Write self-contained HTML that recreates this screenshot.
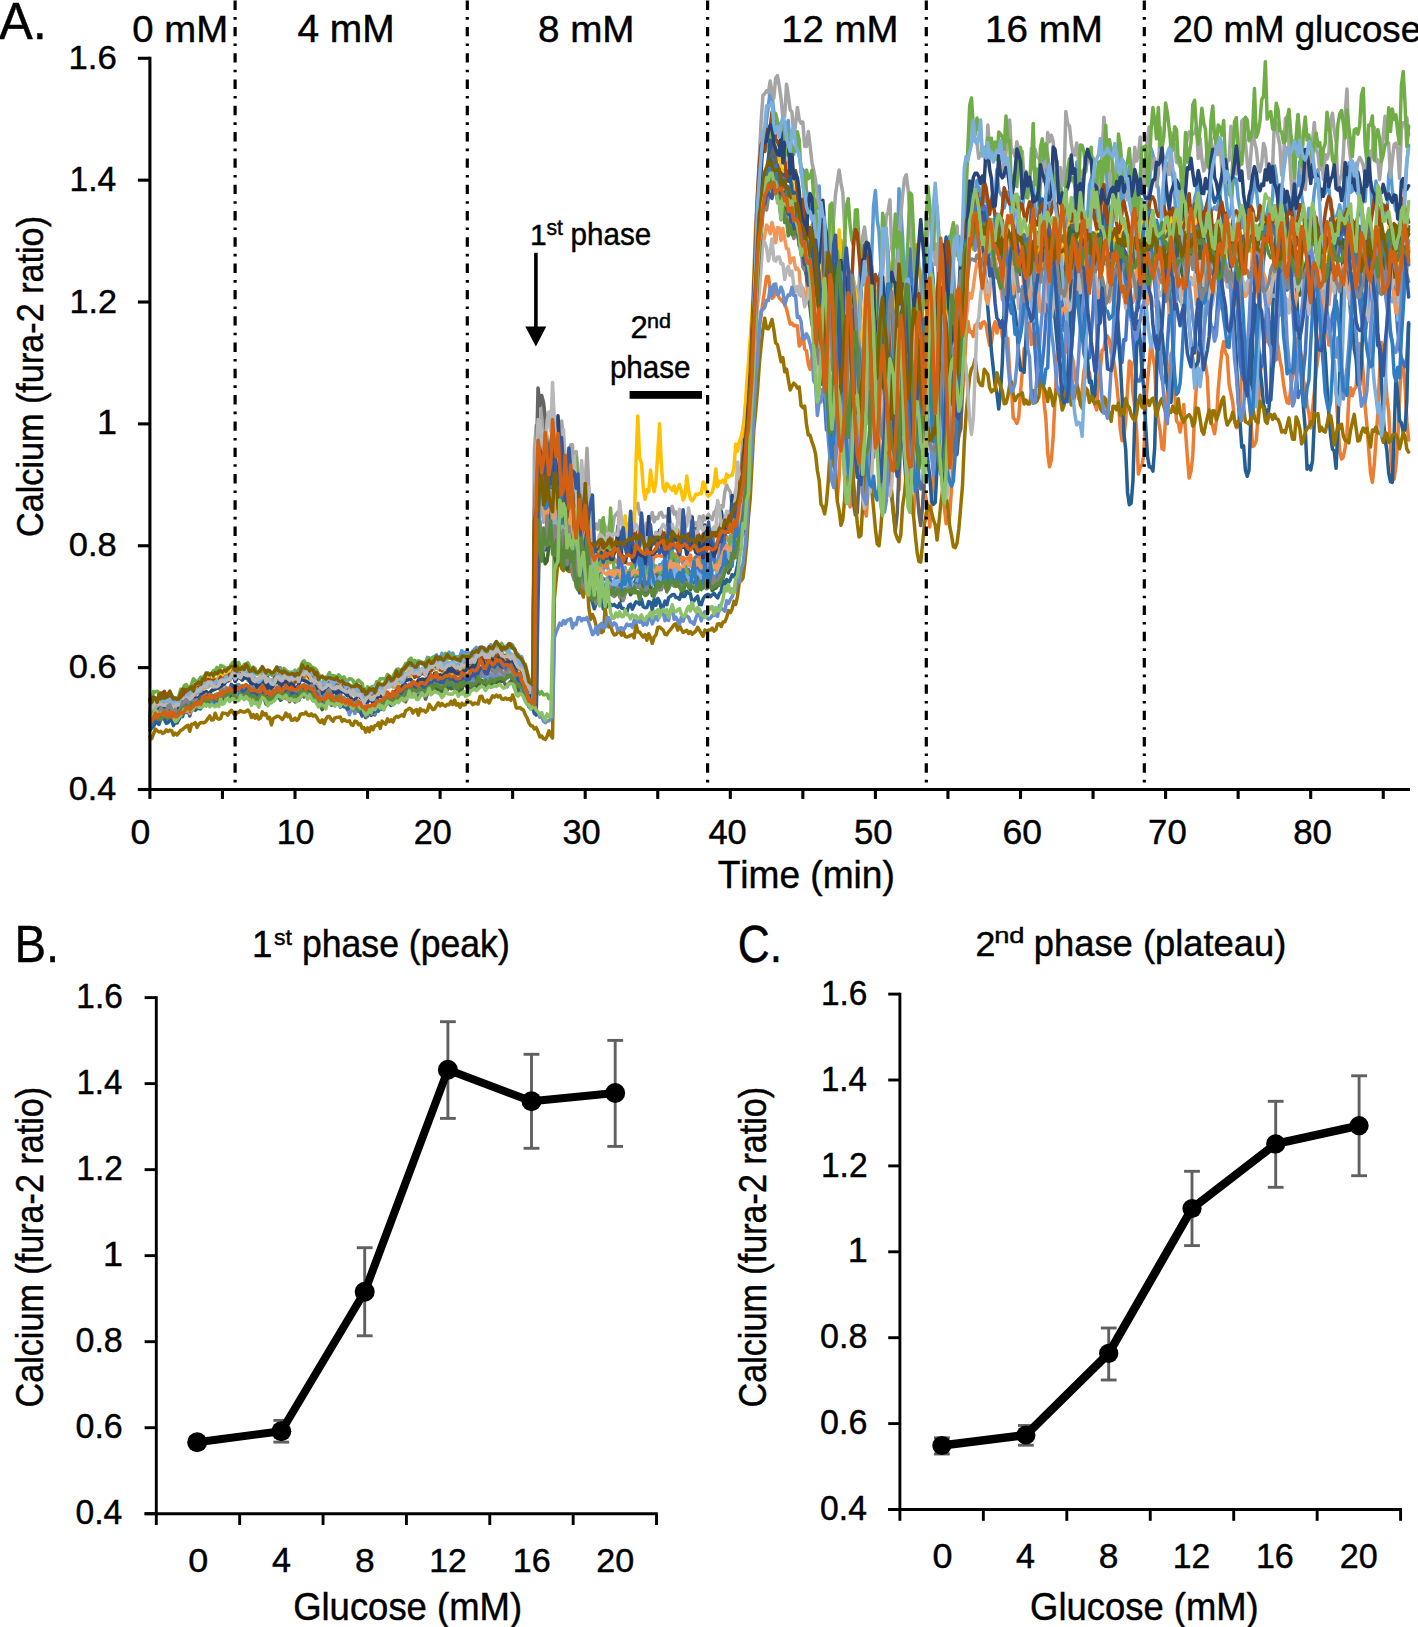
<!DOCTYPE html><html><head><meta charset="utf-8"><title>Figure</title><style>html,body{margin:0;padding:0;background:#fff;overflow:hidden}svg{display:block}</style></head><body><svg width="1418" height="1627" viewBox="0 0 1418 1627">
<style>text{font-family:"Liberation Sans",sans-serif;font-kerning:none;fill:#000;stroke:#000;stroke-width:0.45px}</style>
<rect x="0" y="0" width="1418" height="1627" fill="#fff"/>
<g fill="none" stroke-width="3.5" stroke-linejoin="round" stroke-linecap="round"><path stroke="#FFCD33" transform="translate(149.90,0) scale(1.81375,1)" vector-effect="non-scaling-stroke" d="M0 711.7l1-4.3 1-5.2 1 2.9 1 .9 1 .6 1-3.5 1 2.9 1-2.4 1 2 1-3.2 1-1.4 1 1.8 1-2.3 1 5.9 1-1.5 1-.2 1-4.8 1-.4 1-3.2 1-5.1 1 4.9 1 .5 1-2.6 1-3.1 1-1.3 1 .8 1 1.8 1-2 1-.9 1 .3 1-3.1 1-.8 1 .3 1-.9 1 5.7 1-6.7 1 3 1 1.5 1-3.3 1-.9 1-1.1 1-2.6 1-1.7 1 1.7 1-3.5 1-3.6 1 1.8 1 .7 1-1.5 1 3.5 1-1.8 1-.1 1 .8 1-2.7 1 3.4 1 1.6 1-1.2 1 1.4 1-.5 1 6.8 1-5.5 1-3 1 1.8 1 3.3 1 1 1 1 1-.8 1-5.2 1 .6 1-4.4 1 1.4 1 3.8 1-3.7 1 1.2 1-.3 1 1.2 1 1.5 1-4.1 1 2.8 1 .1 1 .3 1-1.3 1 2.6 1-6.9 1-1.1 1 3.5 1-1.9 1 4.8 1-1.6 1 2.9 1-1.4 1 3.3 1 1.3 1 2.4 1 3.6 1-3.8 1-1.7 1 1.1 1-3.3 1 4.7 1 1.1 1 3.6 1-2.5 1-1.6 1 .4 1 2.2 1-.5 1 1.7 1 2.8 1 .2 1 2.1 1-4 1-.2 1 1 1 2.2 1-1 1 .9 1 1.4 1 4.5 1-1.5 1-1.5 1-5.1 1 4.4 1-3 1-.9 1-3.9 1 .2 1-1.4 1 1.4 1-1.3 1-.4 1-3.2 1-1.1 1 4.3 1-2.8 1-2.7 1-.9 1 3.9 1-.3 1-3.9 1-1.3 1-4.9 1-1.8 1 3.5 1-2.2 1 2.5 1 .3 1-.1 1-3.2 1-1.1 1 .9 1-1 1-2.7 1 2.1 1-3.2 1 .3 1-.8 1-1.7 1 3.3 1-.6 1 .9 1-5.3 1-.8 1-1.2 1 .1 1 4.8 1-1 1 .4 1 8.5 1-5.2 1-1.8 1-3.2 1 1.8 1 .7 1-1.3 1 2.8 1-4.3 1-1.1 1-.1 1-1.1 1-4.1 1 1.9 1-2 1-.2 1 6.8 1-4.9 1-1.3 1-2.2 1-1.6 1 .3 1-1 1 2.3 1-.7 1 1.6 1-.5 1 .4 1 1.1 1-3.7 1 2.9 1 1.4 1 1.8 1 4.7 1 3 1 1.3 1-1.8 1 5.9 1 4 1 5 1 7 1-1.5 1 5.3 1 3.9 1-113.1 1-66.3 1-14.4 1-28.7 1 18 1 13.7 1 5.9 1-5.5 1 4 1-34.7 1 8.7 1-1.4 1 10.6 1 10.9 1-.2 1-24.1 1 23.7 1 18 1 11.5 1-1.3 1-26.2 1-15.5 1 24.3 1 2.6 1-21.7 1 27.3 1-7.3 1 11.6 1 17.3 1-18.4 1-11.9 1 26 1 20.5 1-2.8 1-9.9 1 1.7 1 2.3 1-2 1 2.6 1-3.3 1 1.8 1-1.8 1 6.3 1-10.9 1-.2 1-2.6 1 8.3 1-2.6 1 3.3 1-.6 1 1.8 1-1.7 1 0 1-1.2 1 3.6 1-9.6 1-1.5 1 1.2 1 1 1 5.2 1 1.8 1-.6 1-4.2 1-1 1-1.8 1-2.9 1 .9 1-1.4 1 .2 1-4.1 1 1.8 1 1.8 1-1.3 1 7.1 1-3.1 1-3.2 1 3.3 1-3.6 1 3 1 1.6 1 0 1 2.2 1-3.7 1 1.1 1 2.6 1-1.6 1 .2 1-1.9 1-5.6 1 5.2 1-1.2 1 1.1 1-4.8 1 1.8 1 6 1-2.7 1-6.4 1 4.4 1-4.2 1 .2 1-6.7 1-1.8 1 .2 1-4.3 1 2.5 1-11.8 1-.5 1-.4 1 0 1-1.2 1-3.7 1-5.1 1-9.8 1-.1 1-9 1-22.6 1-20.8 1-34.2 1-28.2 1-34.7 1-32.2 1-43.3 1-35.4 1-15.9 1-25.2 1-15 1-7 1-2 1 1.5 1 .8 1-15.4 1-.9 1 5.4 1 5.8 1 2.9 1 17 1-8.4 1 22.2 1-13.6 1 7.2 1 1.9 1-1.5 1 10.9 1 1.6 1 3.1 1 8.7 1 .9 1 2.1 1 12 1 1.6 1 24 1-2.7 1-17.5 1 3.2 1 2.3 1-1.3 1 9.1 1 25.6 1 13.3 1 12 1 16 1 1.2 1-12.5 1-22.1 1-11.6 1-3.4 1 15.7 1 19.2 1 17.5 1 11.2 1-7.1 1-11.3 1-16.3 1-8.5 1-9.6 1 15.7 1 20.6 1 19.7 1 6 1-4.3 1-20.3 1-17.7 1-19.9 1-11.9 1 14.4 1 15.9 1 16.7 1 26.4 1 18.4 1 1.8 1-13.6 1-9 1-6.5 1-47 1-26.8 1 5.6 1 6.6 1 32.4 1 27.8 1-13.5 1 16.7 1-2.2 1-25.7 1-20.6 1 4 1 5.1 1 4 1 27.2 1 17.7 1-3.4 1 3.3 1 15.7 1 7.6 1-10.6 1-23.7 1-16.7 1-32.7 1 11.6 1 4 1 14.5 1 18 1 7.2 1 5 1 9.8 1-13.3 1-21.2 1-28.2 1-3.1 1 14 1 8.6 1 19.6 1 5.8 1 3.3 1-14.2 1-28.6 1-22.3 1-25.1 1-15.8 1-22.1 1 6.3 1-8.8 1 8.3 1 14.3 1-5.1 1 .7 1-.7 1-3.3 1 7.5 1-2.8 1 5.2 1-10.7 1 12.5 1 3.7 1 9.7 1-3.4 1 4.1 1-8.8 1-1.9 1-1.6 1 0 1-8.9 1-2.7 1-.2 1-5.1 1 .5 1 .2 1-3.3 1 7.9 1 10.8 1 13.5 1 .7 1 6.7 1-4.2 1 7.4 1 .6 1 1.9 1-10 1-8.6 1-12.9 1-.9 1-1.6 1-1.1 1 7 1 9.7 1 3.1 1-14.9 1 13.6 1-17.8 1 4.7 1 3.4 1 7.2 1 17.3 1-12.1 1 6.1 1-17.1 1 4.6 1-8.8 1 4.7 1 6.9 1-12.1 1 20.5 1-.9 1-.4 1-2.8 1 4.2 1-3.9 1-5.6 1-3.8 1-.3 1-.5 1 .5 1 7.9 1 1.5 1-6.1 1 11.9 1-.5 1 11.2 1-1.6 1-5.2 1-12.9 1-3.4 1-2 1 8.3 1 17.2 1 10.2 1-17.3 1 2.8 1-16.1 1 3.6 1-5.8 1-5.1 1 6.4 1 10.6 1-1.4 1-13.1 1 3.9 1-7.3 1-7.5 1 5.7 1 4.6 1 1 1-4.5 1 7.5 1 2.3 1-5.1 1-7.3 1-2.5 1-5 1 16.6 1 .9 1 6.6 1-.5 1 13.4 1 9.6 1-5.5 1-19.5 1 .7 1-11.1 1 3.5 1 5 1-13.7 1 2.6 1-1.6 1 .4 1-22.4 1 13.7 1-1.1 1 14.5 1 2.8 1 5.7 1-5.6 1 11.5 1-5.3 1-.4 1-6.2 1 1.5 1-13.3 1 16.3 1 3.5 1 2.8 1 4.1 1-12 1-10.6 1 16.6 1-.5 1-1.7 1-2.7 1-11.7 1 15.9 1 5.3 1-.4 1 4.3 1-12.5 1-5.4 1-7.8 1 4.9 1-6.5 1 4.5 1 12.7 1 9.8 1-9 1-1.1 1-14.4 1-6 1 15.6 1 2.2 1-6.5 1 1.9 1 .8 1-1.4 1 10.8 1 7.1 1-11.2 1-8.7 1 4.9 1 4.1 1 3.1 1-9.5 1-2.9 1 7.2 1-12.6 1 16.6 1-21.7 1-3 1 12.5 1 2.4 1 7.9 1-7 1 5.3 1-7.4 1-2.3 1 3 1 10.1 1-3.3 1 25.3 1-5.4 1 8.2 1-6.2 1-14.7 1-7 1-6.7 1-5.7 1 8.5 1-10.5 1 13.5 1 6.6 1-2.8 1 2 1-2.9 1-6.8 1-3.1 1-8.5 1 12.5 1-8.6 1 5.8 1-8.1 1 22.7 1-8.7 1 0 1-20.1 1 11.7 1 2.8 1 4.2 1 9.8 1 11.3 1 1.5 1-1.8 1-17.8 1 5.4 1-5.9 1-19.3 1 6.6 1-9 1 14.6 1 6.4 1 25.1 1-15 1 13.4 1-2.4 1-13.7 1-10.3 1-11.3"/><path stroke="#CC9A00" transform="translate(149.90,0) scale(1.81375,1)" vector-effect="non-scaling-stroke" d="M0 709.4l1 2 1-4.5 1-4.3 1 1.8 1-.3 1-.6 1-1.3 1-.1 1-2.2 1 2.3 1-3.9 1 5.1 1-.4 1-1.3 1 0 1-.2 1-4 1-4.3 1 1.7 1-.9 1 .7 1-.6 1-2.8 1-2.8 1-.8 1 .3 1 2.6 1-2.8 1-4.6 1 .5 1-3.9 1 2.2 1 1.3 1 .5 1-1.8 1 1.6 1 .8 1-.5 1-5.3 1 2.5 1-2.1 1-3.5 1 4 1-4.1 1-3.5 1 2.5 1 5.1 1-1.7 1-2.9 1 3.5 1 1.5 1-7.6 1 4.2 1-1.5 1 5.5 1-.7 1-1.7 1 2 1 2.7 1 1.5 1-7 1 1.9 1 4.3 1-2.8 1 5.4 1-2.9 1 .7 1 .6 1-5.2 1-1.1 1-1.5 1 1.2 1 1.6 1-.6 1 .4 1-1.6 1 4 1-4.6 1 3.2 1-2.7 1 4.3 1-1.2 1-3.3 1-2.8 1-2 1 2.6 1-.9 1 .3 1 2.5 1-1.6 1 5.2 1 .7 1 .9 1-.2 1 3.8 1-2.9 1 1 1-3.7 1 3.4 1-.1 1 3.5 1-2.6 1 1.7 1 2.4 1-.4 1-4 1 3.2 1 .4 1 4.3 1-3.4 1 1.5 1 2.2 1-4.4 1 .6 1 3.8 1 1.1 1 .5 1-1.7 1 5.8 1 .9 1-3.6 1 .4 1-1.5 1 1.6 1-3.9 1 4.2 1-6.5 1 2.8 1-.1 1-4.2 1-3.2 1 .7 1-1 1 1.9 1-3.7 1-1.2 1-2.2 1-1.3 1-.7 1-1.2 1 2.5 1-5.2 1-3.4 1 .4 1 4.6 1 1.7 1-4 1-1.9 1 3.4 1-2.1 1 .5 1-2.7 1 .8 1-4.7 1 1.7 1 1.5 1-.4 1-1.6 1-.7 1 3.8 1 0 1 2.8 1-.2 1-2.2 1-3.4 1 2.4 1 2.1 1 1.9 1-4.9 1 4 1-1.3 1-.5 1-4.8 1 2.1 1 .5 1 1.8 1-4.8 1-1.4 1 1.3 1-2 1-.3 1-2.6 1-4.4 1 6.1 1-.4 1-.9 1-2.9 1 2.4 1-1.6 1-.2 1 1.1 1-1.6 1-1.4 1 1.7 1 .3 1-3.8 1 5.5 1 1.9 1-5.1 1 1.1 1 3.8 1 4.5 1 2.9 1-2.8 1 4.1 1 2.9 1-.2 1 7.5 1 3.5 1 4.4 1 1.5 1 3.6 1 .1 1-197.6 1-1.6 1 11.1 1 1.9 1 2.5 1-19.9 1 .5 1 14.1 1-25.6 1-1.4 1 20 1-16.4 1 11.7 1 17 1 12.1 1-11.7 1-8.3 1 14.6 1 12 1 3.2 1 6.6 1-2.6 1-43.1 1 8.4 1 28.4 1-.7 1-30.5 1 20.8 1 19.7 1 7.5 1-1 1 8.6 1 2.2 1-13.9 1-2.5 1 7.8 1 .5 1-1.5 1 5.2 1-6.9 1-1.2 1 5.3 1 1.8 1-5.7 1-4 1-4.1 1 9.4 1-.7 1-3.2 1 6.8 1-8.9 1 1.9 1 .6 1-.7 1-1.3 1-3.4 1-1.1 1 1.8 1 5.3 1-.9 1-1.1 1-1.4 1 .3 1 2.7 1 .3 1-4.1 1-7.1 1 0 1-2.4 1 5.5 1-2.4 1 4 1 .5 1-5.1 1-1.1 1 7.3 1-2.8 1-6.9 1 4.1 1 .8 1-.1 1 4.5 1-1.2 1-4.4 1 5.4 1-1 1-9.5 1 4.9 1-.9 1 5.6 1 2.5 1-3.5 1-4.3 1 .9 1-.2 1 5.4 1-1.2 1-1.9 1-1.8 1 1 1-6.5 1 .2 1-1.4 1-4.9 1-8.1 1 4 1-4.8 1-.3 1-12.1 1 3.8 1-14.6 1-14.2 1-6.7 1 2.6 1-26.1 1-10 1-27.9 1-31.9 1-33.1 1-48.3 1-19.5 1-29 1-28.7 1-10.4 1-10.2 1-22.5 1-6.9 1-.3 1 1 1 8.5 1-3.6 1-8.6 1 9.3 1 .3 1 13.4 1-16.9 1 11.7 1 15.9 1-4.1 1-1 1-9.9 1 10.3 1 15.1 1-.5 1 4.9 1 13.2 1 9.4 1-10.4 1 4.5 1 4.3 1 17.6 1 27.4 1 27.5 1 19.3 1 25 1 8.2 1-33 1-12.6 1 2.3 1 1 1 11.6 1 32.5 1 9.4 1-3.1 1-41 1-49.9 1-30.4 1-5.1 1 40.6 1 46.8 1 31.8 1 24.1 1 29.5 1-6.2 1-10.3 1-38.7 1-25.5 1 2.1 1 6.3 1 41.4 1 22.7 1 18.9 1-38.5 1-44.9 1-30.7 1 4.2 1 19.2 1 17 1 26.5 1 17.9 1 24.5 1 5.4 1-1.7 1-19.9 1-16.9 1-28.2 1-7.5 1-7.4 1 8.8 1 27.4 1 33.3 1 16.2 1-5.6 1 17.5 1-1.1 1-20.7 1-39.9 1-40.4 1-60.2 1-33.8 1 22 1 15.2 1 48.5 1 33.5 1 22.5 1-18.4 1-26.1 1-22.2 1 0 1 19.7 1 16.3 1 34.2 1 7.3 1-3.9 1-28 1-16.5 1-9.4 1 8.6 1 24 1 25.1 1-35 1-28.3 1-23.1 1-11.7 1 4.3 1-8.8 1-30.4 1-22.4 1-1 1 2.3 1 6.5 1-7.2 1-7.3 1 7.2 1-1.6 1-.5 1 2.7 1-6.2 1 6 1-.6 1-6.6 1 9 1-1.3 1 2.6 1 5.6 1-11.3 1-.2 1 1.9 1 .9 1 6.3 1 3 1-.1 1 12.6 1-2.9 1-6.4 1-18.9 1 9.1 1-5.6 1 5 1 10.1 1-1.6 1 4.4 1 12.2 1 4.2 1-2.9 1-11.7 1-6.4 1-12.6 1-2.3 1 8.9 1-6 1 4.3 1-2 1 3.5 1 4.4 1-2.4 1 25.6 1-8.1 1-7.6 1 4.1 1-15.3 1 2.4 1 4.8 1-7.2 1-7.1 1 6.2 1-2.6 1 24.8 1-19.3 1 .4 1 12.1 1-.6 1-10.9 1 1 1-9.1 1 9.7 1-3 1 2.6 1 4.5 1-1.1 1 23.5 1-17.8 1-13 1-4.5 1 6.6 1-4.1 1-5.3 1-.4 1-.3 1 10.8 1-5.6 1-11.9 1 10.2 1 13.8 1 8.9 1-10 1 6.4 1 7.7 1-8.5 1 4.7 1-15 1 4 1-10 1-6.6 1-.4 1 11.5 1 1 1 11.7 1-7.8 1-12.9 1-.2 1 8.8 1-6.3 1-8.5 1 2.8 1 5.1 1 15.7 1-2.6 1-1.7 1 12.9 1-1 1-6.1 1-.6 1-20.6 1 9.9 1-12.6 1 15.2 1 5.7 1 .7 1-.8 1 2.5 1 5 1 3.1 1-20.2 1-3.8 1 4.1 1 13.1 1-9.8 1-10.1 1-3.1 1 .9 1 .3 1 4.3 1 9.2 1-9.1 1 7.9 1-4.1 1-4.4 1-2.1 1 6.8 1-9.4 1 6.1 1 2.3 1 2.1 1 9.6 1-2.3 1 4.8 1 .1 1-6.8 1-1.5 1-7 1 2 1-4.9 1 8.3 1-.4 1-5.6 1-3.6 1 12.8 1 7.8 1-9.4 1-6.5 1-29.3 1 16.5 1 4.2 1 7.3 1-.1 1 6.2 1 7.5 1-6 1 11.3 1-9.3 1-2.5 1 .8 1-7.6 1-2.3 1-2.3 1 3.5 1-7.5 1-8.4 1 8.3 1 3 1 17.7 1 15 1 2.5 1 1.7 1-15 1-22.4 1-3.5 1 3.5 1 7.1 1-15.3 1 .5 1 6.7 1 6.2 1 1.8 1 2.2 1 6.4 1 1.9 1 .9 1 2.1 1-1.2 1-13.4 1-4.2 1-2.7 1 14.2 1 9 1-9.8 1 .6 1 16.9 1-2.1 1-4.5 1-10.6 1-1.3 1-3.3 1-5 1-2.3 1-9.3 1 6.4 1-12.8 1 6.5 1 9.9 1 4 1 17.7 1-2.2 1-3.5 1-5.7 1-3 1 3.8 1-1.2 1-11.1 1-.3 1-2.3 1 4.9 1-3.9 1 4.1 1 3.6 1 8.9 1 4.3 1-3.1 1-2 1-5.9"/><path stroke="#5B9BD5" transform="translate(149.90,0) scale(1.81375,1)" vector-effect="non-scaling-stroke" d="M0 709.9l1-3.1 1-1.5 1-3.8 1-.7 1 .2 1-2.6 1 .3 1 .6 1 1.4 1-.2 1-1.5 1 .3 1 1.2 1 .7 1 .4 1-1.3 1-1.6 1-3.4 1-.8 1-2.1 1 1.9 1-2.7 1-.8 1-3.5 1-1.9 1 2.3 1-3.4 1 1.5 1-4.8 1 2.6 1-3.6 1 1.8 1-3.4 1 2.4 1-2 1 1.6 1 .7 1-4.3 1-3.1 1 1.4 1 1.6 1-.1 1-1.6 1-2.6 1-3.5 1 3.5 1 1.7 1-5.8 1 1.5 1-1 1 2 1-2.1 1 1.8 1 .9 1 .4 1 .3 1 .3 1 1.2 1 .3 1-.1 1-1.5 1-1.3 1 2.1 1-1.5 1 3.5 1-1.5 1 1.3 1 .6 1-.1 1-8.1 1 .8 1-.3 1 6 1-3.6 1-.3 1 4.3 1-1.4 1-.5 1 1.7 1-2.4 1-.1 1 2.5 1-3.3 1-.5 1 1.6 1-1.4 1-.3 1 4.2 1-1 1 .8 1 .9 1 3.4 1 1.7 1 2.8 1 .1 1-1.5 1 1.4 1-3.2 1 1.4 1 3.1 1-1.3 1 1.6 1-.6 1 .7 1-1 1-.7 1 2.3 1-1.8 1 3.3 1 3.3 1-1.7 1-2.3 1 1.1 1-.7 1 2.1 1 4 1-2.2 1 6.2 1-2 1-3.3 1-.7 1 3.1 1-1.8 1-3.3 1-.7 1-1.6 1 3.5 1-1.7 1-3.5 1-1.2 1-.3 1 3.7 1-2 1-1.8 1-3.2 1-2.2 1 1.1 1-3.6 1 .2 1-5 1-1.7 1-2.3 1-.8 1 .9 1-2.4 1 .7 1 3.3 1-2.7 1-3.8 1 2.4 1 1.4 1-.6 1-7.2 1 1.7 1 1.9 1-3.3 1-1.4 1-1.4 1 2.7 1 1.9 1-6.3 1 7.7 1-3.3 1-3.3 1-2.1 1 4.5 1-3.6 1 3.8 1-.2 1 .3 1-1.1 1-5.3 1 3.7 1-2.2 1-.9 1 2.9 1-.9 1-2 1-2.2 1-1.6 1 2.8 1-3.2 1 0 1 .6 1 1.1 1 2.9 1-2.2 1-4.7 1 4.6 1-1.9 1-1.7 1-1.3 1 2.6 1-.1 1-.3 1 .4 1-1.6 1 3.5 1-5.1 1 1.4 1 3.7 1 4.9 1 .4 1 2.4 1 .1 1 6.6 1 7 1 10 1 7.1 1-2 1 1.2 1 9.5 1-179.4 1-51.1 1-13.2 1 22.8 1 13.1 1-22.4 1 3.6 1 11.2 1 2.1 1-1.6 1-9.1 1-2.4 1-28.6 1 29.1 1 16.4 1-24.5 1 37.8 1 31.4 1 3.3 1-18.3 1 3.9 1 2.3 1 15.6 1 8.4 1-12.9 1 6 1 .4 1 0 1 22.9 1 7.2 1-18.5 1-6.4 1 26.5 1-3.4 1 4.6 1-9.1 1 5.8 1-.1 1-2.3 1-2.8 1 7.1 1-.5 1 5.7 1-.6 1-8.1 1 8.4 1-.6 1-2.4 1-5.4 1-.7 1 9.2 1-2.1 1-5.5 1 0 1 .1 1-10.7 1 1.6 1 6.3 1 .6 1 .9 1-7.2 1 8.1 1-3.6 1 3.8 1-7.3 1 5.5 1-1 1 3.7 1-4.9 1-.1 1-3.2 1 3.4 1 1.4 1-4.5 1-4 1 .3 1-.5 1 4.2 1 4 1-8.1 1 1.3 1 5.8 1 1.5 1-1.8 1-1.8 1-5 1 9.6 1 1.3 1-3.4 1-7.7 1 3.1 1 2 1 2.3 1-3 1-1.4 1 3.9 1-2.9 1-3.7 1 1.6 1 5.7 1-3.5 1-8.9 1-4.8 1 7.7 1 .2 1-6.4 1 4.3 1-2.2 1 3.8 1-18.7 1-18.4 1 1.2 1-1.1 1-15.1 1-6.7 1-9.8 1-33.8 1-33.9 1-42.8 1-56.5 1-22.7 1-44.9 1-32.5 1-36.8 1-23.1 1-27.8 1 12.2 1-24.4 1-13.4 1-16.6 1 5.6 1 16.4 1 22.6 1-8.7 1-1.1 1 2.2 1 16.5 1-6.4 1-11.1 1-5.1 1 34.9 1 .6 1-1.9 1-12.2 1 6.9 1 6.9 1 11.5 1 2.4 1 3.1 1 17.9 1 6.2 1 10.8 1 3.8 1-.2 1-11 1 7.6 1-21.8 1 48.4 1 32.4 1 43.5 1 18.4 1-23.1 1-9.6 1-22.9 1 1.4 1-15 1 37.7 1 17.7 1 8.1 1 16.6 1 4.9 1-28.4 1-48 1 12.1 1-9.4 1 10.4 1 7 1 39.4 1 .6 1 11.4 1 24.2 1-10.4 1 10.1 1-22.5 1-29.5 1-57.2 1-48.7 1-15.2 1 28.9 1 12.7 1 32.3 1 19.4 1 4.7 1 13.6 1-6.1 1 19.6 1 15.2 1 11.3 1-57.8 1-26.4 1-69.2 1 21.2 1 27.9 1 46.3 1 41.5 1 9.7 1-52.7 1-18.6 1 10.3 1 7.4 1 18.3 1 20.5 1-2.1 1-38.4 1-23.4 1-24.3 1 16.5 1 34.6 1 5.7 1 41.6 1 19.1 1 9 1 1.2 1-1.4 1-11.7 1-42.8 1-28.8 1-11.2 1-28.1 1 2.1 1 30.6 1 33.5 1 3.9 1-3.2 1-2.9 1-18.9 1-23.2 1-23.1 1-32.8 1 8.5 1-20.9 1 30.7 1-28.3 1-11.4 1 8.9 1 20.3 1-25.5 1 17.4 1-6.1 1 12.5 1 2 1-13.4 1 11.4 1-12.2 1-26.5 1 20.8 1 3.1 1 2.9 1 11.7 1-8.1 1-7.6 1 6.1 1 17.2 1-9.3 1 15 1 7.7 1-31.6 1 8.8 1 1.4 1-12 1-3.5 1-11.5 1 5.8 1 3.6 1-7.7 1 25.4 1 7.6 1 2.9 1-37.1 1-6.4 1-21.6 1 26.7 1-4.9 1 36.9 1-4.8 1-6.4 1-19.8 1-20 1 25.5 1-.9 1 9.5 1 2.8 1-1.9 1 31.2 1 3.7 1 12 1-37.9 1-8.9 1-33.8 1 19.7 1-8.4 1 17.7 1 31.9 1-4.2 1-2 1-31.2 1-6.8 1-3.2 1 .2 1 40.4 1 3.7 1-26.8 1-25.4 1-36.8 1 13.7 1 52.9 1 26.6 1 11 1-23.2 1-4.2 1-19.1 1 1.8 1-4.7 1 28.8 1-19.4 1-.8 1-12.5 1-15.6 1 17.2 1-20.1 1 41.3 1-7.2 1-9.1 1 28.5 1-17 1 22.5 1-6.4 1-11.2 1-13.8 1-42 1 5.8 1 9.6 1 17.9 1 6.6 1 26.3 1-8.7 1 10.1 1-37.7 1-14.2 1-2.3 1 11.4 1 2.7 1 18.6 1 30.6 1-17.6 1 15.1 1-15.6 1-4.7 1-10.8 1 9.1 1 11.5 1-7.1 1 10.2 1-17.4 1-5.8 1-20 1 24.9 1 9 1 20.2 1 .7 1 8 1-32.3 1 7.8 1-1.3 1-2.3 1 2.5 1-5.9 1-6.8 1-22.7 1-5.3 1 21.4 1 19.1 1 7.7 1-4.1 1-27.5 1-7.4 1 1.2 1 19 1 9.8 1 19.6 1-19.8 1 37.1 1-16.9 1-11.7 1-12.9 1-10.2 1-22.1 1 18.1 1 16.9 1 13.2 1 5.1 1-8.3 1 2 1-6 1-9.3 1 5.3 1-11 1-31.8 1 10.8 1 19.9 1 10.1 1-9.1 1 6.4 1-.3 1 9.8 1-15.5 1 1.2 1 25.8 1-1.7 1-37.2 1 0 1-24 1 34.1 1 12 1 26.3 1-10.9 1-14.8 1 20.1 1-18.7 1-18.2 1-10.1 1-11.6 1 22.9 1 3.4 1-1.7 1-1.2 1-7 1 1.1 1 21.9 1 .4 1 16.9 1-8.7 1-5.5 1-7.4 1 12.9 1 6.6 1-32.8 1-23.8 1-4.7 1 29.2 1-1.4 1-19.4 1 19.1 1 2.9 1 2.7 1 12.8 1-20.2 1 12.9 1-29.9 1 12 1-2.6 1 30 1-7.4 1-22.7 1 13.2 1 4.8 1 5.6 1 16.2 1-12 1 9.8 1-43.5 1-7.7 1 23.3 1 11.9 1 7.8 1-5.4 1 17.9 1-1.4 1 4.6 1-33.8 1-29.5 1-17.7"/><path stroke="#ED7D31" transform="translate(149.90,0) scale(1.81375,1)" vector-effect="non-scaling-stroke" d="M0 722.1l1-4.2 1-1.3 1-2.1 1 1.4 1 1.7 1 .4 1-.5 1-4 1 0 1 2 1 .3 1 2.6 1-3 1 3.4 1 .7 1-4.1 1-3.6 1-.6 1-4.3 1 2.6 1 .5 1-1.8 1 .7 1-3.8 1-1.5 1 0 1-2.6 1 2.9 1-2.9 1 .6 1-.1 1-4.3 1-.2 1-1.3 1 .9 1-.9 1 2.4 1-3.7 1-.6 1-3.9 1 5.7 1-3.8 1 2.3 1-5.3 1-.4 1 .4 1 1.3 1 2.1 1-2.5 1 4.3 1-2.8 1 .2 1-1 1 2.7 1-.4 1-1.1 1 5.1 1-1.9 1 .7 1-1.1 1-3.2 1-1.1 1-1.6 1 4.2 1 4.9 1-3 1 .3 1 1.5 1-5.7 1-3.3 1 3.6 1 .8 1 5.3 1-3.1 1-3.9 1 5.1 1-1.4 1-.7 1 1.9 1-1.1 1 3.1 1-4.3 1 4.5 1-4.4 1 .1 1 .1 1-1.4 1 4.4 1-3.1 1 3 1 2.2 1 3.1 1-.9 1 0 1 4.6 1-1.4 1 .1 1-2.7 1-2.7 1-1 1 4.3 1-.8 1-1.4 1 .5 1 1.8 1 .4 1-1.6 1 1.3 1 3.4 1-1.3 1 1.1 1 .1 1-.7 1 1.7 1 .6 1 2 1-1.5 1 2.4 1 6.3 1-5.6 1-1.7 1 1.3 1-.7 1-1.3 1-.7 1 .4 1-6.1 1 2.8 1 .1 1 1.6 1-7.3 1 4 1-4 1 1.1 1-3.8 1-.5 1-1.4 1-3 1 .7 1 .5 1-4.7 1 1.9 1-5.4 1 .8 1-3.2 1 4.7 1 2.6 1-3.4 1 3.5 1-1.1 1-1.9 1-.5 1 2.7 1-4.8 1 2.3 1 .2 1-4 1-1.7 1 3.6 1 1.7 1 1 1-.2 1-5.3 1-1.8 1 3.3 1-.6 1-3 1 5.8 1 2.7 1-2.2 1-5 1 1.5 1-.2 1-2.3 1-1.5 1 3.3 1-4.2 1-1.7 1-1.1 1 .1 1-2.2 1 .5 1-4.2 1 2.3 1 2.8 1 3.5 1-4 1 2 1-4.2 1-.3 1 2.2 1-4.6 1 .3 1 3.5 1 2.1 1-2.6 1 4.1 1-3.2 1 3.7 1-5.4 1 6.3 1 7.4 1 .7 1-2.3 1 5.1 1 1.6 1 2.3 1 6.9 1 3.2 1 2.9 1 3 1-120.8 1-84 1-11.6 1 25.8 1-21.1 1-17.9 1 32.2 1 11.7 1-.3 1-1.5 1-26.5 1 7.7 1 17.8 1 8.9 1-17.2 1-32.9 1 31.2 1 17.2 1-.6 1-9.8 1 17.8 1 7.6 1-42.5 1 30.6 1 21.2 1 6.2 1 .9 1-4.7 1-31.8 1-3.7 1 16.7 1 26.9 1 11.1 1-.2 1-9.7 1-3.4 1-2.7 1 6.3 1 2.8 1 1.5 1-.2 1-5 1 .9 1-1 1-2.9 1 3 1 1.5 1-.4 1-1.8 1 2.6 1-3.5 1 3.7 1 .4 1-.2 1 .6 1-9.6 1-.1 1 3.3 1-2.7 1-.3 1 3.7 1-.9 1 3.3 1 1.4 1-5 1 5.8 1-6.7 1-.2 1-1 1 .1 1 .7 1 .2 1 .6 1-2.5 1 2.8 1-3.3 1-2.7 1 5.4 1-2.6 1 2 1-3.3 1 7.9 1-3.4 1 2.7 1-1.9 1 2.7 1-5.8 1 9.1 1-5.3 1-1.7 1-2 1-.9 1 7.2 1 .6 1-7.6 1-2.1 1 2.2 1-.4 1-3 1 5 1-3.6 1-1.2 1-4.8 1 0 1-3.3 1-8.6 1 2 1 4.5 1-1.6 1-1.9 1 1.7 1-17.2 1-4.5 1-9.6 1 6.2 1-13.4 1 1.6 1-13.5 1-28.4 1-25.8 1-28.1 1-26.6 1-20.4 1-13.6 1-20.8 1-9.7 1-14.1 1-12.2 1-12.8 1 0 1 12.2 1 9.9 1-1.7 1-5.9 1 3.2 1 3.7 1 2.1 1 1.8 1 2.5 1 4.9 1 7.6 1 7.4 1-1 1 2.6 1-.3 1 .6 1 20 1-2.6 1-9.8 1 15.5 1 1.5 1 13.5 1 5.3 1-11.7 1 10.9 1-1.4 1-6.2 1-6.4 1 7.9 1-10.1 1 4 1 24.2 1-14.9 1 11.9 1 33.4 1 34.2 1 39.3 1 13.5 1-20.2 1-44.7 1-15 1 14.6 1 21 1 20.8 1 32.4 1-5.5 1-39 1-30.5 1-2.9 1 27.5 1 19.6 1 19.1 1 13.6 1 7.2 1-27.1 1-41.8 1-49.7 1 1.8 1 20.7 1-15.3 1-47 1 6.1 1 31.7 1 30.6 1 39.7 1 3.7 1-47.6 1-30.4 1 16 1 13.8 1 31.2 1 37.9 1-49.4 1-59 1-11 1 18 1 58.3 1 31 1 31.3 1 5.7 1-24.6 1-41.7 1-21.7 1 19.4 1 8.1 1 36.3 1 8.2 1 8.2 1 19.6 1-28 1-20.8 1-51.6 1-9.7 1 7.7 1 26.3 1 25 1 31.7 1 16.1 1-1.1 1-7.7 1-26.7 1-30.7 1-20.3 1-19.1 1 18.3 1-7.3 1-33.2 1-27.8 1-30.7 1-16.2 1 10.8 1-.2 1 4.7 1-11.3 1-1.2 1-.7 1 4.9 1-5.6 1-.9 1 3.2 1 11.3 1 9.1 1-2.6 1-14.7 1-6.3 1 11.4 1-9.3 1-.8 1 13.9 1 5.4 1-1.1 1-2.8 1 33.4 1 14.8 1 31.4 1 1.7 1 3.7 1-5.5 1-25.3 1-20.7 1-23.3 1-1.4 1-11.2 1-12.9 1 21.3 1-10.8 1-.5 1 8.5 1 8.4 1 9.6 1 16.5 1 26.5 1 16.5 1 33.9 1 13.8 1-6.7 1-22.5 1-37.2 1-33.9 1-15.8 1-6.4 1 12.2 1-8.3 1 3.7 1-10.2 1 4.2 1 8 1 7 1 13.6 1 10.9 1 13.5 1 1.3 1-10 1-19.6 1-8.3 1 15 1-4.7 1 11.9 1 15.6 1 4.3 1 5.5 1-27.4 1-12.4 1-19.8 1-.9 1-14.7 1 1.7 1 3.7 1 12.9 1 4.1 1 11.3 1 14.8 1 18.7 1 27.3 1 11.5 1-4.6 1-15.4 1-30.2 1-29.5 1 1.8 1 30.3 1 14.1 1 23.6 1 43.3 1-7 1-2.1 1-10.2 1-47.5 1-25.1 1-19.3 1-21.5 1 15 1 10.5 1 38.9 1 14.8 1 9.8 1 18.4 1 1 1-33.9 1-23.7 1-22.4 1-16.5 1 26.3 1 13.4 1 28 1 2 1 9.1 1-10.8 1-16.9 1 26.9 1 25.5 1 21.3 1-6.7 1-16 1-41.7 1-28.1 1-34.8 1-10 1 6.5 1 13.6 1 3.8 1 12.8 1 37.8 1 5.8 1 5.2 1 7.5 1-12.8 1-31 1-20.6 1-17.9 1-9.8 1 11.2 1 2.9 1 28.3 1 9.2 1 8.9 1 18.7 1 6.7 1-.9 1-16.1 1-47.3 1-8.2 1 14.8 1 10.5 1 17.7 1 20.7 1 27.7 1-1.3 1-4.9 1-24.3 1-37 1-20.3 1-5.9 1-18.9 1 7.7 1-14.7 1 11.1 1-5.4 1 5.3 1-1.7 1 10.4 1 13.3 1 8.6 1 15.1 1 11.2 1 7.8 1 .9 1-14.5 1-12.9 1-4.9 1-28.7 1-4.5 1 11 1 7.8 1 23.7 1 6.6 1 17.9 1 8.3 1 14.6 1-17.6 1-18.2 1-21 1-13.1 1-20 1-10.9 1 2.5 1-.3 1-1.6 1 17.4 1-1.9 1 9.2 1 19.4 1 17.7 1 35.4 1 25.7 1 8.5 1-2.1 1-9.5 1-14.6 1-34.1 1-11.1 1 8 1-6.5 1-2.1 1-28 1-15.4 1 10.9 1 18.9 1 32.9 1 18.5 1 24.9 1 23.2 1 9.4 1-17.1 1-25.2 1-26.9 1-40.9 1-29.9 1 6.9 1 20.7 1 26.2 1 15.4 1 34.9 1 28 1 4.7 1-13.4 1-25.6 1-42.4 1-37.5 1 3.3 1 21.9 1 35.7 1 18.8"/><path stroke="#A5A5A5" transform="translate(149.90,0) scale(1.81375,1)" vector-effect="non-scaling-stroke" d="M0 713.0l1-.8 1-2.7 1-1.5 1-.7 1 2.4 1-1.3 1-.4 1 1.3 1-2.6 1 2.3 1-7.5 1 2.1 1-.2 1 2.9 1 2 1-.7 1-2 1-7.2 1 .2 1-3.6 1 3.2 1-1.3 1 .1 1-2.3 1 .8 1-2.2 1-.6 1-2.4 1-1.3 1-3.4 1-1.2 1-1 1 1.7 1-.6 1 .7 1-5.2 1 2.4 1 2.6 1-7.7 1 4.3 1-.7 1-.2 1-1.6 1-4.4 1 2.2 1-1.1 1 1.9 1 .1 1-2 1 2.2 1-.4 1-2.6 1 1.2 1 4.5 1-5.7 1 5.7 1 2 1 2.2 1 1.1 1-3.9 1 1.7 1-1.9 1 .6 1 7 1-5.3 1 .4 1 1.4 1-.6 1 1.1 1-7.4 1 1.8 1-1.3 1 4.5 1-.9 1-5.1 1 1.1 1 2.4 1 .7 1-4 1 4.9 1-3.8 1-2.3 1 .5 1-2 1 4.6 1-1.9 1-2.8 1 3.7 1 .4 1 2 1 1.1 1 .9 1 7.7 1 .3 1 2.1 1-5.8 1 2.9 1-2.3 1-.2 1 3.2 1 1.3 1-4.4 1 .1 1 1.7 1 4.7 1-4.6 1 2.1 1 .3 1 .3 1 1.7 1-1.5 1-3.4 1 2.8 1 1.9 1-1.7 1 .8 1 3.6 1 3.1 1-.3 1-3.7 1-2.8 1 4.8 1-4.7 1 1.6 1-5.8 1 1.5 1 .8 1-3.8 1 .2 1-2.5 1-.3 1-2.7 1 1.3 1 1.2 1 2.3 1-6 1-1.9 1 2.6 1-4.8 1 4 1-4.8 1-2.2 1-2.2 1-1.2 1 1 1-1.7 1 2.3 1 .8 1 1.2 1-1.2 1-.1 1-3 1-3.3 1 1.9 1 1.2 1-1.2 1-.6 1-2.1 1 2.5 1-.9 1 2.3 1-4.8 1-.2 1-.7 1-1.3 1 7.4 1-3.7 1-2 1 .8 1 0 1-2.5 1-.8 1 .9 1-.1 1 1.7 1-3.1 1-.5 1-.5 1-4.2 1 2.7 1 0 1-5.4 1 2.7 1-1.7 1 4.6 1-2.7 1-2.4 1-1.3 1 1.1 1 1.1 1 .1 1-1.5 1-.4 1-.6 1 6.6 1-3.7 1 3 1 .3 1-5.1 1 .6 1 8.3 1 4.3 1 .1 1 1.7 1 1.6 1 3.4 1 1.6 1 11.3 1 1.7 1 5.3 1 .4 1-244.7 1-24.1 1 17.5 1 5 1-49.2 1 18.1 1 28 1 8 1-4.5 1-7.7 1-15.6 1 19.3 1 5.9 1-27.8 1 29 1-30.3 1 20 1 18.1 1 3.4 1 31.4 1-49.2 1 0 1 51 1-44.2 1 18.5 1 24.6 1 9 1-1.7 1-16.2 1-37.5 1 40.9 1 31.6 1 4.6 1 3.7 1-5 1 5.4 1-8.8 1 3.8 1-2.3 1 4.5 1 5.1 1-3.8 1-9.6 1 12.4 1-13.9 1-2.4 1-2.4 1 10 1-1.9 1 4.8 1 1.5 1-2.8 1 5.2 1-13.3 1 4.1 1-7.5 1-7.1 1-1.6 1 11.1 1 .8 1 10 1 13.8 1-16 1 .7 1-6.5 1-4.7 1 9.3 1-4.6 1 1.4 1-5.6 1-.7 1 4.8 1-.9 1 .2 1 1.8 1-8.5 1-3.5 1 7.8 1-2.3 1 8.9 1-3.1 1 3.1 1-1.8 1 6.6 1-8.7 1-2 1 .8 1 4.4 1 3.6 1-.7 1 4.2 1-10.7 1 11.8 1-12.5 1 4 1-2.8 1-2.7 1 3.4 1 2.1 1-7 1-2.2 1-5.6 1 10.7 1-9.8 1 1.3 1-15.3 1-6.8 1 4.1 1 2.6 1 15.2 1-8.5 1-8.2 1 7 1-19.7 1-9.2 1-37.5 1-18.9 1-17.7 1-3.5 1-22.2 1-39 1-53.7 1-51.9 1-30.1 1-35.6 1-36.9 1-25.8 1-2 1-2.7 1 1.8 1-11.5 1 11.4 1 5.7 1-20.2 1-2.3 1 10.3 1 12.7 1 19.5 1-1.7 1-32.3 1 11.4 1 14.2 1 2.3 1 25.3 1-13.7 1-16.1 1 11.8 1 3.9 1-1.3 1 24.3 1 .1 1-14.8 1 14.1 1 16.6 1 8.2 1 9.9 1 16.2 1 8.3 1 5.7 1 24.9 1 10.8 1 37.9 1-11.3 1-14.7 1-15.6 1-24.5 1-23.5 1-12.6 1-12.1 1 13.1 1 9.6 1 33.6 1 45.5 1 26.4 1 1.6 1 13.6 1 20 1-14.9 1 11.6 1-46.2 1-29.6 1-16.8 1-10.5 1 15.4 1 22.8 1 10.2 1 1.1 1 42.2 1 7.4 1 2.5 1-12.2 1-20.3 1-20.4 1-33.9 1-25.7 1-4.4 1-11.9 1 48.5 1 9.9 1 15.9 1 10.1 1-43.5 1-25.3 1-20 1-16.4 1-4.2 1 14.4 1 20.9 1 37.4 1 29.2 1-7.9 1 21.4 1 9.8 1 28.7 1-26 1-8.6 1-40.2 1-22.9 1-12.7 1 5.1 1 13.9 1 27.3 1-20.5 1 58.2 1-8.2 1 32 1-13.7 1-2.4 1-19 1-6.5 1-19 1-24.6 1-5.9 1-9 1 30.2 1-5.3 1-15.8 1-25.1 1-53 1 3.5 1-37.2 1-4.2 1 18.1 1 1.8 1 4.1 1 15.3 1-4.4 1 1.1 1-7.8 1 18.9 1-41.1 1 26.4 1-.8 1 1.9 1-2.5 1-3.4 1 4.2 1-10.3 1 10.7 1 25.4 1-23.8 1-17.9 1-15 1 32.8 1-2.5 1 6.3 1-14.7 1 7.1 1 17.3 1-14.7 1 29 1-9.2 1 14.4 1-.2 1-37.1 1 5.2 1-4.5 1 7.6 1 1 1 4.5 1 18.8 1-18 1 3.2 1-33.6 1 9.1 1-6.4 1 6 1 22.3 1 7.7 1 18 1-21.7 1 18.4 1-5.2 1-69.4 1 12.5 1 2.1 1 17.3 1 11.3 1 .5 1-12 1 18 1 15.1 1-2.8 1-4.5 1 3.2 1-14.9 1-8 1 13.7 1-5.3 1 9.1 1 17.6 1 3.6 1-14.1 1-19.3 1-37.3 1 22.5 1 13.2 1 19.9 1 19.4 1 2 1-14.9 1-20.8 1 3.4 1-19 1 36.1 1 3.4 1 9.7 1 7.7 1-17.4 1 .7 1-8 1-27.8 1 13.8 1-5.5 1-18.6 1 37.4 1 16.9 1-36 1-17 1-11.4 1 42.9 1-8.4 1-2.9 1 27.8 1-12.4 1-46.8 1 21.5 1 27.4 1-5.8 1-.6 1 4.7 1-41.6 1 17.5 1-5.8 1 18 1 .3 1 4 1 2.4 1 8.7 1-28 1-11.6 1-6.2 1 .2 1 2.3 1-1.5 1-6.2 1 31.6 1-20.1 1 21 1 11.6 1-4.2 1-20.5 1 1.1 1-9.7 1 15.1 1 2.4 1-17.3 1 16.7 1-11 1 26.5 1-1.8 1 14.6 1-23.4 1 .8 1-34 1 18.6 1 6.7 1 22.4 1-7 1-1.7 1-44.1 1-2.1 1 23.4 1 19.1 1 17 1-23.6 1-25.7 1 12.7 1 7.1 1 16.8 1 5.9 1-8.3 1-20 1 5.7 1 23.2 1 5.4 1-6.2 1-3.5 1-47.8 1 2.7 1 13.2 1 9.5 1 29.6 1-12.7 1-43.8 1-2 1 26.6 1 32.5 1 22.8 1-12.8 1-46.6 1-24.2 1 19 1 39.3 1 .2 1 16 1-25 1 10.7 1-11.9 1-22.5 1-18.3 1 26.9 1 4.8 1 15.5 1-13.2 1 22.8 1-24.6 1 4.3 1-5.9 1-32.1 1-7.8 1 17.7 1 10.5 1 49 1-10 1-5.6 1-20.5 1-40 1-25.3 1 55.4 1 14 1 10.9 1 .6 1 3.5 1-11.3 1-4.6 1 3 1 5.3 1 11.7 1-18.2 1 23.6 1-31.8 1 5.9 1-30.1 1 34.8 1-1.9 1 19.8 1-18.5 1-24.4 1-20.5 1 25.9 1 1 1 34 1-17.1 1-15.5 1-1.3 1 6.2 1 29 1-48.8 1-6.9 1 .2 1-5.1 1 17"/><path stroke="#FFC000" transform="translate(149.90,0) scale(1.81375,1)" vector-effect="non-scaling-stroke" d="M0 702.2l1-.6 1-4.2 1 .5 1 2.3 1-3.1 1 2.6 1-4.5 1 1.3 1 2.1 1 1.7 1-1.8 1 1.3 1-1.6 1 4.6 1 .7 1-7.5 1 0 1 2.4 1-8.7 1 1.6 1-2.1 1 4.4 1-3.7 1-3.6 1 0 1 2.9 1-4.7 1 1.3 1-3.7 1-.7 1-1.2 1-3 1 5.8 1-3.8 1 .7 1-1.6 1 1.3 1-2.3 1-2.9 1 1.4 1 1.3 1-3.2 1-1.1 1 2.2 1-6.5 1 5.3 1-2 1 3.8 1 .4 1-3.9 1 .8 1-.4 1-3.3 1 6.1 1-1.1 1 .5 1 4.8 1-1.5 1 4.2 1-3.4 1-3.8 1 1.6 1 2.5 1 1.2 1 .9 1-.3 1 0 1 .6 1 1.1 1-5.5 1-2.5 1 1.5 1 .6 1 2.3 1-.7 1-3.5 1 2.2 1-2 1 4.1 1-.9 1-.6 1-.7 1-5.1 1 5.4 1-2.9 1-1.3 1 5.2 1-3.1 1 3.6 1-4 1 3.2 1 1.1 1 0 1 2.9 1 6.8 1-2.6 1-1.6 1-3.2 1-.3 1 2.2 1 4.8 1-3.5 1-5.9 1 8.7 1-5.7 1-.3 1-2.3 1 5.9 1 1.4 1-.4 1 3.4 1 .1 1-3.6 1-.2 1 4.3 1-.4 1 3 1 3.7 1-2.8 1 .9 1 1.6 1 1 1-2.3 1-5.1 1 2.1 1-2.3 1-6.6 1 4.9 1-2.3 1-5.8 1 .7 1 2 1-1.7 1 2.9 1 0 1-6.1 1 .8 1-.3 1 3.3 1-1.4 1-3.9 1-3.8 1-2.8 1 2.9 1 2.7 1-1.8 1 1.6 1-1.4 1 .3 1-4.3 1 3.7 1-.4 1-2.9 1-4.9 1 3.6 1-1 1-3.2 1 1.9 1-2.8 1 3.8 1 0 1 1 1-4 1 1.5 1 2.3 1-1.2 1 1.9 1-.5 1 .1 1 1.2 1-2.1 1-1.9 1-.8 1 .9 1-4.4 1 1.7 1 2.5 1-3.3 1-3.9 1 .7 1-1.3 1-2.9 1 1.5 1 .8 1 1.7 1 1.2 1-3.3 1 .8 1-5.4 1 4.3 1-1.3 1-3.4 1 7 1-6.4 1 4.2 1 1.2 1-2.6 1 .9 1-1.1 1 1.1 1 1.3 1 3.2 1 1.4 1-.5 1 6.3 1 3.2 1 2.1 1 5.9 1 5.6 1 2.5 1 1.1 1-157.2 1-27.4 1-2.4 1-12.5 1-14.6 1 15.7 1 1.4 1-46.6 1 21.4 1 23.2 1-14.5 1 17.1 1 8.8 1 7.3 1 4.1 1 3.6 1-45 1 16.8 1 19.1 1-37.6 1 34.7 1 10.4 1-32.1 1 13.2 1 16.8 1 17.5 1 9.8 1-4.3 1-44.3 1 10.8 1 31.2 1 11.7 1 1.1 1 6.9 1-.8 1-6.3 1-.8 1-1.1 1 5.6 1 .4 1-5.5 1-1.4 1-.2 1 2.5 1 3.7 1-4.9 1-6.2 1 7.5 1-2 1-7.7 1-18.9 1 19.1 1 10.7 1 0 1-2.9 1-11.4 1-68.7 1-46.7 1 42.3 1 4.5 1 24.8 1 11.8 1-9.6 1 2.2 1-21.8 1 13.6 1 7.9 1-10.2 1-27.8 1-29.9 1 41.8 1 22.5 1 3.3 1-7.8 1 2.6 1 1.9 1 2.4 1-4.4 1 7.2 1-4.8 1-3.8 1 6.8 1 8.7 1-3.9 1-20.1 1 13.7 1 9.4 1 1.6 1-2.5 1-4.2 1 .6 1-1.2 1 .3 1-11.9 1 3 1 9.1 1 2.4 1-2.5 1-1.5 1-7.3 1-16.1 1 17.7 1-5.3 1 .9 1-2.2 1 3.4 1-9.4 1 2.9 1-1.4 1-.4 1-7.1 1-24 1 7.1 1-9.4 1-5.3 1-8.4 1-10.8 1-33.3 1-20.8 1-24.7 1-26 1-37 1-38.5 1-27.7 1-25 1-24.4 1-12.2 1-15 1 10.4 1-13.7 1 .7 1 8.2 1-1 1 15.7 1 2.1 1 2.6 1 9.4 1 7.6 1 7 1-8.3 1-11 1 1.9 1 .1 1 11.4 1 6.6 1 10.5 1 19.8 1 9.8 1 2.4 1-8.2 1 7.7 1 14.4 1-6.6 1-6.9 1 15.8 1 1.4 1 14.9 1-19.4 1 12.6 1 9.5 1 32 1 7.1 1 19.3 1 9.6 1-2.4 1-42.7 1-11.6 1-18.3 1-23.3 1 26 1 11.6 1 37.8 1 20.5 1 5.1 1-28.7 1-16.6 1-5 1 11.4 1 9.1 1 26.9 1-3 1 20.2 1 8 1 4.4 1-3.2 1 3.4 1-16 1-20.4 1-30.2 1 3.6 1 15.2 1 8.4 1 3.3 1 7.6 1 13.5 1 13.2 1-18 1-10.5 1-7.6 1-21.7 1-6.5 1-7.9 1 7.2 1 27.5 1 5.7 1-17 1-17.5 1-13.3 1 12.6 1 5 1 20.7 1 26.6 1 3 1 22.6 1-23.1 1-4.8 1-10.7 1-25.4 1-9.6 1 19.1 1 11.4 1 21.1 1-4.7 1 12.1 1-.7 1 .5 1-29.8 1-26.2 1-24.1 1 7.5 1-6.2 1 31.4 1 10.1 1 2.9 1-27 1-15 1-22.5 1 .9 1-16.6 1-18.4 1-18.2 1 10.6 1 2.3 1 23 1-13.5 1-1 1 1 1-1.8 1 6.3 1 3.7 1-7.9 1 2.7 1 2.1 1 .6 1-11.2 1 4.7 1-7 1 24 1 6.6 1 0 1 8.6 1-8 1 5.4 1-8.7 1-3.3 1-.3 1-23.8 1 3.7 1-1.1 1 12.2 1 4.8 1 1.6 1-.3 1-.2 1-6.9 1-3.2 1 1.7 1 12.4 1-2.6 1 13.6 1 12.4 1 4.9 1-21.6 1-17 1-5.6 1 0 1-5 1 10.1 1 3.3 1-9.7 1 27.2 1 2.4 1 13.1 1-10.4 1-21.5 1-11.9 1 2.6 1 2.8 1 2.7 1-5.4 1 10.2 1 4.8 1 12 1-8.8 1-4.6 1 13.4 1 5.1 1 2.5 1-13.6 1-4.3 1-11.5 1-7.1 1 3.7 1 3 1 4.4 1 2.5 1-9 1 3.6 1-2.2 1 14.7 1-5.6 1-2.9 1 19 1-28.9 1 .2 1 3.3 1 1 1-7.2 1 11.7 1 11.4 1 1.4 1 11.6 1 .2 1-6 1-12.4 1-20.1 1 3.2 1 3.8 1 5.3 1-7.3 1 3 1 4.9 1-12.3 1 2.3 1 13.8 1 8.7 1-5.1 1-9.6 1 5.1 1-9.7 1-.3 1-9.9 1 8.7 1 5.8 1-17.8 1 17.6 1-8.2 1 11.5 1-12.9 1 3.3 1-1.2 1 11.3 1-12.4 1 12.5 1 10.9 1 7 1 11.4 1-2 1-23.1 1-5.3 1 .7 1 1 1 9.7 1-9.3 1 17.5 1-6.1 1-18.5 1 8.8 1 3.3 1 14.1 1 .1 1 3.2 1-.5 1-4.6 1-15 1-3.7 1-9.5 1 8.1 1-5.5 1 7.4 1 6.9 1-4.7 1-5.8 1 3 1-4.9 1 3.6 1 3.2 1 15.9 1-8.9 1-9.3 1 1 1-2.5 1-5 1-4.3 1-1.1 1 4.8 1 8.8 1 8.6 1-8 1 12.9 1 2.7 1-3.5 1 23 1-12.6 1-17 1-2.9 1-4.3 1-16.1 1 6.9 1 6.5 1 1.7 1 4.1 1 0 1 2 1 7.1 1-17.9 1 7.9 1-3.4 1 16 1-14.9 1-6.9 1-2.9 1 4 1 10.2 1 17.6 1-8 1 13.3 1-4.8 1 1 1-15.5 1-.1 1-7.7 1-15.5 1 9.9 1-.4 1 7.1 1-9.6 1 3.1 1 1.5 1-7.3 1 26.4 1 2.2 1-7.2 1 4.1 1-19.2 1 10.9 1 11.3 1 3.5 1-1.1 1-2.5 1-2.9 1 17.1 1-4.3 1-10.7 1-16.3 1-10.8 1-3.9 1 12.5 1 4.3 1-2.2 1 5.7 1 11.8 1 4.8 1-15.3 1-14.1 1 1.4 1 19.4 1-1.2 1-9.6 1 1 1-2.9 1 14.5 1-1.3"/><path stroke="#4472C4" transform="translate(149.90,0) scale(1.81375,1)" vector-effect="non-scaling-stroke" d="M0 726.3l1-4.3 1-1.5 1-4.4 1 1.7 1-1.1 1-.2 1 .4 1 .3 1-2.3 1-2.4 1 .4 1 5.5 1-.9 1 .9 1-2.3 1 3.1 1-6.2 1-2 1-1.1 1-.2 1 2.1 1 .6 1-3.8 1-4.4 1-1.3 1 .2 1-3.6 1 .3 1 2.7 1-3.9 1 2.6 1-4.2 1-1.1 1 3.2 1-2.9 1 3.4 1-.7 1-1 1-1.1 1-6.4 1 3 1-.4 1-.8 1-1.4 1-6.2 1 2.8 1 1.6 1-4 1 4.8 1-1.4 1-1 1 .9 1-2.5 1 1 1 1.5 1 2.7 1-.3 1-3.1 1 9.8 1 1.2 1-3.8 1-1.7 1 .1 1-.9 1 3.7 1-1.4 1-1 1 1.5 1-1.8 1-5.3 1 1.8 1 1.6 1-3.1 1 .9 1 2.5 1 5.7 1-5.5 1 2 1 .4 1-.1 1 2 1-2.4 1-1.7 1-2.8 1 1.1 1 3.6 1-4.9 1-2.7 1 3.5 1 3 1 1.1 1 2.1 1 4.2 1 1.1 1 .3 1-2.8 1 1.8 1-6.6 1 2.4 1 3.6 1 .8 1-2.1 1-.1 1 4.5 1-3.3 1 1.9 1-.8 1 4 1 1.5 1-2.3 1 2.2 1 .4 1-1.3 1-1.4 1 2.8 1 .2 1 2.9 1 .2 1 4.9 1-4.4 1-.5 1 .5 1-2.7 1-.1 1-4.1 1-2.8 1 5.8 1-2.8 1 2.4 1-5.2 1 0 1-1.9 1-.1 1 1.8 1-2.8 1-2.8 1 2.7 1-1.1 1-2.8 1-.7 1-4.4 1 1.1 1-5 1 .7 1 2.5 1-3.2 1 2.9 1-5.1 1 1 1 2 1-2.4 1 1.1 1 .4 1-.9 1-.5 1-.8 1-.2 1-3.3 1 4.1 1-7.8 1 5.7 1 4.1 1-3.9 1-1.4 1 .6 1 2.3 1-4.3 1 3.1 1 1.1 1-3.6 1 1.6 1-5.6 1 2.1 1 0 1-2.3 1 2.5 1-.8 1 .5 1-3.3 1-.6 1-2.3 1 .1 1-.4 1-1.2 1 1.6 1-.6 1-2.4 1-.9 1-1.3 1 3.5 1-1.1 1-.9 1-2.6 1 1.6 1 1.6 1-1 1 4.9 1-4.1 1-.2 1-2 1 3.3 1 2.5 1 5 1 .3 1 5.1 1-.2 1 6 1 9.1 1 6.2 1 2.6 1 2.1 1 6 1-204.3 1-18.2 1-33.2 1 7.4 1 22.1 1 5.3 1-3.5 1-5 1-41.2 1-8.2 1 40.6 1 15.5 1-1.8 1 9.6 1-36.2 1 7.7 1-.4 1 45 1 22.2 1 2.4 1-3.9 1-53.2 1 33.2 1 35.9 1-15 1 11.7 1 14 1 5.9 1-.9 1-34.2 1-13.8 1 39.6 1 21 1 .9 1-1.8 1-8.9 1 7.1 1 1.7 1 .4 1 1.1 1-5.1 1 5.6 1 2 1-2 1-3.7 1 .4 1-44.2 1 29 1 17.6 1 1 1-.7 1 1.9 1-1.5 1-5.4 1 1.3 1-32.3 1-11.7 1 36.6 1 3.6 1 12.5 1 1.7 1-5.2 1-41.9 1 13.6 1 23 1 .9 1-5 1 4.6 1 .5 1-1.7 1-7.3 1 2.2 1 10.4 1-9.2 1-26.7 1 6.6 1 23.3 1-.1 1 3.9 1-3.4 1 5.5 1-12.8 1-6.5 1 10.6 1-2.9 1 5 1 2.6 1-3 1-16.4 1 10.1 1 4.3 1 1.7 1-19.8 1-22.6 1 35.5 1 3 1 2.5 1-42.2 1 22.1 1 17.1 1-.9 1-4.3 1-3.2 1-32.3 1 14.2 1 9.9 1 0 1 4.2 1-4.2 1-3.5 1-14.7 1-7.4 1-9.4 1-17.8 1-1.4 1-17.6 1-25.2 1-6.1 1-37.7 1-44.8 1-52.4 1-40.5 1-27.1 1-20.3 1-17.3 1-13.8 1-19.6 1-5.9 1-6.3 1-15.7 1 12.2 1 9.5 1 1.9 1-6.8 1 9.6 1-1.5 1 14.2 1-7.8 1 11.6 1 9.1 1 4.4 1 11.6 1-7.7 1 8.3 1-1.9 1 3.3 1 11.4 1 7.1 1-6.8 1 18.6 1 10.1 1 20 1 15.5 1 11.6 1-12.1 1-16.7 1 13.8 1 20.5 1 42.4 1 46.2 1 30.2 1-36.4 1-46.8 1-42.5 1-39.2 1 6.4 1 38 1 52 1 41.3 1 38.1 1 8.5 1-36.4 1-61.5 1-31.9 1-9.7 1 22.8 1 46.5 1 40 1 21.8 1 12.9 1-34.1 1-53.8 1-30.5 1-3.8 1 19.7 1 40.8 1 29.8 1-20.4 1-64.5 1-59.7 1-6.3 1 36.3 1 46 1-5.9 1-33.8 1-7.1 1 54 1 38.6 1 32.8 1-36.8 1-48.1 1-33.7 1 13.8 1 37.4 1-16.2 1-63.7 1-35.8 1 36.6 1 55.8 1 63.2 1 39.3 1 36.2 1 8.9 1-.2 1-32.6 1-32.1 1-63.7 1-72.1 1-25.4 1 20.2 1 45.9 1 58.8 1 55.7 1 19.7 1 21 1-3.2 1-17.5 1-43.4 1-33.6 1-16.1 1-2.7 1-.9 1 34 1-27.4 1-64.9 1-69.1 1-20.3 1-13.2 1 9.8 1-10.2 1 18.3 1-14.7 1-6.5 1 3.1 1-.6 1-6.5 1 10 1-2.6 1 5.7 1 9.7 1 7.7 1-6 1 4.9 1-4.5 1 8.7 1 18.5 1 5.3 1 10 1 21.3 1 15.6 1 2 1 .4 1 8.1 1-14.2 1-3.5 1-25.9 1-13.5 1-10.6 1-.8 1-10.1 1 9.6 1 19.8 1 7.7 1 23 1 20.3 1 34.3 1 27.7 1 9.1 1-10.6 1-11.2 1-19.1 1-26.4 1-39.9 1-28.1 1-9.9 1-5 1 7.7 1 .1 1 27.4 1 14.7 1 18.8 1 25.9 1 .9 1 4.9 1-5.2 1-23.1 1-21.1 1-21.1 1-7 1 27.1 1 29.6 1 17.7 1 20.6 1 5.8 1-7.1 1 5.3 1-23.5 1-24.7 1-38.1 1-18.6 1-11.6 1-2.4 1-20.9 1 14.8 1-18 1 13.9 1 6 1 14.5 1 17.8 1 9.8 1 22.9 1 30.2 1 20.5 1 11.9 1-22.8 1 .5 1-32.5 1-8.9 1 6.6 1 32.1 1 24.1 1 17.1 1 2.5 1-.3 1-10.3 1-25.2 1-45.2 1-29.2 1-15.7 1-7.9 1 17.3 1 18 1 23 1 38.2 1 25.5 1 9.7 1 3.7 1-7.2 1-31.1 1-28.4 1-35.8 1-29 1-10.1 1 21.2 1 14.2 1 24 1 2.7 1-.6 1-7.7 1-16.4 1-21.2 1-6.4 1-15.8 1-8.3 1 3.4 1-5.4 1 13.2 1 16.7 1 3.3 1 12.9 1 21 1 20.6 1 13.9 1 1.4 1 10 1-17.1 1-29.1 1-15.1 1-24.1 1-1 1 16.3 1 13.9 1 5.2 1 1.4 1-4.2 1-1.5 1 3.9 1 39 1 35.6 1 12.8 1 5.9 1 1 1-3.3 1-44.1 1-19.6 1-19.8 1 12.8 1 26.9 1 11.4 1 19.5 1 2 1-13.3 1-26.3 1-28.1 1 20.9 1 15.5 1 13.1 1-13.2 1-22.3 1-30 1-12.6 1 6.9 1 11.5 1 1.3 1 .2 1-9.4 1 2.8 1 20.4 1 30.4 1 36.9 1 26.3 1-6.3 1-.3 1-20.1 1-17.3 1-35 1-32 1-12.8 1 16.6 1 10.5 1 9.7 1 8.8 1 .8 1-10.3 1-35 1 16.4 1 20 1 12.7 1 7.3 1-16.5 1-7.4 1-20.4 1-28.2 1-9.2 1-16.4 1 1.3 1-9.1 1 1.3 1-13 1 15.2 1 4.1 1 20.4 1 13.2 1 16.4 1 19.1 1 14 1 21.5 1-1.9 1-19 1-3.4 1-24.3 1-30.4 1 5.6 1 10.2 1 10.1 1 8.1 1 1.5 1-3.2 1-8 1-25.6 1-10.7 1-8.5 1 24.2 1 23.7 1 19.1 1 25.3 1 18.5 1 8.7 1 5.5 1 3.7 1-9.3 1-34.8"/><path stroke="#70AD47" transform="translate(149.90,0) scale(1.81375,1)" vector-effect="non-scaling-stroke" d="M0 698.9l1 1.5 1-8.9 1 .5 1-.8 1 1.3 1 .7 1 1.9 1 1.2 1-2.7 1 .4 1-1.4 1 2.4 1 3.2 1-.3 1 1 1-2.9 1-6.8 1 1 1-4.7 1-1 1 3 1 1 1-4.6 1-5.1 1 1.9 1 1.2 1-1.6 1-3.2 1 .8 1-2.1 1-1.7 1-1.3 1 2.3 1-1.5 1-3 1-.2 1-3 1 6.1 1-8 1 .6 1 1.1 1 1.5 1-.9 1-.3 1-3.8 1-1.6 1 3.3 1-.7 1-2.3 1 6 1 0 1-4 1 1.1 1-2.8 1 4.3 1 1.8 1-1.8 1 1.3 1 5.7 1-1.3 1-3.6 1 .6 1 1.8 1 1.3 1 .8 1-.1 1 1.4 1-1.6 1-1.9 1-1.8 1 1.1 1 .3 1 .1 1-2.7 1 3.8 1-.7 1 2 1-1.1 1-.3 1-1.9 1 3.1 1-3.9 1-1.6 1-5.3 1-1.7 1 3.6 1-1 1 1 1 2.2 1 1.2 1 .5 1 2.1 1 3.8 1 3.2 1-1.6 1 4.2 1-2.7 1-1.6 1-3.1 1 4.5 1-1.6 1 .7 1 1.2 1-2.6 1 1.9 1 1.8 1-1.7 1 3.8 1 .3 1-2.2 1 .2 1 1.6 1 4.7 1-3.5 1-1.7 1 1.9 1 1.4 1 8 1-.9 1-3.6 1 2.5 1-2.2 1-.8 1 .8 1-5.4 1 .7 1-3.6 1-.1 1 .1 1 .4 1-4.7 1 2.6 1 1.3 1-1.8 1-3.8 1-3.3 1-.5 1 3.8 1-1.6 1-4.1 1-3.7 1 .1 1-4 1-1.5 1 4.7 1-2.4 1 1.8 1-1.3 1 1.3 1 0 1 .8 1-1.2 1-2.7 1-1.2 1 2.6 1-3.2 1 .5 1-.6 1 4.6 1-3.9 1-.1 1-.2 1-4.2 1 5.8 1-1.5 1-3 1 4.9 1-2.5 1 3.1 1 .7 1-4.2 1 2.8 1-2.2 1-1.8 1 4.5 1-1.5 1-3.9 1-.5 1 2.9 1-2.4 1-3.5 1 2.7 1-5.3 1 4 1-1 1 3.6 1-6.7 1 .8 1 2.5 1-2.7 1-.7 1-2.1 1 1.6 1-4.3 1 3.7 1 1.4 1-2.2 1 .9 1-2.4 1 3.3 1 .4 1 4.9 1 3.9 1-.1 1 1.8 1 4.7 1 .3 1 8.3 1 7 1 .7 1-.5 1 4.8 1 4.8 1 2.1 1 2.9 1-2.4 1 3.1 1-.1 1-.6 1 4.5 1-3.4 1-2.5 1-169.5 1-24.4 1-6.8 1-38.2 1 19.4 1 11 1 17.5 1-8.1 1-40.1 1 20.8 1 17.2 1-5.1 1-29.5 1 30.3 1 22.6 1 2.5 1 7.7 1-13.3 1 1.7 1 30.8 1-44.2 1 25.4 1 32.9 1 15.4 1-11.4 1 13.6 1-48.4 1-4.8 1 35.8 1 9.8 1-13.3 1-42 1 36.6 1 28.3 1 1 1-1.2 1 2.6 1 8.4 1-.3 1 .9 1-3.5 1-5.9 1-5.4 1-4 1 4.3 1 6.7 1-4.3 1-4.1 1 1.6 1-7.3 1 12.4 1-1.4 1-6 1 10.6 1-1.9 1-7.3 1-2.5 1 3.5 1 7.2 1-9.9 1 .1 1 .6 1-3.8 1 13.3 1-12.3 1-13 1 4.8 1 1.6 1 11.7 1-1.3 1 .5 1 1.8 1-4.2 1 3.6 1 7.6 1 .2 1-5.3 1-4.1 1-8.7 1 4.2 1-2.2 1 4.8 1 1.5 1-.4 1-4.7 1 2.8 1 .2 1 5.2 1-2.8 1 1 1-8.4 1 3.3 1-4.8 1-7.7 1-.1 1-4.4 1 2.4 1-14.4 1 2 1 12 1-8.4 1-15.2 1-17.9 1 13.7 1-19.3 1-6.1 1-40.6 1-24.9 1-32.8 1-59.2 1-48.2 1-50.5 1-29.3 1-41.3 1-20 1 .7 1 1.1 1-5.7 1-5.4 1-9.2 1-16.3 1 18.8 1-20.2 1 8 1 4 1 .3 1-5.2 1 36.9 1-12.4 1 9.9 1-24.2 1 22.8 1-3.7 1-4.3 1-13.8 1 8.4 1 32.3 1 6.6 1 23.1 1-32.1 1 8.5 1-1.3 1-6.9 1 27 1 7.7 1 24.6 1 32.9 1-15.6 1 22.2 1 6.3 1 20 1-37.5 1-52.9 1-1.9 1 31.3 1 19.1 1-2.7 1 22.1 1 9 1-18.3 1-23.5 1-34.1 1-7.4 1 25.9 1 15.3 1 5.8 1-35.6 1-.3 1 33.2 1 9.2 1 24.6 1-28.3 1-6.6 1 8.8 1 21.4 1-6.5 1 19.4 1 24.7 1 11 1 3.5 1-54.6 1-56.4 1 13.9 1 7.8 1 16 1 34.2 1 1 1-38.4 1-33.7 1 33.7 1-15.5 1 3 1 49.4 1 13.6 1-26 1-33.8 1-45.7 1 2 1 38.2 1 37.6 1 29.1 1 24.5 1 3.4 1-17.2 1-13.1 1-77.3 1-33.2 1 20.3 1 24.2 1 17.9 1-42.1 1-.5 1 28.3 1 26.4 1 27.7 1-6.2 1 25.3 1-24.4 1-33.6 1-18.4 1-8.8 1 13.9 1 18.8 1-18.9 1 30.7 1-16.5 1-40.2 1-14.8 1-49.1 1-41.5 1-7.2 1 29.3 1 7.5 1-16.7 1 10.9 1 5.6 1 21 1-3.6 1 3.1 1-17.1 1 9.2 1-8.9 1 19.8 1-16.1 1 17.7 1-27.6 1 2.1 1 2.9 1 12.3 1-33.3 1 25.6 1-1.2 1 48.7 1-12.7 1-2.1 1 12.2 1-37.3 1-1.9 1 24.3 1 16.1 1 9.1 1 1 1-20.4 1-10.5 1-43.6 1 61.2 1-15.5 1 37.2 1-58.7 1-8.7 1 19.9 1-15 1 12.1 1 19.8 1-6.8 1 4.6 1 12.8 1-13.9 1 11.4 1 12.3 1 19.6 1-4.7 1-25.3 1-15.9 1-10.7 1 21.4 1-2.6 1 8.4 1 10.5 1-11.1 1-40.8 1 .5 1 6.8 1 17.7 1-16 1 2.2 1-8.9 1 41.8 1 5.7 1-10.9 1-21.6 1-1 1 29.4 1-30.7 1-34.7 1 46.1 1-31.7 1 9.1 1 25.7 1 29.2 1-1.4 1-68.1 1 13.1 1 23.1 1 21 1-26.5 1-2.3 1-13.9 1 24.2 1 38.2 1-19 1 38.7 1-14.1 1-41.6 1-27.5 1-.6 1-.8 1 39.5 1-20 1-35.4 1-22.6 1 12.5 1 18.7 1-31.2 1 39.9 1 1.1 1-12 1-33.5 1 10.1 1 15.4 1 18.5 1 2.2 1-22.6 1 3 1 31.8 1-3.5 1 35.5 1-19.9 1-41 1 29.5 1-7.5 1-11.8 1-38.1 1-4.3 1 28.4 1 15.8 1-15.4 1-21 1 14.8 1 6.3 1 33 1 5.9 1-48.1 1-14 1 31.1 1 6.6 1-18.8 1 2.3 1 7.8 1-14.5 1 41.8 1 10 1 22.1 1 1.6 1-32.2 1-42.2 1-4 1 33.2 1 2 1 11.1 1-20 1-26.7 1 2.6 1 20.8 1-3.3 1-9.4 1-39.4 1 48.6 1-5 1-10.7 1-21.9 1-3.2 1-34.7 1 57.4 1-4.9 1-2.6 1 17.2 1 .8 1-26.3 1 6.4 1 21.2 1 .9 1 10.8 1-1.5 1-21.3 1-10.3 1 23.5 1 16 1 28.8 1-40.8 1-22.6 1 40.3 1 11.3 1-32.9 1-16 1 22.9 1-4.9 1 13.8 1 8.3 1-14.8 1-9.3 1 13 1-3.6 1 22.5 1-16.1 1-5.3 1-31.4 1 15.2 1 8.5 1 23.5 1 5 1-10.5 1-29.6 1-10.3 1-3.5 1 13.3 1 14.2 1-28 1 16.9 1 14 1 15.4 1-26.4 1-1.1 1 5.3 1-8.4 1-30.4 1-6.9 1 56.2 1 17.5 1-37.2 1 .1 1-9.1 1 44.3 1-23.6 1-7 1 8.7 1 23 1-6.6 1-9.9 1-1.5 1-35.5 1 23.6 1-22.4 1 10.5 1-4.6 1 18 1 11.2 1-58.4 1-14.3 1 32.1 1 43.3 1-20.8"/><path stroke="#255E91" transform="translate(149.90,0) scale(1.81375,1)" vector-effect="non-scaling-stroke" d="M0 730.1l1-2.1 1-1.5 1-3.7 1 0 1 1.6 1-5.4 1-1 1 .7 1 4.6 1-.6 1-3.8 1 1.3 1 5.4 1-3.7 1 1 1-3.5 1-3.3 1 .5 1-6.3 1 2.1 1-1.7 1 5.2 1-7.2 1 .7 1 .9 1-1.8 1 .1 1 .3 1-4 1-.9 1-.8 1 1.8 1-2.4 1-.5 1 1.6 1-.4 1-5.4 1 5.7 1-3.5 1-3.2 1 3.4 1-4 1-.6 1 .5 1-6.4 1 1.4 1 4.6 1-3.1 1 4 1-6.4 1 2.7 1 .5 1-2.5 1 2.2 1 1.6 1 6.3 1-10.2 1 6.7 1 1.3 1 .6 1 .7 1-5.4 1 .6 1 1.3 1 4.2 1-2.2 1 3.5 1-1.8 1-2.1 1-2.9 1-.6 1 5.5 1-1.7 1-3.6 1 .7 1-2.1 1 5.1 1-4 1 3.4 1-1.8 1 .4 1-4.1 1-.2 1-.8 1-.9 1-1.3 1 3.2 1-.8 1-.7 1 4 1-1.5 1 3 1 4.6 1-.9 1 3.7 1 1.3 1-6.1 1 2.2 1 .6 1 1 1 2 1-.4 1-.9 1-2.5 1-.9 1 4.3 1 2.2 1-1.1 1 4.4 1-1.4 1 1.5 1-3.2 1 5.2 1-5.3 1-1.8 1 6.5 1 .4 1-.3 1 5.8 1-8 1 3.7 1 2.3 1-5.5 1 1.2 1-.7 1 .7 1-3.6 1 1.4 1-1.4 1-2.8 1-4.9 1 3.5 1 2.1 1-2.2 1-1.8 1-.7 1-.8 1-3.8 1 2 1-3.3 1 .2 1-6.3 1-1.3 1 3.1 1-2.4 1 6.8 1-2.7 1-1.7 1 0 1 0 1-.6 1 .6 1-2.1 1-3.5 1-2.8 1 5.1 1-1.1 1-3.8 1 2.3 1 .6 1-.4 1-.4 1 1.5 1-6.4 1 4.8 1-2.4 1 1.7 1-1.2 1 4.2 1-1.4 1-1.4 1-1.4 1-.4 1 .3 1 .7 1 .1 1-3.4 1-3.1 1-1.2 1 3.6 1-5.4 1 1.3 1-1.4 1-3.2 1 8.8 1-2 1-2.6 1-3.9 1 1.4 1 1.7 1-2 1-2.2 1 .1 1 3.5 1 1.2 1 2.4 1-6.2 1 5.9 1-4.1 1 1.8 1 4.9 1 1.1 1 1.1 1 2.8 1 2.4 1 4.4 1 1.1 1 8.9 1 6.1 1 1.5 1-.4 1-112.1 1-45.9 1-.4 1-15.2 1-2.3 1 13.7 1 4 1-.7 1-4.1 1-30.3 1-8.2 1 32.3 1 8.5 1 4.1 1-15.1 1 3.6 1 24.9 1-5.2 1-4.3 1 6.3 1 8.3 1-4.4 1-.6 1 0 1 22.9 1 4.9 1-31.4 1 13.5 1 17.9 1 .1 1 .3 1 5.1 1 3.7 1 6.8 1-5.1 1-2.5 1-9.3 1 6.5 1 10.5 1-3.2 1 1.2 1-3.1 1 .5 1 1.2 1-1.1 1 1.8 1 1.1 1-4.1 1 4.8 1 .5 1 1.2 1 2.1 1-6.3 1-1.4 1 5.1 1-3.9 1-3.5 1 .6 1 2 1-5.3 1 7.7 1 .9 1-.1 1-6.1 1 .8 1 7.8 1-10.8 1 6 1-6.8 1 3 1 7.6 1-2.2 1-5.8 1 3.7 1-7.2 1-1.2 1-1.7 1-.3 1 3.2 1 0 1 1.7 1-6.6 1 3.7 1-.2 1-5 1 2.1 1 .5 1 8.6 1-1.6 1-2.7 1-1.9 1 8.4 1 .1 1-5.7 1-2.9 1-1.3 1-.3 1 2.2 1-1.9 1-1.4 1 2.4 1 2.2 1-4.6 1-1.9 1-11 1 3.8 1-4.7 1 2.9 1-2.9 1-4.9 1 1.9 1-3.2 1-8.9 1-10.6 1-23.1 1 3.8 1-24.1 1-24.5 1-27.8 1-32.6 1-56 1-46.6 1-37.7 1-24.7 1-28.8 1-24.7 1-19.4 1-4.2 1-5.8 1-19 1-18.7 1 12.9 1-.2 1 9 1 4.9 1 4 1 4 1 .6 1-.7 1 3 1 3.6 1-5.5 1 17.9 1-1 1 .5 1 .8 1 11.9 1-.3 1-5.5 1 4.5 1 16.1 1 13 1 3.8 1 15.4 1 31.9 1 12 1-15.5 1-34.6 1-3.4 1 .3 1 38.7 1 35.8 1 40.6 1 42.9 1 40.4 1 1.1 1-24.7 1-42.5 1-52.4 1-10.1 1 1 1 24.7 1 33.3 1 61.9 1-62.3 1-23 1 .3 1 10.8 1 14.9 1 38.5 1 42.1 1 23.1 1 17.1 1 6.3 1-17.4 1-44.9 1-52.7 1-36.7 1-12.7 1-11.5 1 30.7 1 11.4 1 30.4 1 38.6 1 17.3 1 19.5 1-33.8 1-56.9 1-33 1-21.1 1 7.6 1 28.4 1 21.3 1 33.9 1 38.3 1 26.6 1 4.5 1 2.9 1-15.3 1-28.9 1-38.2 1-20.1 1-30.2 1 15.8 1 2.5 1 22.1 1 34.3 1 28.6 1 13.4 1 24.7 1 2.9 1-1.9 1-35.5 1-47 1-64.3 1-61.5 1-41 1-15.9 1 22.4 1 57.7 1 44.3 1 34.7 1 20.3 1 12.6 1-2.5 1-24.2 1-46.2 1-59.6 1-33.5 1-44.8 1-14.9 1-8.8 1-3.3 1 .7 1 7 1 15.2 1 20.9 1 4.5 1 26.9 1 15.2 1 27.1 1 20 1 22.8 1 16.9 1 16.6 1 8.2 1 15.8 1-16.9 1-30.1 1-53.2 1-52.3 1 9.1 1 9 1 24.5 1 3 1 9.2 1 17.2 1 26 1 15.4 1-.4 1 2.6 1-32.9 1-46.1 1-49.6 1-34.7 1-13.7 1 2.6 1-.2 1-4.4 1 14.9 1-9.1 1 16.1 1 21.4 1 8.5 1 24.1 1 13.7 1 13.9 1 21.3 1 20.1 1 20.3 1 7.4 1 9.9 1 14.2 1 5.9 1-17.5 1-46.1 1-61.2 1-42.5 1 7.8 1 8.7 1 18.7 1 14.4 1 27.7 1 19.9 1 20.3 1 14.3 1 22.1 1-1.4 1 20 1-6.7 1-37 1-48.8 1-49.6 1-37.9 1-7.7 1-12.7 1 25.9 1 .9 1 9.9 1 33 1 17.2 1 14.8 1 37.3 1 22.2 1 34.6 1 37.1 1 15.9 1 43 1 12.4 1-1.6 1-22.1 1-61.8 1-70.6 1-27.8 1 19.5 1 31.8 1 15.7 1 37.4 1 30.7 1 11 1-.1 1 4.2 1-24 1-69.7 1-75.9 1 17.3 1 14.4 1 20.6 1 15.4 1 18.5 1 6.9 1 7.7 1-32.3 1-65.6 1-46.1 1-27.6 1 20.2 1 6.8 1 5.8 1 15.8 1 21.2 1 23.9 1 18.5 1 18.2 1 7.6 1-3.8 1-3.5 1-24.8 1-48.4 1-37.3 1-41.5 1-7.3 1-7.6 1-10.4 1 11.1 1 7.2 1-3.9 1-4.4 1 3.5 1 10.1 1 18.5 1 2.6 1 9.7 1 12.3 1 22.6 1 24.9 1 26.7 1 33.6 1 41.4 1 22 1 25.2 1-1.4 1 24.5 1 6 1-6.1 1-52.3 1-80.5 1-33.1 1 1.3 1 34.3 1 28.2 1 15.5 1 21.2 1 5.2 1 9.1 1-11.4 1-21.1 1-73.8 1-41.3 1-48.1 1-22.6 1-3 1-.8 1 5.6 1 6.4 1 8.7 1 21.8 1 3 1 25.7 1-2.5 1 20.6 1 30.8 1 21.7 1 35.5 1 32.9 1 22.1 1 39.9 1-3.2 1 3.9 1-9 1-40 1-79.4 1-73.9 1 12.4 1 15.4 1 39.5 1 18.9 1 32.2 1 28.5 1 21.3 1 13.3 1 2.1 1 17 1-40.2 1-52.9 1-82.3 1-53 1 12.1 1 16.8 1 13.6 1 32 1 5.8 1 29 1 9.4 1 25.8 1 .8 1-21.3 1-54.7 1-20.7 1-54.1 1-19.1 1 17.6 1 22.5 1-2.6 1 31.5 1 48.2 1 18.1 1 31 1 35.1 1 23 1 10.8 1 22.7 1 8.5 1 .8 1-48.4 1-59.3 1 20.8 1 25.4 1 1.8 1 9.7 1-2.9 1-28.8 1-77.2"/><path stroke="#9E480E" transform="translate(149.90,0) scale(1.81375,1)" vector-effect="non-scaling-stroke" d="M0 699.4l1 4 1-4.2 1-1.2 1 2.8 1-1.4 1-5.3 1-1.1 1-1.6 1 6.3 1 .1 1-.3 1-.8 1 2.4 1 .4 1 4.4 1-4.4 1-2.3 1-1.5 1-3.7 1-.3 1 1.4 1-1.1 1-2.1 1-2.2 1 2.7 1-2.2 1-1.1 1 .7 1-2.4 1-2.1 1 3.8 1-7.6 1 .4 1 .9 1-.6 1-.2 1 3.1 1-3.2 1-2.7 1 2.9 1-1.7 1-2.3 1 .8 1-2.6 1 .6 1-4.1 1 3.7 1-1.6 1 2.5 1-1.8 1 .3 1 2.9 1 .3 1-4.8 1 5.2 1 2.9 1-.8 1-.9 1 3.7 1-2.2 1-1.4 1-3.1 1 1.9 1 8.4 1-8.2 1 3.7 1 3.2 1-3 1-4.6 1 1.2 1-3.2 1 4.7 1-.7 1-2.9 1-.9 1 3.8 1 2.2 1-3 1-1.9 1 5.6 1-2.6 1-.3 1-1.3 1-2.1 1 .2 1-2.6 1 1.5 1 3 1-3.9 1 1.9 1 1.8 1 4.3 1 .2 1 1.7 1 6.9 1-5.5 1 0 1-1.8 1-.8 1 3.6 1-.9 1-2.9 1 3.3 1-.2 1 1 1-1.9 1 3 1 0 1 .7 1-1.2 1 4.3 1-2.7 1-.2 1-1.9 1 .4 1 2 1 2.5 1 5 1-3.4 1-1.4 1 .5 1 1.8 1-.4 1-2.8 1 1.3 1-3.9 1 .5 1-.9 1 .1 1-3.9 1-2.5 1 1.5 1 2.4 1-3.3 1 .3 1-2.7 1 0 1 .2 1-.9 1 2.5 1-6.3 1-.8 1 .6 1-2.3 1-2.4 1 7.1 1-2.1 1 1.5 1-1.9 1-2.7 1 1.9 1 .1 1-3.2 1-.1 1 .2 1-5 1 .1 1 .3 1-.5 1 3.2 1 1 1-1.6 1-.2 1-4.3 1 3.4 1-.9 1 3.1 1-2.9 1 2.8 1 2.8 1-6.2 1-4.7 1 2.2 1 0 1-.9 1 1 1-1 1-2.9 1-1.6 1 5.7 1-3.5 1-4.8 1-1.8 1 6.2 1-4 1 4.1 1-6.5 1 3.1 1-.8 1-.5 1 1.9 1-3 1 1.7 1 2.8 1-3.5 1 .6 1 2.5 1 .8 1-4 1 3.9 1-.1 1 7.3 1 1.8 1-2.2 1 5.9 1 1.9 1 6.2 1 2.4 1 8.5 1 .5 1 3.6 1-161 1-35.8 1 2.2 1 10.4 1-6.4 1-43.7 1 23.6 1 21.9 1 4 1-.8 1-37.5 1 11.8 1 25.5 1 9.1 1 1.6 1 4 1 .1 1-18.6 1 6.5 1 21.7 1-32.9 1-13.7 1 35.9 1 14.6 1-7.7 1-36.6 1 13.8 1 26.1 1-20.5 1 10 1 18.3 1 6.1 1 3.8 1-1.7 1 1.2 1-2 1-6.5 1 .6 1 5.5 1-1.4 1-2.4 1-1.3 1-4.9 1 9.1 1-3.4 1-1.8 1 .4 1-4.9 1 1 1 .6 1 .7 1 4.7 1 3.9 1-8.3 1 .4 1-6.5 1 3.7 1-6 1 5.1 1 1 1 1.2 1 3.1 1 3.6 1-1.1 1 3.8 1-5.6 1 .6 1-10.6 1 3.1 1-3 1-1.6 1 4.2 1-2.4 1 5.1 1 1.1 1 0 1-4 1 1.9 1-5.9 1 5.1 1 3.1 1-3 1 8 1-8 1 2.4 1-4.3 1 3.7 1 2.1 1-3.9 1-7.5 1 5.4 1 1.9 1 5.3 1-7 1 2.8 1 1.6 1 1.2 1-4.2 1-.5 1-1 1 1.7 1-.5 1-5.7 1-1.3 1-2 1-3.7 1-2.5 1-1.3 1-6.9 1 5 1-7 1-4.9 1-16.7 1-12 1 3.3 1-24.3 1-10.2 1-19 1-24.5 1-30 1-42.4 1-41.3 1-48.2 1-46.1 1-29.6 1-19.3 1-3.6 1 10.1 1-21.8 1 2 1-3.4 1-16.3 1 10.7 1 16.4 1 2.6 1 4.7 1-4.1 1 4.6 1 12.6 1 18.5 1-7 1 2.8 1 1.7 1 1.7 1-6.5 1 22.2 1 16.2 1-1.8 1-7.8 1 38.7 1-3.4 1 1.6 1-8.7 1 7.2 1-.3 1 5.8 1 21.7 1 11.4 1 27.8 1 10.9 1-10.9 1-9.6 1-15.7 1-2.8 1-1.8 1 25 1 24.3 1-.1 1-6.9 1-20 1-8.5 1-8.3 1 .6 1 14.3 1 18.7 1-28.2 1-39.8 1-13 1 4 1 22.6 1 19.3 1 9.3 1-39.3 1 8.8 1 2.9 1 27.2 1 19.8 1 4.8 1-34.4 1 5.9 1-1.3 1 18.5 1 22.4 1 24.1 1 20.2 1-7.6 1-17.7 1-13.2 1-4.5 1-4.7 1-3.5 1-2.6 1-14.5 1-11.8 1 10.9 1 9 1 19.2 1 9.9 1 10.4 1-28 1-22.2 1 2.4 1-2 1 23 1 11.5 1 18.5 1 22.9 1 8.6 1 10.3 1-24 1-17.3 1-31.9 1-21 1-21.2 1 12.9 1 2.3 1 2 1-40.4 1-8.5 1 15.8 1 24.8 1 23.8 1 25.2 1 6.3 1 .6 1-30 1-36.9 1-33.4 1-15.7 1-5.2 1-8.6 1 3.5 1-10.3 1-2.7 1-5.5 1 15 1-5 1 1 1-22.4 1 5.5 1 13.3 1 13.9 1-14.8 1 3.8 1 13.7 1-.8 1 .4 1 4.6 1-12.4 1-21.2 1 6.7 1 5.9 1 3.8 1-4.6 1 7.1 1-4.3 1 8.4 1 5.6 1-12.7 1 1.1 1 11.1 1 5.4 1-11.7 1-7.6 1 3 1 9.2 1 7.6 1 3.3 1-5.7 1-10.4 1-4.6 1-.9 1 .9 1 7.4 1 4.6 1-4.1 1-10.5 1 2.1 1 .5 1 21.6 1-9.6 1 6.4 1-11.7 1-2 1 .2 1 1.2 1 10.7 1-11.2 1-2.5 1 4.1 1-5.9 1-6 1 21.8 1-.5 1 10.8 1 7.6 1-12.8 1-11.2 1-8.7 1 13.1 1 9.3 1-.4 1-14.4 1-23 1-6.5 1 27.9 1 10.3 1-7.8 1-8.5 1 1.8 1 .6 1 14.7 1 9.1 1-4 1-24.3 1-3.4 1 9.5 1 7.8 1 12.4 1-3.2 1 12.3 1-6.3 1-8 1-5.8 1-4.3 1-11.5 1 .9 1 12.6 1 8.3 1-20.9 1-8.5 1 .7 1 4.1 1 10.5 1 4.6 1-.3 1-9.1 1-.4 1 6.6 1 15.1 1-18.4 1 4.8 1-6.5 1 12.5 1 16.5 1-.1 1 5.6 1-8.7 1-7.1 1-7.2 1-13.6 1-12.3 1 24.9 1-2.7 1-12 1 5.2 1 8.4 1 8.8 1 1.8 1-16.2 1-1.1 1-7.1 1 12.7 1-6.2 1 24.6 1-9.2 1 10.6 1-15.7 1-13.4 1-4.6 1 10.2 1 .2 1 16.6 1-.3 1 5 1-12.6 1-9.2 1-1.6 1 4 1 19.4 1 14.9 1-9.5 1-.2 1-21 1-7.8 1-4.2 1 3.4 1 8.7 1 1.9 1-2.5 1-12.3 1 2.8 1 7.5 1 1.4 1 7.5 1 2.6 1-9.3 1 5.3 1-13.1 1-4.1 1 3.7 1 13.7 1 10 1 .1 1-11.3 1-7.2 1-1.6 1-9 1 11.4 1 24.1 1 .3 1-23.3 1-12.6 1 6 1 3.6 1 14.4 1 5.6 1-11.2 1 2 1-17.6 1 8.6 1 1.7 1 12 1-1 1 7.3 1-8 1-14.5 1-10.7 1-6.2 1 3.4 1 18.1 1 7.6 1 8.2 1 4 1-5.3 1-.6 1-8.5 1-9.1 1-4.5 1 6.8 1 3.4 1 .2 1 3.6 1 .7 1-8.7 1-3 1-5.3 1 14.1 1 3.8 1 7.5 1 2.5 1-11.2 1-11.3 1-13.8 1 2.9 1 4.7 1 18.6 1-13.6 1-7.1 1 5 1-4.2 1 17.6 1 2.9 1 6.9 1-9.2 1 6 1 11.7 1-11.5 1-7 1-24.2 1 9.9 1 6.2 1 7.6"/><path stroke="#636363" transform="translate(149.90,0) scale(1.81375,1)" vector-effect="non-scaling-stroke" d="M0 715.6l1-.7 1 1.7 1-3.5 1 .7 1-1.6 1-1.7 1 0 1 3.1 1-2.2 1 2.4 1-.7 1-.7 1 2.9 1 2 1 .9 1-1.9 1-2.5 1-2.1 1-2.5 1 0 1 .8 1-.1 1-2.2 1-2.4 1 .8 1-2.9 1 2.2 1-1.2 1-2.3 1-.8 1 3.2 1-6.3 1 3.2 1-1.5 1 .1 1 1 1-2.7 1 2.1 1 2.3 1-7.5 1 3.1 1-2.7 1 .8 1-.3 1-2 1 1.2 1-.1 1 .2 1 .3 1 2.3 1-1.1 1 .3 1-2.1 1 .4 1 4.6 1-4.3 1 6.4 1-1.1 1 .6 1-4.8 1 2.6 1-3.7 1-.3 1 3.4 1-2 1 1.7 1 0 1-.6 1-3.7 1 2.7 1-3 1 3.5 1 0 1-2.4 1 1.1 1 1 1 4.7 1-4.2 1-4.5 1 9 1-3.1 1 1.3 1-4.1 1-2.4 1 3.3 1-1.2 1-.7 1-1.4 1 3.8 1-.2 1-.7 1 3.3 1 4.4 1-3 1 3.6 1-4.1 1-1 1-3.7 1 1 1 8.1 1-6.9 1 1.8 1-.3 1 2.9 1 1.2 1-3 1-2.1 1 4 1 .6 1 1.3 1 .7 1 .7 1 5.1 1-4.3 1 1.2 1-.6 1 1.2 1 3.6 1 5.2 1-3.8 1 .8 1-2.2 1-4.6 1 7.3 1-6.5 1-2.4 1-3.2 1 4 1 .2 1-4 1-1.1 1-.5 1 .7 1-2.7 1 1.9 1 0 1-1.2 1-.6 1-1.6 1 2.6 1 1.2 1-6.4 1-2.1 1 2.3 1-1.6 1-2.9 1 6 1-3.1 1 .2 1-1.1 1 .6 1 5.5 1-5.3 1-5.7 1 .7 1 3.7 1-3.7 1 1.2 1 .5 1-.9 1 .7 1 .9 1-3.7 1 2 1-3 1 .3 1 1 1 1.7 1 .6 1 2.3 1-3.6 1-1.4 1-4 1 1.1 1 3.1 1-.3 1 2.5 1-2 1-.3 1-3.2 1 3.6 1-6.1 1-1.4 1 1.5 1 4 1 .5 1-2.1 1-1.9 1 2 1-3.4 1-1 1-.2 1 .9 1 .5 1 0 1 3.3 1 2.1 1-3.5 1-2 1-1.1 1 8.3 1-.1 1 2.3 1 2.8 1-.4 1 .8 1-.2 1 7.4 1 3.7 1-2.2 1 5.4 1-195.7 1-45 1-79.2 1 17.6 1-10.2 1 6.7 1 16.1 1 24.5 1 18.9 1 3.9 1 3.2 1-28.4 1 4.5 1 28.5 1 21.8 1-36.1 1 24.8 1 13.5 1-40.8 1 51 1 32.5 1 11.5 1 6.2 1-24 1-43.4 1 45 1 29 1 6.1 1-18.2 1-13.6 1 24.6 1 16.1 1 3.3 1 .4 1 1.9 1-1.8 1-5.1 1 6.4 1 .4 1 5.3 1-6 1-2.7 1 4.7 1 2.5 1-3.7 1 1 1-2.7 1 2.3 1 .4 1 6.3 1-7.5 1-5.1 1 7 1-5.2 1 6.2 1-4 1-4 1-2.4 1 1.5 1 1.6 1 4.6 1 5.8 1-7.8 1 .4 1 4 1-4.1 1 .7 1 1.8 1-10.5 1 3.2 1-.2 1-2.8 1 2.8 1-5.4 1 4.3 1 1.7 1 3.1 1-1.8 1 1.1 1 1.2 1 3.1 1-1.5 1-3.4 1 .9 1-.6 1-4.3 1 3.9 1 2.2 1-.7 1 .4 1-6.4 1 1.8 1-.4 1 4.4 1-.3 1 .7 1-5.9 1 4.1 1-4 1 1.5 1 .1 1-4.3 1-.6 1-9.1 1 5.8 1-2.5 1-7.6 1 5.1 1 4.6 1-15.1 1-5.6 1 6 1-25.5 1-2.6 1-13.7 1-8.8 1-9.9 1-29.8 1-26.1 1-37 1-42.6 1-27.7 1-45.6 1-36.6 1-19.3 1-14.1 1-19.2 1-23.3 1 3.8 1-7.2 1-11.3 1-4.5 1-7.4 1 10.8 1 19.7 1 2.1 1-3.2 1 6.1 1 .6 1 5.8 1 11.1 1-1.9 1 6.9 1 .3 1-.7 1 17.8 1 9 1 8.3 1 18.6 1 8.3 1 10.6 1 21.8 1 10 1 16.3 1-2 1-12.2 1-36.1 1-22.2 1-19.1 1-7.8 1 53.9 1 32.2 1 50 1 28.3 1 3.7 1 16.1 1 25.7 1-21.4 1-41.7 1-43.7 1 5.3 1 4.2 1 30.1 1 22.4 1 24.7 1 52.2 1 37.2 1 10.7 1-2.5 1-34.1 1-31.7 1-32.7 1-37.1 1 14.1 1 .5 1 28.3 1 29.7 1 7.7 1-37.7 1-26.9 1-33.2 1-21.9 1 9.1 1 15.4 1 27.9 1 40.4 1 47.3 1 18.2 1 19.6 1 15.1 1-16.8 1-42 1-57.3 1-48.8 1-46.6 1-18 1-2.5 1 21.7 1 42.2 1 28.5 1 50.8 1 47.1 1 24.2 1 12.4 1-19.6 1-30.7 1-43.5 1-39.7 1-42.3 1-3.3 1-5.1 1 30.7 1 22.7 1 34.7 1 44.9 1-30.6 1-30.4 1-19.1 1-11.4 1 11.5 1 22.6 1 26.8 1 8.9 1 1.8 1-21 1-4.5 1-46 1-33.7 1-43.9 1-48.4 1-15.4 1-13.7 1-8.2 1 8.5 1 .9 1 1.1 1-2.3 1 3.8 1 4.3 1-.4 1-3.8 1 8.6 1-.1 1 3.4 1-10.1 1 6.7 1-3.2 1-15.8 1-.9 1 16.6 1 .8 1 5.5 1-.5 1 1.1 1 .2 1 2.5 1-8.7 1-20.2 1 23.8 1 7.4 1 2.1 1-1.3 1-5.5 1-1.2 1 1.9 1 8.5 1 8.2 1-.4 1-1.7 1-6.5 1-2.7 1-5.2 1-18.4 1-5.3 1 6.2 1 15.4 1-7.3 1 11.4 1 1 1 31.5 1-9.7 1 1.9 1-2.3 1-4.5 1-18.8 1-13 1-7.9 1 .5 1 3.5 1-14.7 1 17.4 1-.2 1 7.2 1 7.7 1-5.3 1 3.6 1 10.4 1 23.6 1-12.4 1-5.6 1-8.9 1-17.7 1 2.9 1 4.6 1 11.2 1 11.3 1-.5 1-10 1 .5 1 9.1 1 16.9 1-8.4 1 .6 1-17.5 1-11.3 1-11.6 1 1.4 1 2.5 1 12.9 1-5.1 1 8.9 1 11.5 1 2.5 1-6.4 1-12.1 1-7.8 1-9.9 1-3.5 1 .2 1 3.1 1 7 1 4 1 3.3 1 8.1 1 20.2 1 2.3 1-16.6 1-21.2 1-.5 1-1.9 1-4.7 1 6.5 1-12.5 1 11 1 7.9 1 .1 1 20.9 1-7.1 1-3.7 1-7.7 1-2.6 1 3.9 1-7.5 1 8.5 1 11 1 4.2 1-9.3 1 11.5 1 13.5 1-12.8 1-12.4 1-15.4 1 9.8 1-3.8 1 8.4 1 .1 1 16.3 1-10.3 1-10.5 1-10.2 1-2 1 2.4 1 6.5 1 6.5 1-3.2 1-8.4 1 2.3 1 20.8 1 .7 1-4.8 1-8.7 1-14.2 1 13.2 1-18.1 1 8.9 1-3 1-7.3 1 12.1 1 8.5 1 11.6 1 5.5 1 10.1 1-16.9 1-15.9 1-15.5 1-4.6 1 6.6 1-6.6 1 4.1 1 .8 1-3.7 1 5.5 1 16.2 1-11.6 1-.4 1 .5 1 18.6 1 2.6 1-.1 1 0 1-16.3 1-.5 1 7.1 1-12.3 1 1.6 1-5.8 1-10.1 1 9.4 1-15.5 1 17.6 1-14.6 1 26.5 1 18.6 1-1.3 1-3.4 1-18.5 1-.6 1-7.8 1-.2 1-12.5 1 11.7 1 9.5 1 4.6 1-8.1 1 6.6 1 6.4 1-5 1 1.5 1 8.2 1-2.5 1-8 1-11.8 1 1 1-1.8 1 5.1 1-9.7 1 15.6 1 4.2 1-9.9 1 2.4 1-12.5 1 13 1-2.9 1 12.4 1-11.9 1 7.9 1 12.8 1-7.7 1 .9 1 10 1-25.6 1-4.2 1-1 1 8.3 1-1.3 1 11.2 1 2.3 1-4.6 1-14.3 1-8.9 1 11.8 1-6.9 1-.7"/><path stroke="#997300" transform="translate(149.90,0) scale(1.81375,1)" vector-effect="non-scaling-stroke" d="M0 736.9l1 1.7 1-4.6 1-4.9 1 1.5 1 1.3 1-.6 1 2.2 1-.9 1-2.7 1 1.6 1-1.4 1 .5 1 4.5 1-2 1 1.9 1-2.3 1-2.3 1-.9 1-1.7 1-1.5 1-.9 1 5.9 1-7 1-.2 1-1.4 1 4.7 1-3.2 1-1.5 1-.3 1 .3 1-1.6 1-2.6 1-2.6 1 4.2 1-.3 1-6.5 1 4.9 1 1 1-.6 1-5.6 1 .3 1 .1 1 1.7 1-3 1-1.8 1 2.9 1 2.1 1-2.8 1-.3 1-1.6 1 1.2 1 .4 1-.8 1-1.4 1 2.1 1 5.4 1-2.8 1 3.6 1-3.7 1 4.5 1-1.1 1-6.1 1 3 1-1.4 1 5 1-1.2 1 7.6 1-6.3 1-1.2 1-1.1 1-.1 1 1.6 1 1.7 1-2.5 1-4 1 3.6 1-1.7 1 5.3 1-.1 1-2 1 2.4 1-1.8 1-4.6 1-.4 1 .4 1-2 1 2.9 1 .7 1-1.9 1 2.3 1-1.1 1 2.3 1 3.5 1 1.5 1-2.5 1 4 1-4.5 1-2.7 1 0 1 2.9 1 1.7 1-3.3 1-.4 1-.3 1-.1 1 4.3 1-1.9 1 1.4 1 .5 1-.6 1 3.8 1 .8 1-4.1 1 .4 1 3 1-1 1 4.6 1-.7 1 4.6 1-4.4 1 4 1-5.1 1 3 1-3.9 1-.3 1-2.8 1 5.7 1-7.3 1 2 1 1 1-5.2 1 2.6 1-1.7 1 2.3 1-4.2 1-1.7 1 1 1-1.3 1-1 1 1.5 1-5.7 1-.9 1-1.6 1 .8 1 4.1 1-2.6 1-1 1 5.7 1-6.5 1 2 1-.4 1 1.8 1-1.6 1-6.1 1 2.6 1 2.6 1-.6 1-3.6 1-2.6 1 3.2 1-2.6 1 1.9 1 .8 1-1.9 1 .5 1-3.3 1 3.1 1-4.5 1 5.2 1-1.6 1 3.9 1-4.3 1 1.9 1-.5 1-4.3 1 1.6 1 .4 1 2.4 1-1.7 1 .6 1 .4 1-7.5 1-.3 1 4.9 1 .8 1-1.7 1 2.8 1-3.7 1-3.4 1 1.3 1-2.1 1 1.8 1-1.3 1 3.4 1 .2 1-1.2 1 1.3 1-.7 1 1.7 1-5.3 1 5.3 1 7.6 1 .1 1-.4 1 1.5 1 1 1 4.7 1 3.2 1 5.1 1 2.7 1 .3 1 2.9 1-1.3 1 4.2 1 5.1 1-1 1 2.7 1 .7 1-3.1 1-5.4 1 4.3 1 2.9 1-139 1-19.4 1-18.2 1-.8 1 7.7 1 2.3 1-16.9 1 3.3 1 14.5 1-.4 1-15.3 1-4.9 1 15.5 1 8.9 1 5.4 1 11.1 1 5.1 1-18.7 1-.2 1 29.9 1 11.4 1-4.9 1 3.9 1 7.3 1 1.2 1 .8 1 5 1-1.3 1-22.8 1 12.9 1 5.4 1-1.2 1 6.1 1 3.1 1-.3 1-2.8 1-.5 1 3.8 1-3.5 1 4.7 1 .8 1-.7 1-1 1-.9 1 3.3 1-14.5 1 8.7 1 0 1 2.9 1 2.3 1-2.6 1 5.7 1-6.6 1 4 1 5.7 1-6.4 1-1.9 1-7.7 1-.4 1 1.6 1 1.5 1 4.2 1 .4 1-3 1-1.9 1-2.6 1-2.5 1-.8 1 6.2 1-4.5 1 3.7 1 3.2 1-1.1 1-1 1 3 1-1.8 1 2.6 1-1.6 1-1.7 1-3.6 1 2.9 1 3.2 1 2.8 1-6.2 1 1.9 1-2 1 .2 1-2 1 3.1 1-1.5 1-5.8 1-.2 1 2.8 1-4.4 1-.3 1-4.4 1-6.8 1 2.1 1-3.7 1-7.6 1 3.1 1-8.4 1-14.8 1-.5 1-2.8 1-14.6 1-18.5 1-27.2 1-19.5 1-35.7 1-33.6 1-17.5 1-20.9 1-26.2 1-18.7 1-16.3 1-11.1 1 10.2 1 .3 1-3.8 1-5.4 1 10.2 1 13.3 1 1.5 1 8.4 1 8.9 1-4.1 1 14.1 1-2.7 1 10.6 1 10.3 1-3.9 1-2.9 1 1.6 1 3.4 1-1.2 1 18.5 1 2.1 1-1.4 1 18.1 1 10.6 1 .3 1 6.7 1 4.7 1 7.3 1 16.6 1 9.7 1 23.9 1 3.1 1 6.7 1-10.8 1-21.6 1-28.4 1-4.7 1 17.7 1 3.3 1 32.1 1 8.9 1 14.9 1-5.4 1-19.5 1-40.7 1-11.9 1-2.6 1 11.9 1 25.9 1 20.8 1 19.4 1 13.7 1-1.3 1-30.2 1-19.7 1-21.8 1-1.3 1 8.1 1 19.8 1 18.7 1 19.4 1 15.4 1 1.7 1-17.3 1-26.8 1-27.3 1-18.1 1 0 1 14.4 1 22.3 1 20 1 19.9 1 5.3 1 3.6 1-6.4 1-29.1 1-12.1 1-21 1 13.2 1 2.3 1 10.4 1 16.2 1 20.1 1 17.1 1 8.9 1 .7 1-18 1-19.1 1-11.4 1-7.9 1 1.5 1 5.2 1 7.5 1 5 1 15.3 1-16.6 1-18.8 1-14.1 1 2.2 1 1.2 1 15.8 1 16.8 1 8.9 1 11.3 1 .9 1-4.5 1-14.2 1-21.3 1-21.5 1-43 1-28.3 1-21 1-17.4 1-7.8 1-2.4 1-7.6 1 14.7 1 8.2 1 3.4 1 .6 1-16.4 1 2.7 1 2.7 1 13.3 1 4 1-2.2 1 .7 1-17.7 1 7.3 1 6.6 1 4.5 1 12.7 1-.5 1-6.8 1-11.5 1-3 1 11.9 1 6.7 1-3.6 1-2.3 1-.1 1-1.7 1 11.1 1-3.9 1 3.8 1 .1 1-10.6 1-2.8 1 12.1 1-1.3 1-4 1-13.2 1-4.5 1 8.9 1 3.6 1 9.4 1-13 1 6.3 1 10.9 1-7.1 1-10 1 1.8 1 7.6 1 12 1-4.4 1-15.9 1 1.9 1 2.2 1 11 1-.9 1-11.6 1-8.4 1 6.3 1 14.4 1 3.4 1-8.7 1-11.3 1 2.5 1 11.9 1-6.3 1 2.2 1 5.2 1-1.2 1-1 1 6.7 1 3.6 1-14.6 1 2.3 1 12.4 1 .7 1 8.9 1-15.1 1 .3 1 3.2 1-6.7 1 12 1-5.5 1 4.4 1-15.5 1 6.9 1 2.3 1 6.8 1 4 1 2.2 1-6.9 1-12.8 1-5.8 1 12 1 1.3 1-8 1-.4 1 5.3 1-5.4 1-1.9 1 7.1 1 11.1 1-8.3 1-6.1 1-3.4 1 7.8 1 5.5 1 5.6 1-6.3 1 1.2 1-6.2 1 5.9 1 1.2 1-14.4 1 14.8 1 4.3 1 4.2 1-3.8 1-2.2 1-1.5 1 2.8 1 8.8 1-3.1 1-15.2 1 .5 1 10.6 1 11.9 1 3.4 1-9.3 1-7.3 1-7.6 1 13.2 1-12.5 1 .2 1 8.9 1-5.2 1-6.7 1-7.2 1-3.7 1 19.8 1 8.2 1-3.2 1-3 1-6.6 1 7.7 1 6.2 1-4.9 1-.2 1-5.4 1-8 1 14.2 1 .7 1 1.4 1-5.7 1-12.5 1 12.1 1 3.5 1 1.4 1-21.6 1 4.8 1 2 1 13.3 1 2 1-9.4 1 .7 1 4.8 1-5.2 1 4.5 1 .6 1 4.7 1 8 1-1.4 1 2 1-7.3 1-7.4 1 11.7 1 9.6 1 .1 1-22.4 1 4.4 1 7.2 1 15.3 1-4.1 1-7.4 1-3.5 1-2.1 1-4.8 1 2.9 1-11.8 1 2.7 1-2.1 1 17.6 1-3.8 1 3.6 1 1.1 1-7.6 1-9.8 1 1 1 11.2 1 18.1 1-9.9 1-9.9 1 3.2 1-4.2 1 12 1 4.1 1 .3 1 2.3 1-12.9 1-7.7 1-7.9 1 13.3 1 13.4 1-.9 1-7.8 1-4.4 1 4.1 1-3.8 1 9.6 1 9.1 1-17 1 1.2 1-4.2 1 5.9 1 .1 1 1.6 1 7.7 1-9.9 1 1.3 1 8.8 1-1.6 1-5.7 1-.4 1-.4 1 4 1 10.4 1-7.8 1-8.5 1 4.3 1 12.3 1 3"/><path stroke="#264478" transform="translate(149.90,0) scale(1.81375,1)" vector-effect="non-scaling-stroke" d="M0 717.3l1 .9 1-5.7 1-2.5 1 .6 1-1.3 1-2.3 1 1.6 1 1.6 1-3 1 2 1-.3 1 3.7 1-.4 1 .2 1 4.6 1-9.2 1 1.3 1-3.7 1-1.2 1-.8 1-1.7 1 3.1 1-2.8 1-.7 1-2.9 1-.4 1-.2 1-2.7 1-2.9 1 .9 1-1.6 1 1.4 1 0 1-2.3 1-1 1-.4 1-.8 1-2.6 1 4.3 1-5.4 1-.2 1-3.2 1-.3 1-1.1 1-2.9 1-2 1 6.4 1-2.6 1-2.5 1 2.3 1 1.4 1-2.6 1 .6 1 .3 1 3 1 3.1 1-.7 1-1.1 1 4.8 1-3.3 1 2.8 1-4.7 1 1.5 1 .7 1 4.9 1-5.3 1 5 1-3.7 1-6.2 1 3.1 1 .5 1 3.2 1-1.2 1-3.4 1 .1 1 3.5 1 .4 1-1.6 1 1.2 1 3.5 1-.8 1-2.7 1-5.4 1 .4 1 .6 1 .8 1 .8 1 1.5 1 .6 1 4.6 1-2.5 1 3.1 1 1.6 1 2.1 1 0 1 4 1-7.1 1-2.1 1 1.9 1-1.7 1 4.3 1-1.5 1 3.1 1-2.8 1 1.4 1-1 1 0 1 2.2 1 2 1-.9 1 3.8 1 1.7 1-.2 1-3.1 1-1.4 1 1.8 1 1.9 1 3.4 1-.7 1 .4 1-2.7 1-.1 1 3.9 1-2.9 1-.8 1-5.5 1 2.2 1-.2 1 .3 1-.4 1-1.8 1-.5 1 1.3 1-.3 1-3.1 1-1.6 1-3 1-.1 1 1.3 1-6.4 1-1.6 1-.4 1-.8 1 .4 1 2.8 1 .6 1 .3 1-3.2 1-.4 1-.7 1 .1 1 3.3 1-6 1-2.3 1 .8 1 4.2 1-6 1-.2 1 2.6 1-.9 1 1.4 1-.7 1-2.4 1-.3 1-5.3 1 4.4 1-3 1 3.3 1 1.3 1 .6 1-1.1 1-1.2 1-.7 1-.1 1-2.8 1-.1 1 .3 1-2.9 1 3.7 1-4.4 1-5.7 1 3.4 1-1.8 1 1.3 1 6.7 1-3.9 1-.4 1-2.1 1-3 1 2.7 1-1.5 1-2.3 1 3.2 1-.9 1 .8 1 3.2 1-2.4 1 2.5 1-5.1 1 4.4 1 2 1 7.4 1 2.8 1-2.1 1 3.3 1 4.6 1 1.9 1 11.1 1 3.4 1-2.9 1 4.1 1 5.4 1-201.6 1-14.9 1-5.5 1-29.4 1-11.4 1 17.3 1 18.9 1 7.2 1-32.6 1-9.3 1 32.8 1 7.8 1-68.4 1 35.1 1 1 1 14.7 1 9.7 1 19.4 1 26.8 1-46.2 1 16.8 1 11.8 1 20.2 1-.9 1 15.2 1-51.4 1 32.9 1-19.5 1 29.6 1-35.4 1 18.7 1 42.3 1 2.3 1 3.9 1-6 1 .8 1-4.9 1 6.1 1-2 1-5.9 1 3.5 1 5.2 1 .1 1-6.6 1-3 1-23.9 1 8 1 20.4 1 3 1 4.6 1-6.7 1-14.5 1 .1 1 18.9 1 1.9 1-5.6 1-6.3 1 4.1 1 1.9 1-.8 1 8.6 1-16.3 1-31 1 35.9 1 2.2 1-1 1-2.1 1-10.2 1-10.9 1 18.2 1 1.8 1 3.8 1-1.3 1-44.4 1 21.5 1 8.7 1-1.7 1 2.9 1 1.7 1-3.8 1 5.2 1 4.4 1-2.5 1 9.8 1-4.9 1-3.8 1-28.9 1 29.5 1 6.1 1 1.3 1-12.6 1 10 1 6.5 1-32.9 1 9.4 1 5 1 7.4 1 2.7 1 6.9 1-5.9 1-8.2 1-.4 1-30.9 1 11.9 1 4.9 1 4.5 1-.1 1-5.3 1-31.2 1 16.2 1 .6 1-8.6 1 3 1-2.1 1-9.2 1-56.1 1 2.9 1-34.2 1-26 1-31.2 1-59.1 1-33.9 1-30.7 1-28.5 1-27 1-31.2 1 2.5 1-2 1-10.2 1-5.8 1 2.3 1 16.7 1 4.4 1 5.6 1 1.4 1-23.2 1 30.6 1-20.5 1 1.6 1-2.9 1 32.8 1-19.1 1 24.1 1-5.6 1 4.4 1 13.5 1 23.6 1 5.4 1 3.6 1 10.6 1-31.8 1-8.9 1 4.5 1 34.6 1 20.8 1 10.6 1-1.6 1-47.1 1-15.2 1 23.9 1 9.4 1 47.3 1-12.5 1 2.8 1 15 1-18.1 1 33.3 1-13.5 1-27.4 1 19.8 1 2.5 1-4.2 1 16.1 1 41.3 1 11.6 1-15.6 1 8.2 1-10.1 1-3.6 1-31.7 1-35.1 1-.9 1-16.3 1 .9 1 9.3 1 21.6 1 22.3 1 34.4 1-6 1-5.2 1-40.4 1-2.2 1 30.7 1 6.7 1-30.7 1 4.4 1-15.9 1 8.6 1 2.1 1 27.8 1 5.8 1 12.9 1 8.2 1-18.4 1-17.6 1-10.9 1-4 1 21.2 1-2.4 1-12.2 1-26.2 1-24.7 1-23.1 1 21.9 1 19.8 1 27.5 1 30.2 1 18 1 35 1-19.4 1-1.4 1-32.1 1-20.9 1-34.9 1-18.6 1 14.5 1 23.9 1 8.7 1 30.6 1 4 1 10.7 1 17.5 1-22.6 1-38.8 1-35.3 1-11.3 1 10.2 1-13.1 1-27.2 1-35.4 1 10.2 1-13.7 1-4.1 1 0 1 3.4 1 6.6 1-7.3 1 6 1-33.8 1 2.1 1 19.4 1 9.2 1 27.2 1-.1 1-19.1 1-31.1 1 19 1 3 1-4 1-6.2 1 5.7 1 13.3 1 12.5 1-10.8 1-17.2 1-22.1 1 5.6 1 6.6 1 37.2 1-10 1-16 1 13.5 1-8.7 1 11.1 1 13.4 1-.7 1-1.8 1-8.3 1-26.2 1 8.7 1 4.8 1 6.2 1 15.6 1-.6 1-5 1-47.3 1 2.2 1 13.6 1 38.8 1 1.7 1-10.4 1 10.1 1-10.6 1-5.1 1-7.5 1-24.8 1 18.2 1-4.3 1 47.8 1-30.8 1-2.3 1 23.1 1-29.9 1-19.8 1-7.7 1 7.1 1 3.5 1 24.6 1 .4 1 2.4 1 17.9 1-3.1 1-12.7 1 8.7 1 2.9 1 2.7 1-7.8 1-6.4 1-2.3 1 10.7 1-16.4 1 8.7 1-13.3 1 .6 1 14.7 1-5.8 1-3.5 1-6.5 1 19.6 1-7.3 1-19.4 1 7.8 1 17.7 1-15.8 1 14.4 1-.5 1 5.6 1-.9 1 .5 1-9.3 1-8.9 1-.4 1-17.3 1 2.4 1-2.8 1-13.9 1 17.6 1 14.9 1 16.2 1 11.7 1-15.8 1-5.5 1-5.8 1-1.1 1 3.6 1 12.4 1 23.3 1-17.5 1-10.6 1-23.7 1 1.1 1-10.6 1 14.9 1 12.5 1-2 1-13 1 8.7 1 14 1 .2 1-14.9 1 10.1 1-5.7 1-20.8 1-13 1 28.3 1 5 1 10.5 1-7 1-9.9 1-12.7 1-3.7 1 13.9 1 9.5 1-4.1 1-1.8 1-14.4 1-16.9 1 16.3 1 18.2 1-9.3 1 23.4 1 11.8 1 7 1-17.3 1-7.4 1-13.3 1-8.6 1 6.1 1 14.5 1 3.4 1-6.6 1 1.4 1-15.7 1 10.2 1-15.9 1 18.2 1-15.7 1 17.2 1 4.4 1 13 1-16.2 1 23.8 1-19.6 1 13 1-10.9 1 9.2 1 9 1-4.6 1-20.8 1 24.3 1-9.4 1-3.6 1-6 1-8.3 1-31.5 1 .2 1 17.1 1 16.7 1-19 1 12.2 1-2.7 1 3.7 1 22.9 1-11.5 1 7.1 1-16.5 1-14.1 1 21.1 1-7.6 1-3.2 1-11 1 23.5 1 1.4 1-2.3 1 13 1-10.1 1-28 1 12.1 1-7.3 1 15.5 1-9.7 1 11.4 1 5.6 1-18 1 9.1 1 13.3 1 6.3 1-29.9 1 15.3 1-27.9 1 22.8 1 10 1 2.9 1 9.1 1-8.1 1-1.3 1-.9 1-8.4 1 7.6 1 7.3 1-5.3 1 4.4 1 3.8 1-7.2 1 .6 1 23.3 1-3.7 1-33.5 1-3 1 12 1-1.5 1-3.4"/><path stroke="#43682B" transform="translate(149.90,0) scale(1.81375,1)" vector-effect="non-scaling-stroke" d="M0 720.1l1 .4 1-5.1 1-.2 1-.5 1-.8 1-.9 1-1.7 1 1.8 1-.9 1-.7 1 .9 1 .5 1 2 1 .6 1 4.3 1-7 1-2.2 1-1 1-2.6 1 1.5 1 1.6 1-3.4 1 1.1 1-3.8 1-.3 1 2.3 1-.7 1-1.3 1 0 1-3.2 1 1.4 1-5.8 1 3.2 1 1 1-3.2 1 3.9 1-1.2 1-1.2 1-1 1 .1 1-1.3 1-1.2 1-.3 1 2 1-4.1 1 2 1 .5 1-2.6 1 .4 1-2.9 1 1.6 1 2.2 1 .3 1 .1 1-.3 1 2.2 1 1.6 1-.6 1 3.6 1 0 1-4.7 1-1.2 1 2.5 1 6.3 1-1.4 1-4.6 1 3.9 1-.9 1-3 1-5.1 1 5 1-2.6 1 2.2 1-2.5 1 2.2 1 .4 1 .6 1-.4 1-.5 1 2.3 1-2.1 1-4.3 1 3.2 1-3.8 1 .2 1 1.3 1 1.9 1-3.5 1 .6 1 2.7 1-.7 1 4.5 1 2.6 1 2.2 1 5.1 1-4.6 1-3.9 1 0 1-.7 1 1.2 1-2.9 1 .7 1 2.2 1 1.6 1 1.3 1-1.6 1 .5 1 .2 1 .4 1 3.7 1-.4 1-.5 1-1.7 1 .7 1-1.1 1 4.4 1 .1 1 3.7 1-2.3 1 2 1-2.9 1 3.5 1 1 1-4 1-1.8 1-4.9 1-1.3 1 5.6 1-4.1 1 .7 1-2.9 1-1 1 .1 1-.8 1-.8 1-2.5 1 .6 1 2.2 1-3.9 1-.7 1-2.4 1-1 1-.8 1 1.3 1-1.1 1-.9 1 .9 1 2.2 1 .6 1-1.4 1-1 1-.9 1 2 1-7 1 1.9 1 1.5 1-2.7 1 1.4 1 1.5 1 2.8 1 .2 1-.2 1-5.2 1-1.9 1 2.8 1 1.4 1-1.8 1-.1 1 3.3 1 .9 1-1.8 1 .8 1-6.5 1 1 1 2 1 .3 1-1.2 1-3 1 3.5 1-1.7 1-.5 1-3.9 1 .7 1 3.7 1 .8 1 1.6 1-3.4 1-3.4 1 5 1-8.4 1 6 1-2.2 1 1.5 1-1 1-1.3 1-.9 1-.9 1-2.1 1 .9 1 4 1-.6 1 5.7 1 3.9 1-3.2 1 6.8 1-3.9 1 8.5 1 1.8 1 3.9 1 2.2 1 3.5 1-.6 1 2.7 1-110.6 1-78.7 1 20.3 1 14.5 1 7 1-2.9 1-15.7 1-34.3 1 21.4 1 22.1 1 8.8 1 1.7 1-43.5 1 12.2 1 21.8 1 9.3 1 5.3 1-11.1 1-35.2 1 29.5 1-3.1 1 6 1-33.4 1 20.1 1-13.6 1 28.7 1-34.2 1 27.7 1 9.7 1 25.1 1 7.7 1 .1 1 .4 1 2.5 1-1 1-2.2 1 2.8 1-9.4 1 1.2 1-.2 1-.5 1 .6 1 5.6 1-1.2 1-1.9 1-.6 1 10.6 1-2 1-10.9 1-4.6 1 4.1 1 7.5 1-2.5 1-9.4 1-1.2 1 .1 1 5.7 1-1.8 1 3.7 1 2.4 1-.7 1-9.1 1 3.7 1 10 1-5.1 1-4.9 1-2.1 1 6.1 1-5.6 1-2 1 4.5 1 0 1-6.5 1 .8 1 3.9 1-4.1 1 2.7 1 1.4 1-3.2 1 .9 1 9.4 1-7.2 1-4.5 1 6.7 1 3 1-5.2 1 2.2 1-.8 1 1 1-6 1 .5 1 2 1-3.4 1 2.1 1 3.9 1-3.3 1 7.7 1-1.6 1-.8 1-2.6 1-6.6 1 .2 1-6 1-7.4 1 3.2 1 3.9 1-10.6 1-3.7 1-5.8 1-1.9 1-6.6 1-8.3 1-2.7 1-13 1-19 1-23.2 1-35 1-39.3 1-33.3 1-30.8 1-51.1 1-31.5 1-30.9 1-22.9 1-23.2 1-3.3 1-7.4 1 4.6 1-14.4 1 4.9 1 8.6 1 9.5 1-3.4 1 2 1 8.9 1 2.2 1-.4 1 4.2 1 1.4 1 3.1 1 19.4 1 .6 1 11.4 1-1.1 1 14.8 1-.6 1 11.7 1 1.4 1 16.2 1 2.9 1-10.7 1-.5 1-6 1 18.9 1 32.2 1 35.9 1 37.2 1-16.8 1-20.8 1-6.1 1 6.5 1 20.6 1-22 1-52.6 1-29.6 1-.6 1 30.6 1 41.7 1 57.6 1 36.2 1-10.7 1-58.5 1-53.7 1-18.2 1 10.3 1 31.6 1 54.5 1 24.8 1 33.3 1-23.2 1-49.5 1-30.5 1-21.5 1 17.2 1 32.2 1 35.8 1 23 1 17.4 1-20.5 1-38.7 1-10 1 20.8 1 11.4 1 7.9 1 21.4 1-29.5 1-48.2 1-42.1 1-11.2 1 1.7 1 34.3 1 50.1 1 35 1 23.2 1 9.8 1-8.1 1-44.1 1-22.3 1-16.9 1-2.1 1 14.4 1 36.1 1 22.7 1-39.5 1-21.5 1-1.4 1 25.6 1 5.9 1 15.9 1-38.2 1-49.5 1-37.5 1 1.9 1 18.6 1 52.5 1 24.5 1-30.1 1-50.1 1-17 1 6.8 1 40.7 1 15.7 1 18.9 1-11.2 1-22.4 1-24.3 1-43 1-13.3 1-30.8 1 1.3 1-1.6 1 6.3 1-16.4 1 20.8 1-17.5 1-10.6 1 6.8 1 9.6 1 9.5 1-9.4 1-.9 1-1.7 1 10.4 1 .1 1 .8 1-3.5 1 5.9 1 21.1 1 5.3 1 9.4 1-13.5 1-18.7 1-7.4 1 4.2 1 7.7 1 10.1 1 10.9 1-13.4 1 6.5 1-18.4 1 7.7 1 1.7 1 3.6 1-9.2 1-1.5 1-10.3 1-5.2 1 6.3 1-.4 1 3.6 1-15.5 1 9.2 1 9.6 1-.2 1 8.9 1 3.1 1 .6 1 4.7 1 2.4 1 15.2 1 3.9 1-14.2 1-28.1 1-17.5 1 16.7 1-7.8 1 2 1-1 1-12 1-.8 1 20.3 1 2 1 9.9 1 4.1 1 16.6 1 .4 1-6 1 .2 1-23.1 1-13.9 1 14.6 1 14.3 1-12.5 1 .7 1 10.9 1-.1 1 11.1 1 3.2 1-23.9 1 11.8 1-15.2 1-7.8 1 4.3 1-9.6 1 7.9 1-9.7 1 12 1-11.5 1 11.8 1-.7 1 12.9 1 5.4 1 23.8 1 6.3 1-.9 1-16.6 1-12.8 1-21.8 1-4.9 1-3.9 1 1.1 1-.8 1 17.1 1 5.6 1 1.1 1 6.3 1 6.5 1-9.9 1-13.8 1-14.2 1-1.9 1 9.3 1-1.3 1 8.8 1 12.7 1 12.3 1 9 1 3.7 1-20 1-5.8 1-10.3 1-4.4 1 .4 1-12.5 1 .1 1 19.3 1 11.6 1 7.7 1 2.2 1-23.8 1-4.6 1-2.8 1 7.3 1-8.8 1-11.4 1 8.4 1 7.1 1 3.5 1-4.6 1-17.8 1 7.6 1-7.5 1 12.6 1-5.2 1 19.6 1 .2 1 16.4 1-2.7 1-5.2 1-.2 1-11.1 1-12.2 1-3 1 1.8 1-8.5 1 12.1 1 1.1 1 2.4 1-10.7 1-5.1 1 3.3 1-7.8 1 3 1 12.6 1 1.6 1 12.7 1 9.9 1 7.2 1-8.7 1 7.9 1-17.4 1 3 1-2.2 1-8.7 1 5.6 1 1.4 1-5.9 1 0 1 17.6 1 16.8 1 13.9 1-4.5 1-12 1-12 1-7.4 1-10.5 1-18.9 1-2.4 1 6.7 1 18.9 1-2.7 1 16.7 1-5.1 1 18.5 1-7.3 1-4.8 1 .2 1-22.2 1 4.9 1-10.5 1-6.9 1 8 1 2.4 1-1.4 1-1.5 1 7.5 1 6.5 1 5.9 1-3.7 1-6.6 1 12.1 1-15.7 1-1.7 1 10.3 1 9.5 1 20.7 1-4.5 1-2.5 1-16.7 1-11.5 1-6.4 1-12.7 1 3.9 1 7.3 1-5.8 1-6.9 1 38.7 1-5.8 1 .6 1 10.1 1 3.1 1 10.4 1-24.8 1-18.8 1 2.7 1 4.2 1-18.1 1 8.4 1-1.5 1-2.3 1-3"/><path stroke="#7CAFDD" transform="translate(149.90,0) scale(1.81375,1)" vector-effect="non-scaling-stroke" d="M0 710.0l1-1.2 1-4.5 1-3.6 1 .1 1 .7 1 2.2 1-6 1 2.4 1 1.3 1-.8 1-1.6 1 2.9 1-.3 1 .6 1 .7 1-1.6 1-.4 1 1 1-3.9 1-1 1-2.9 1-1.3 1-1.3 1-1.1 1-.3 1-1.3 1 2.2 1 .4 1-2.8 1-5.3 1 1.1 1 2.8 1-3.7 1-1.4 1 2.9 1-3 1-1.4 1 4.6 1-4.4 1-1.5 1 1.3 1-4.3 1 2.6 1 .6 1-4.9 1-2.8 1 2.3 1 1.4 1-1.5 1 1.6 1-1.3 1-3.1 1 0 1 3.5 1-3.2 1 4.3 1 .8 1 1.8 1 2.6 1 1.2 1-1.5 1-3.4 1-.7 1 1.3 1 3.1 1-1.2 1 .2 1 4 1-5.3 1-1.7 1-1.2 1 .4 1 .6 1 .2 1-.4 1-1.2 1 3.3 1-4.1 1-2.4 1 6.6 1-1.2 1-1 1-6.4 1-.5 1 .3 1 3 1-2.6 1 .7 1 .3 1 2.8 1 2.4 1 2.6 1 1 1 1.8 1 1.7 1 .6 1-2.7 1-2.4 1-2.7 1 6.2 1 2.6 1-4.5 1 .9 1-1.1 1 2.7 1-3 1 1.9 1 5.8 1-5.1 1 4.3 1-.8 1 1.6 1 2.4 1-1.4 1 2.8 1-1.5 1 6.2 1-4.3 1 5.7 1-2.8 1-.2 1-2.5 1 .5 1-6.7 1 2.8 1 .9 1-2.6 1 1.9 1-6.2 1 4.1 1-6 1 1.9 1 .6 1-.3 1-.5 1-.9 1-3.4 1 .9 1 2.9 1-2.2 1-6.6 1 1.2 1-3.1 1-.9 1 .3 1-1.6 1 1.4 1-3 1 6.7 1-5.9 1 .7 1-1 1-.5 1-1.8 1 1 1-.7 1-2.6 1-2.6 1 1.5 1 1.3 1-1.8 1 4.1 1-6.5 1 5.5 1-2.5 1 .4 1-2.3 1 2.9 1 3.6 1-4.4 1-.3 1 0 1-2.5 1-1.6 1 3.2 1-.4 1 1.3 1-1.5 1-3.1 1-3.5 1 2.2 1-5 1 1.4 1-3.2 1 7 1 .8 1-6.2 1-1.1 1 5.3 1-4.5 1 .6 1-1.8 1 2.6 1 .1 1-2.6 1-1 1 3.2 1-1.1 1 2.9 1 .6 1 3 1 6 1 .7 1-6.7 1 9.1 1 6.1 1 2.5 1 8.3 1 2.2 1 6.6 1-1.3 1 2.9 1-123.5 1-30.4 1-33.9 1-18.3 1 34.2 1-8.5 1-14.7 1-6 1-2.4 1 33.1 1 13.3 1-34.7 1 1.4 1-.6 1 8.5 1 31.3 1 7.4 1 6.8 1-19.6 1 4.8 1 21.9 1-7.3 1-23.6 1 18.9 1-2.3 1-12.6 1 20.6 1-18.9 1 30.2 1-53.3 1 29.7 1 34.2 1 14.5 1 .3 1-2.1 1-9.1 1-2.7 1 3.3 1-.7 1 .7 1-1.7 1 2.8 1 .7 1-5.4 1 5.7 1-5.1 1 .2 1 .1 1 5.8 1-2.1 1 3.3 1-5.4 1-1.5 1 2.8 1 3.8 1-4.4 1-4.2 1-.8 1-.3 1-.4 1-2.1 1 3.1 1-1.3 1-6.5 1 13.3 1-8.3 1 7.7 1-.8 1-6 1 5.2 1-4.9 1 4.3 1-4 1 4.5 1-8.6 1-2.6 1 4.7 1-9.5 1 19.3 1 1.9 1-13.4 1 2 1 1.5 1-1.3 1 1.6 1 7.8 1-7.6 1-6.3 1-.9 1 2.8 1 .8 1 4.1 1 .5 1-3.2 1 6.6 1-1.1 1-5.2 1-1 1 3 1-1.7 1-8.1 1-2.4 1-5.5 1 7 1-6.6 1-10.2 1 6.7 1-2.6 1 4.4 1-15.3 1-12.2 1-16.8 1 8.1 1-18.7 1-1.7 1-21.9 1-22.7 1-15.9 1-21.9 1-71.2 1-49 1-38.1 1-56.3 1-26 1-23.3 1-19.8 1-10.6 1-20 1 .4 1-1 1-2.2 1 21.4 1 8.8 1-6.4 1 10.5 1-12.5 1-8 1 5.3 1 16 1 7.4 1 5.7 1-21 1-3.2 1 19.4 1 4.2 1 4 1 13.8 1 18.4 1 6.1 1 14.1 1 5.8 1-.8 1 8 1-3.9 1 22.3 1 13.4 1-23.1 1-26.2 1 13.6 1 2.2 1 47.1 1 33.1 1 17.7 1 41.1 1-22.7 1-21.8 1-9.5 1-23.8 1-6.7 1 21.3 1 17.9 1 21.1 1 24.1 1 13.8 1-4.2 1 26.8 1-22.1 1-27.5 1-14.1 1-38.4 1-11.1 1-18.9 1 24 1 15.7 1 22 1 26.6 1 15.6 1 11.1 1-2.5 1-47.2 1-32.1 1-66.4 1 17.1 1-17.5 1 49.5 1 23.2 1 24.2 1 31.9 1-12.7 1-29.6 1-5.9 1-1.6 1 1.6 1-11.2 1-17 1-1.2 1 15.3 1 38.9 1 12.9 1 28 1-4.9 1 26 1 4.9 1 11.6 1 1.5 1-34 1-40.4 1-39.5 1-63.3 1-31.6 1-21.2 1 25.6 1 41.2 1 36.8 1 50.6 1 37.8 1 21.3 1-39 1-34.5 1-27.2 1-32.9 1-23.9 1-3.6 1 24.5 1 4.9 1-33.2 1-63.6 1-11.3 1 3.2 1-8.2 1-7.7 1-23.5 1 21 1 2 1-6.5 1-17 1 36 1-7.3 1 9.3 1-15.7 1 15.6 1-5.6 1 9.8 1-7.6 1-4.2 1 1.8 1-11.5 1 19.7 1-5.1 1 8.5 1-5.4 1 17.1 1 21.9 1 11.2 1 1.5 1 1.9 1 21.5 1 2.7 1 31 1-12 1 19.7 1 5 1 2.3 1 20.7 1 18 1-5.9 1-2.1 1-17.3 1-31.7 1-18.6 1-20.2 1-30.2 1-20.3 1-10 1 11 1 11.3 1 18.5 1 11 1 11.5 1 25.2 1 16.9 1 22.4 1 5.3 1 36.3 1 12.1 1 16 1 35.2 1 17.7 1 10.1 1-2.6 1 1.5 1 12.3 1-39.7 1-49.3 1-43.4 1-55 1-45.3 1-25.5 1-15.7 1-3.3 1-4.3 1-16.2 1 17.6 1-2.2 1-1.4 1-4.4 1 4.5 1 2.2 1 2.5 1-13.8 1 10.4 1 18.8 1 .8 1-14.8 1 3.6 1 16.3 1 0 1 23.1 1 9.7 1 7 1 8.3 1 29.8 1 8.3 1-1.5 1 3.1 1 18.9 1 12.8 1 21.9 1 15.1 1 12.6 1-11.2 1-10.5 1 6.4 1-46.3 1-34.4 1-51 1-22.1 1-17.7 1-7.3 1-5.5 1 2.3 1 19.6 1 4.3 1 21.9 1-4.9 1 36.1 1 5.2 1 20.7 1 27.7 1 14.6 1 27 1 25.9 1 11.6 1 28.1 1-17.8 1-2.5 1 18.8 1-16 1-28 1-51.5 1-66.3 1-16 1-30.3 1-13.4 1-8.3 1-8.3 1-4.8 1-5.9 1 6.3 1 23.2 1 14.1 1-10.1 1 6.9 1 18.5 1 11.3 1 27.8 1 18.7 1 16.9 1 39.5 1 9 1 24.8 1 17 1 20.2 1 4.9 1 9.3 1 13 1-7.8 1 5.2 1-55 1-33.5 1-74.1 1 37.1 1 15.1 1 10.6 1-2.1 1-7.3 1-2.4 1 1.2 1-.8 1-32.8 1-29.6 1-43 1-17.3 1-13.3 1-11.8 1 3.7 1 1.5 1-3.7 1-8.2 1 7.1 1 8.2 1-16.2 1 11.8 1 5.3 1 2.9 1-5.2 1-13.2 1 5.3 1 4.3 1 17.9 1 11.8 1-2.1 1 26.5 1 33.5 1 17.3 1 40.8 1 24.2 1 12.5 1 4.9 1 20.5 1 1.7 1 33.2 1 9.3 1 1.7 1-28.5 1-50.8 1-47 1-57 1-30.4 1-28.4 1-1.6 1 14.7 1-12.7 1 21.3 1 20.6 1 6 1 28.8 1 31 1 13.6 1 25.4 1 9.3 1 41.3 1 22 1 14.4 1 15.6 1-8.4 1 31.7 1-12.9 1-34.8 1-59.7 1-42.9 1 14.2 1 2.1 1-5.6 1-4 1 27.7 1-30.2 1-15.3 1-44.5 1-39.4 1-29.8 1-11.6"/><path stroke="#F1975A" transform="translate(149.90,0) scale(1.81375,1)" vector-effect="non-scaling-stroke" d="M0 722.5l1-4.5 1-1.3 1-1.4 1 2.7 1-.7 1-3.4 1-2 1 .7 1 5.6 1-5.7 1 3 1-.6 1 2.6 1 1.1 1-.2 1-3.5 1-.6 1-5.1 1 2.1 1-2.4 1 1.1 1 3.4 1-6 1-3.8 1-1.7 1-1.9 1 3.6 1-.3 1-1.3 1-3.1 1-.5 1-.8 1-3 1 1.6 1 2.4 1-2.7 1 2.3 1-1.3 1-2.8 1 1.5 1-2.4 1 2.3 1-1.1 1-3.6 1-.8 1 .5 1 4.8 1-4 1-1.9 1 2.1 1-1.4 1 1.4 1-4.4 1 3.1 1 5.8 1-3.1 1 6.4 1-6.8 1 3.5 1 3.6 1-4.9 1 1.2 1-1.4 1 6.5 1-2.3 1 4 1-2.6 1-.8 1-3 1 .6 1-4 1 1.1 1 4.1 1-.4 1 1.1 1-.9 1 2.5 1-3.5 1-7.2 1 4.5 1 0 1 .2 1-2.1 1 1.8 1-.3 1-4.3 1 2.5 1 3.1 1 0 1-4 1 2.8 1 5 1-2.1 1 2.8 1 4.8 1-.3 1-4.3 1 1.8 1-5 1 4.1 1 2.6 1-1.4 1 .1 1-.9 1-2.4 1 1.7 1 .9 1 1.5 1-.9 1 3.3 1 .9 1 .5 1-1.4 1-3.2 1 5.3 1 3.8 1-1 1 2.2 1 1.4 1 .8 1-4.4 1 3.7 1-4.7 1 .5 1-.8 1-.1 1-4.1 1-1.5 1 1.1 1-.4 1-2.5 1 0 1 1.4 1 .9 1-3.3 1-4.2 1-.9 1 3.8 1-1.7 1-.1 1-6.3 1-1 1 .6 1-5.1 1 6.8 1-4.7 1 5.1 1-1.7 1 1.1 1 .5 1-1.2 1-2.5 1 3.2 1-6.9 1 2.6 1-2.1 1-2.6 1 1 1-1.3 1 2.1 1 0 1 0 1-4.6 1 .3 1 .1 1 2.5 1-1.7 1 2.1 1 2.7 1-2 1 .8 1-3.7 1 1.3 1-1 1 .7 1-1.9 1 0 1-2 1 3.4 1-5.7 1-1.5 1-2.9 1 .5 1 3.4 1 2.8 1-.7 1-5.8 1 1.5 1 .7 1-.8 1-.1 1-.7 1 .2 1 1.4 1 3.6 1-2.4 1-.3 1-.2 1-3.7 1-1.2 1 5 1 6.1 1-1 1 2.7 1 .1 1 3.5 1 7.7 1 3.3 1 4.3 1 1.5 1-.5 1 5.6 1-167.5 1-24.7 1-35 1 .3 1 26.1 1 12.8 1-4 1-14 1-2.8 1 12.4 1 7.1 1-26.8 1-5.6 1 7 1 27 1-11.2 1 6.3 1 20 1-.9 1-30.8 1 27.5 1 9.6 1-19.9 1 25.1 1-25.2 1 9.8 1 30.6 1-23.5 1-16.2 1 30.4 1-24.1 1 14.6 1 20.5 1 10.1 1-.9 1-4.3 1 2.3 1 1.7 1 1.2 1 1.8 1-4.3 1 3.6 1-3.5 1 5.3 1-5.6 1 0 1 1 1 7.9 1-5.6 1-.7 1-2.4 1 2.7 1 2.2 1-1.5 1-3.8 1 1.5 1 .8 1 2 1-7.2 1 1.1 1 9.4 1-1.1 1-.2 1-1.4 1-5.3 1 2.2 1-1.7 1-3.3 1 2.5 1-2.6 1 2.7 1 .6 1 1.6 1-.8 1-9.9 1 6.6 1-4.3 1 2.3 1-1.5 1 2.6 1 9.3 1-9.5 1-3.6 1-1.8 1 4 1 .9 1-3.2 1 1.1 1 1.2 1-5.8 1 6.1 1 2.3 1-1.8 1 1.5 1-.1 1-1.8 1 .9 1-1.2 1 2.2 1-2.5 1 4.6 1-6.9 1-4.4 1-6.1 1-3.6 1-3.4 1 6.3 1-3.7 1 2.5 1-6.6 1-7.5 1-1.4 1-11.1 1-14.9 1-6.9 1-16.5 1-15.5 1-12.8 1-46.5 1-30.2 1-34.1 1-28.9 1-21.2 1-24.6 1-24.6 1-3.4 1-8.3 1-10.4 1 2.9 1 5.9 1-11.4 1 7.7 1 12.7 1-15.2 1 .3 1 12.5 1-12.2 1 10.7 1 9.8 1 .3 1 14.1 1-4.7 1-.5 1 11.3 1-1 1 3 1 24.7 1-8.3 1 6.9 1 5.8 1-16.8 1 2.7 1 11 1 .7 1 12.3 1 39.6 1 26.7 1-24.5 1-8.4 1-10.5 1 5.7 1 21.6 1 26 1 21.4 1 13.9 1 .2 1-8 1-28.3 1-41.6 1-6.1 1 32.1 1 18.1 1 14.9 1-22.9 1-38.7 1-8.7 1 9.1 1 6.8 1 20.4 1 32 1 34 1-33.3 1-55.5 1-33 1-6.7 1 12.1 1 27.6 1 35.9 1 31.4 1 21.1 1 22 1-4.7 1-12.2 1 9.1 1 .6 1-13.9 1-2 1-43.6 1-25.4 1 1.8 1-5.6 1 16.5 1 23.3 1 23.7 1 18.7 1-12.8 1-46.4 1-35.6 1-25.3 1 2.4 1 44 1 16.3 1 28.3 1 8.4 1 25.4 1-24.1 1-27.5 1-25.9 1-37.4 1-4.3 1 5.5 1 28.8 1 25 1 26.1 1 12.8 1 7.4 1 15.3 1-4.1 1-24.7 1-16.3 1-29.6 1 15 1 5 1 15.6 1-13.5 1-21.2 1-29 1-26.1 1-17.7 1-9.4 1 4.8 1-11.1 1-13.7 1-10.3 1 1.3 1 4.1 1 .9 1 14.9 1 15.2 1 4.5 1-10.7 1-26.7 1-7.1 1-.7 1 8.6 1 9 1 9.2 1 14.3 1-18.7 1-24.2 1-19.3 1 14.3 1 20 1 21.8 1-21.2 1-7.4 1-21.6 1 5.9 1 20.6 1 20 1 23 1-9.1 1-8.3 1-9.2 1-4.1 1 2.2 1 7.3 1 1.6 1 18.3 1-5.6 1 5.6 1-35.3 1-8.9 1 8.2 1 8.1 1 12.9 1 5 1 11 1 11.5 1-7.8 1-7 1-1.4 1 4 1-30.2 1-19.2 1-11.3 1 6.2 1 21.8 1 15.6 1-28.4 1-13.2 1-5 1 9 1 8.6 1 15.4 1-8.9 1 3.3 1-6.6 1 8 1 20.5 1 0 1-20.7 1-26.9 1-.5 1 5.6 1 14.7 1 32.2 1-4.2 1-7.1 1-15.3 1-25.3 1 8.1 1 14.6 1 17.6 1 7 1-7.6 1 .7 1-1.7 1 9.5 1 4 1-5.6 1-32.5 1-6.2 1-6.9 1-.6 1 21.5 1 21.1 1 11.4 1-14.3 1-10.6 1-5.8 1 1.1 1 4.9 1 2.1 1-17 1 1 1-8.7 1 26.4 1 7.8 1 21 1-8.6 1-10.1 1-3.6 1-15.1 1 10.4 1 2.2 1-1 1 9.3 1 .2 1-7 1-8.6 1-2.9 1 6.9 1-5.2 1 25.2 1-16.5 1-14.3 1-.6 1 7.7 1 3.8 1-5.2 1 23.7 1-.4 1-5.3 1-18.6 1-26.3 1 7.7 1 6.7 1 17.1 1-4.7 1-5.9 1 5.6 1-9.8 1 13.9 1 5.9 1 9.8 1 5.7 1-3.2 1-9.9 1-11.4 1 4.4 1 12.2 1-2.9 1-13.6 1-5.8 1-25.1 1 10 1 15.1 1 23.9 1-31.2 1 9.5 1-3.4 1 5.9 1 13.6 1 10.5 1-10.8 1-9.8 1-9.1 1-6.5 1 9.6 1 13.7 1 5.4 1-15.8 1-25.6 1-10.3 1 11.3 1 13 1 22.4 1 18.6 1-10.1 1-13 1-10.1 1 .5 1 13.1 1 1.1 1-20 1-18.2 1 3.9 1 20.2 1 7.2 1-2.7 1-7.3 1-3.6 1 18.4 1 17.7 1 10.9 1-14.1 1 1.5 1-17 1-8.4 1 4.7 1-6.4 1 9.1 1-5.5 1-11.1 1-4.4 1 5.9 1 15.1 1 11.9 1-13.5 1-11.2 1 6.2 1 5.3 1-20.1 1 .2 1 11.9 1 1.7 1-7.4 1-4.3 1 .2 1 2.2 1 25 1-10.7 1-3.3 1-19.8 1 .2 1 16.2 1 15.9 1-7 1-19.1 1-11 1 8.7 1 20.8 1 11.5 1 15.4 1-1.1 1-12.7 1 .6 1 6.3 1-24 1-10 1-19"/><path stroke="#B7B7B7" transform="translate(149.90,0) scale(1.81375,1)" vector-effect="non-scaling-stroke" d="M0 709.4l1-1.3 1-2.5 1-1.9 1-.4 1 1 1 .1 1 .8 1 .1 1-.8 1 3.1 1-2.1 1 2.3 1-.6 1-1.1 1-1.7 1 .7 1 .1 1-4.9 1-1.8 1-.3 1 .1 1 1.2 1-3 1-1.6 1-4.2 1 .5 1-.6 1-2.7 1-.8 1-.8 1 .8 1-5 1-.2 1 1.5 1 3.5 1-.2 1 .1 1-1.7 1-4.6 1 0 1 1.5 1-1.3 1-1.2 1 .1 1-3.4 1-2.4 1 5 1-3.4 1 1.3 1 1.1 1-4.4 1 .9 1 1 1 .4 1-.5 1-.1 1 5.2 1 1.3 1-3.1 1 .6 1-3.2 1 1.6 1-3.3 1 8 1-3.3 1 1.6 1 3.3 1 .6 1-2.6 1-4.7 1 0 1 3 1 .6 1-4.6 1-.3 1 2.8 1 1.5 1-2.1 1 1.6 1-1.7 1-.3 1 3.9 1-8 1 .5 1 1 1-2.9 1 2.3 1 .6 1 4.4 1 .5 1 2.3 1-.8 1 1.2 1 3.3 1 3.2 1-1 1-.9 1-2.7 1 .4 1 2.9 1 .7 1 .4 1-2.4 1 .3 1-.3 1 3 1 1.1 1 1.1 1 .3 1-1.7 1 4.6 1-5.2 1 5.9 1-1.4 1 1.5 1-1 1 4.1 1 4.1 1-3.4 1-1.9 1-1.5 1 3.5 1 0 1-3.5 1-2.1 1 .5 1-4.1 1 1.4 1 3.7 1-10.3 1-1.2 1 3.3 1-2.5 1-.3 1 .6 1-5.2 1-.9 1-.8 1 1.1 1-2.3 1-2.3 1-1.2 1 1.2 1-5.6 1 4.1 1 .3 1-.8 1 1.8 1-3.1 1-2.1 1 1.3 1 5 1-5.5 1-1.3 1-2.5 1 .7 1-4.8 1 2.6 1 3.1 1-4.7 1 5.3 1 .3 1-.9 1-2.4 1 .1 1-1.1 1-.2 1 2.3 1 1.4 1-1.1 1 2.2 1-4.7 1 1.4 1-.8 1-4.2 1 1.4 1-1.1 1-1.6 1 2.5 1-4.8 1-4.5 1 2.3 1-1.4 1 .6 1 3.3 1-2 1 2.1 1-6.5 1 3.4 1-3.6 1-1.7 1 2.1 1 .5 1 3.6 1 1 1 .2 1-.2 1 0 1 2.5 1-3.7 1 4.9 1 4 1 3 1 1.3 1 1.2 1 1.7 1 11.8 1 1.7 1 4.1 1 .5 1 3.1 1-132.6 1-105 1-35.3 1 1.1 1 19.3 1 10.3 1-.2 1-29.4 1-8.8 1 19.4 1-48.9 1 38.5 1 25.8 1 5.7 1 13.7 1 2.2 1-39.1 1 30.4 1-.5 1 6.5 1 26 1-1.1 1-34.8 1 37.7 1 24.9 1 3.2 1-61.1 1 22.3 1 32.3 1 15 1-43 1 20.7 1 20.9 1 13.2 1 4.3 1-4.3 1-7.5 1 1.3 1 2.5 1 5.4 1-6.5 1-3.8 1 .8 1 2.2 1-2.8 1 1.2 1 .5 1-33.8 1 16.7 1 20.3 1-5.2 1 3.3 1-3.4 1-3.5 1 2.3 1-6.1 1-1.4 1 3 1 8.3 1-.3 1 1.4 1 8.3 1-7.2 1 2.4 1-.7 1-3 1 1.6 1-5.4 1 2.4 1-.7 1-6.6 1-3.4 1 2.5 1 3.9 1 6.2 1-6.6 1-6.2 1 7.4 1 2.6 1-13.2 1-11.8 1 21 1 4.5 1-7.4 1-1.2 1-18.1 1 12.9 1 10.9 1-1 1 4.5 1-3.7 1-10.9 1 5.8 1 4 1-3.7 1 1.3 1 1.5 1 .1 1-.1 1-2.7 1 4.7 1-31.2 1 7.8 1 17.7 1-2.7 1-4.6 1-7.3 1 .7 1 1.4 1-3.3 1-4.6 1-9.5 1-34 1 13.9 1 6.9 1-3.6 1-12.4 1-15.5 1-25.9 1-36.3 1-6.8 1-20.6 1-25.8 1-29.3 1-14.3 1-24.7 1-26.4 1 1.1 1 5.4 1 13.3 1-8.6 1-13.4 1 20.8 1 1.2 1-3.9 1-.1 1 7 1-.2 1 15.7 1-10.3 1-2.8 1 9 1-4.4 1 14.6 1 6.4 1-5.5 1 8.1 1-10.3 1 9.1 1 13.4 1-6.2 1-2.8 1-16.3 1-2.2 1 22.4 1 30.9 1 24.4 1 28.6 1-38.9 1-29.3 1-18.8 1 2.3 1 48.9 1 41.6 1 30.8 1-3.1 1-27.4 1-4.4 1-1.9 1 18.1 1 36.3 1 35 1-1.9 1-25.4 1-33 1-32.2 1-17.3 1 17.5 1 34.8 1 16.1 1 33.9 1 29.1 1 12.1 1-7.5 1-21.3 1 12.8 1-16.8 1-36.5 1-43 1-19.7 1 9.3 1 5.1 1 22.4 1 28 1 27.5 1 20 1 6.9 1-10 1-34.2 1-32.3 1-31.6 1-8.2 1 24.9 1 14.7 1 25.8 1 25.7 1 20.5 1 4.4 1-5.1 1-11.1 1-46.6 1-53.1 1-36.2 1-11.6 1 20.5 1 37.1 1 31.1 1 30.9 1-54.2 1-38.2 1-14.1 1 8.1 1 32.6 1 26.9 1 38.6 1 14.1 1 20 1 13.2 1-6.8 1-37.5 1-46.1 1-58.3 1-6.3 1-6.6 1 23.1 1 40.4 1-36.5 1-7.2 1 9.9 1 27.3 1 26.5 1 14.2 1-16.8 1-45.7 1-48.6 1-5.3 1-23.1 1-12.4 1-14.5 1 15.7 1 8.9 1-9.9 1-5.5 1-12.6 1 10.7 1 1.9 1-7.2 1 9.6 1-8.3 1 12.2 1-3.7 1-3.4 1-3.7 1 10.8 1-15 1 12.2 1 3 1 24.7 1-6.9 1-7.4 1 3.1 1 5.8 1-20.6 1-10.2 1 10.2 1 5.1 1 7.1 1-9.4 1-3.2 1-6.1 1 .2 1 8.5 1 13.1 1 4 1 .5 1 15.2 1-10.5 1-23.5 1 4.7 1 7 1 4.2 1-7.1 1 1.9 1 7.1 1-1.3 1 10.1 1-4.3 1-7.7 1-20.9 1-8.8 1 5.1 1 19.4 1-13.8 1 13.6 1-13.1 1-3.4 1 3.7 1-2.1 1-4.3 1-.6 1 9.8 1 4.3 1 1.7 1 .5 1-2.8 1 15.8 1-18.9 1-2.6 1-1.2 1 6.5 1-5.5 1 8.8 1 17 1-16.2 1-18.1 1 20.5 1 15.8 1-6.2 1-8.1 1-16 1 8.3 1-7.9 1 10.6 1-7.3 1-.8 1 .5 1 10.9 1 .8 1 .4 1-3.8 1 6.4 1 10.4 1-4.2 1-2.8 1-9.2 1 4.9 1 .7 1-14.5 1-4.3 1 6.8 1-10.5 1-12 1 .6 1 11.3 1 4.2 1 7.6 1 8 1 11.7 1-3 1-5.1 1-12.5 1-5.6 1 4.5 1 .4 1-6.6 1-11.9 1 16.7 1-20.3 1 14 1 10.6 1-3.1 1 1.6 1 27.1 1-2.9 1-6.1 1-10.4 1-19.9 1 11 1-11.3 1-9.1 1-1.3 1 10.1 1 15.2 1 0 1-9.8 1 5 1-7.9 1-11.1 1 4.7 1 10.1 1-2.3 1 8.7 1 6.7 1-9.6 1-1.4 1-1.6 1 5.6 1-6.8 1 8.8 1-3.7 1-9.7 1 10.2 1-.2 1 5.1 1 14.1 1-8.3 1-1.7 1-13.7 1-.1 1-3.2 1 1.2 1 8.4 1 3 1 16.3 1-6.5 1 3.6 1 12.4 1-21.5 1-19.2 1 14.5 1-9 1 12.7 1-8.3 1-3.5 1 16.3 1-4.5 1 11 1 13 1-12.1 1-8.7 1 2.8 1-19 1 4.8 1 1 1-8.6 1 13.5 1-15.1 1-6.1 1-.6 1 11.1 1 6.2 1 9.2 1-14 1 .2 1-1.1 1 3 1 1.1 1 2.4 1 7.6 1 .9 1 11 1 2.1 1-2.7 1-21.8 1 1.8 1 .7 1-6.4 1 9.2 1 4.8 1 18.9 1 10.5 1-8.7 1-13.3 1-21.7 1 2.9 1-11.9 1-2.8 1 4.2 1 6 1 7.8 1-7.8 1 8.6 1-1.5 1 2.9 1-5.5 1 2.6 1 7.7 1 15.1 1-2.9 1-11.9 1-17.9 1-3.6 1-10.1"/><path stroke="#698ED0" transform="translate(149.90,0) scale(1.81375,1)" vector-effect="non-scaling-stroke" d="M0 720.3l1-.2 1-1 1-1.1 1 .3 1 .6 1-2 1-1.6 1 1.2 1 .2 1-.1 1-1.3 1 1.7 1-.3 1 .6 1 .4 1-3 1 1.5 1-4.8 1-1.4 1-1.5 1-.6 1 2.4 1-.2 1-4.8 1-1.6 1-2.9 1 2.5 1-1.9 1 1.1 1-6.4 1 2.4 1-1.8 1 1.8 1 2.4 1 .2 1-.8 1-2.2 1-1 1 .9 1-2.6 1 .7 1 1 1-1.9 1-1.5 1-3.9 1 3.4 1-1.8 1 3.6 1 1.6 1-4.1 1 .8 1 .6 1-1.2 1-1.9 1 7.2 1-1.8 1-2 1 4.7 1-1 1 2.8 1-3.8 1-1.8 1-1.5 1 2.5 1 2.1 1 4.1 1-2.7 1-3.2 1 0 1-1.6 1-3.5 1 3.6 1-.7 1-1.2 1 1.5 1 0 1 1.6 1-6.7 1 2.8 1 7.6 1-3.1 1 .1 1-.2 1-6.5 1-.5 1 4.2 1-5.1 1 5.3 1 .2 1 1.4 1-.3 1 .2 1 2.4 1 8.4 1-2.6 1 .2 1-4.4 1-.9 1 1.6 1-2.2 1 5.6 1 .3 1 .3 1-1.7 1 4.9 1-6.3 1 4.2 1 1.6 1 .6 1 7.2 1-5 1-.8 1 4.6 1-7.6 1 5.5 1 .6 1 2.9 1-.2 1-1.6 1 3.2 1-3.5 1-2.5 1 1 1 2.5 1-5.2 1-4.1 1 1.6 1 2.4 1 1.3 1-8.3 1 1.5 1-1.9 1-1.3 1 4.7 1-1.1 1-8.1 1-.6 1 .9 1-.2 1 1.6 1-5.7 1-2.9 1-2.5 1 .6 1 1.6 1 .8 1 2.9 1-.4 1 1.5 1-.4 1-2.7 1 2.3 1-4.7 1-1.5 1 1.9 1 .9 1-5 1-2 1 4.7 1-.5 1 0 1 .2 1-3.2 1-.8 1-.6 1 1.5 1 1.4 1-1.4 1 4.4 1-2.1 1-.2 1-2.7 1-3.6 1 3.8 1-1 1-.5 1 1.7 1-.9 1-1.9 1 1.3 1-2.1 1-1.5 1-1.6 1 .6 1 .2 1 2.6 1-.6 1-4.6 1 6.5 1-4.3 1-4 1 3 1 1.2 1 .2 1-2.3 1-.6 1 3.2 1-3.4 1 2.4 1 2 1 .7 1 3 1 1.9 1-3.7 1 10.7 1-.7 1 3.6 1 8.7 1-.1 1 1 1 1.4 1 5.8 1 1.7 1 1.3 1 3.6 1-1.7 1 5.8 1 1.5 1-1.7 1 0 1-2.4 1-1.4 1-79.5 1-5.8 1-4.2 1-4.6 1 2 1-4.5 1 3.2 1-3.4 1-.9 1-.8 1 9.3 1-4.7 1 1.2 1-6.8 1-.1 1 3.4 1-2.4 1 1 1-2.3 1 5.4 1 5.6 1 6.3 1-1.7 1-6.1 1 7.6 1-9.3 1-1.7 1 4.4 1-.5 1-9.9 1 .4 1 4.7 1 3.3 1-2.9 1 1.3 1 6.3 1-2.4 1-.4 1 2.4 1-2.6 1-3.4 1 1.4 1-1 1 2.9 1-7.3 1 2.2 1-3.2 1 3.1 1-1.8 1 4.7 1-2.1 1 1.9 1-7.8 1 .4 1 6.4 1-4 1-3.7 1 3.9 1-6.6 1 .7 1-1.5 1 8.1 1-5.7 1 5.4 1-10.3 1-3.7 1 12.8 1-2.1 1 3.4 1 3.6 1-7.1 1 4 1-5.7 1 .5 1 1.4 1 4.8 1 0 1 2.3 1-6.3 1-4.2 1 0 1 7 1-7 1-2.3 1 5.6 1 2 1-.9 1-2.7 1-.1 1-1.3 1 2.3 1-10.9 1 2.8 1 1.1 1 1.6 1-10.4 1 2.7 1-3.9 1-2.7 1-4.4 1-3 1-9.7 1 1.9 1-12.8 1-5.2 1-15 1-19.4 1-37.2 1-22.1 1-26.1 1-29.8 1-36.8 1-15.4 1-33.2 1-17.9 1-1.4 1-2 1-7.1 1 .2 1-13.7 1 9 1-11.3 1-.4 1 10.6 1-1.8 1-5.7 1 5 1 13 1-6.5 1-3.8 1 .4 1-7.9 1 8.2 1 0 1 22 1-1 1 5 1 17.3 1 .1 1-5 1 3.6 1 6.4 1 9 1 27.9 1 2.9 1 31.8 1-13.5 1 0 1-12.9 1 1.7 1 14.1 1 33.6 1 20.5 1 22.1 1 6.4 1-18.8 1-38.7 1-36.1 1 .6 1 .6 1 34.9 1 20.7 1 24.6 1-22.8 1-36.3 1-26 1 13.8 1 8.1 1 21.6 1 36.3 1 24.7 1 4.6 1 4.9 1-40.6 1-31.2 1-35 1-15.6 1 8.2 1 42.9 1 17.4 1 23.8 1 10.8 1 27.4 1-10.9 1-36 1-12.9 1-25.8 1 9 1 11.3 1 14.7 1-24.2 1-39.4 1-30.3 1 7.9 1 30.9 1 34 1 29.3 1-25.5 1-41.5 1-8.2 1 2.9 1 1 1-21.7 1 9.5 1 34.8 1-7.8 1 6.4 1 3.8 1 33 1 18.7 1-26.4 1-64.3 1-39 1-14.8 1 23 1 41.8 1 61 1-29.8 1-65.6 1-15 1 8 1 21 1 32.6 1-25 1-51 1-39.8 1-26.1 1-.4 1 2.9 1-32.1 1 .2 1-2.9 1 16.8 1-17.9 1 9 1-3.5 1-11.4 1 9.1 1 16.2 1 4.9 1-2.5 1-2.4 1 8.1 1-14.6 1 3.4 1 7.5 1 8 1 26.4 1 16.9 1 29.3 1 23.8 1 21.4 1 10 1-2.7 1-6.6 1-18.2 1-24 1-28 1-26.1 1 7.9 1 22 1 32.7 1 8.1 1 41 1 5.1 1-2.4 1-22.8 1-18.4 1-28.2 1-19.1 1-28.3 1-15.4 1 3.3 1 35 1 24.2 1 13.5 1 18.5 1 22 1 7 1 1 1-11.6 1-14.8 1-44.7 1 5.5 1 28.6 1 19.5 1 22.7 1-11.4 1-2.7 1-26.2 1-29.4 1-17.6 1-19 1-21.9 1-11.4 1-14.9 1 12.6 1 14.6 1 21.9 1 34.5 1 32.2 1 12.3 1 29.8 1 11.4 1-1.4 1 6.4 1-20.1 1-30.6 1-28.4 1-43.4 1-25.2 1-8.6 1-5.4 1 5.2 1-5.5 1-3.2 1 20.5 1 23.5 1 23.3 1 2.4 1 11.5 1 4.7 1-10.5 1-7.8 1-13.4 1-4.4 1-22.2 1-11.1 1-16.8 1 8.4 1 6.6 1 3.8 1 22.4 1 27.5 1 23.7 1 31 1 19.6 1 19.9 1 8.1 1-37 1-19 1-23.4 1-26.8 1-22.2 1-26 1-7.9 1-13.9 1-.6 1 19.1 1 13.8 1 2.9 1 16.7 1 19.3 1 12.8 1 16.3 1 .1 1 2.7 1-.8 1-16.5 1-16.6 1-15.8 1 10.8 1 15.3 1 2.9 1 11.4 1-6.3 1-23.3 1-6.1 1-21.7 1-10.2 1-13.3 1 13.2 1-1.1 1 20.2 1 34.3 1 31.7 1 16.4 1 26.5 1 13.4 1 5.6 1-12.2 1-30.2 1-30.4 1-26.6 1-36.4 1-10.5 1-17.3 1-4.1 1 5 1-2.6 1 17.3 1 12.1 1 16.9 1 13.4 1 28.3 1 4.6 1 19.2 1-6.8 1-.4 1-42.8 1-2.6 1-39.3 1 8 1 20.5 1 37.6 1 20.7 1 15.9 1 28.1 1-4.7 1-21 1-13.7 1-27.4 1-27.8 1-17.8 1-22 1-5.1 1-8.3 1-12.8 1 9.3 1 10.6 1 15.7 1 3.8 1 12.8 1 11.1 1 23.3 1-.1 1-10.7 1-.4 1 19.3 1 8.3 1 2.4 1 6.2 1-19.6 1 33.1 1-3.3 1 31.8 1-16.9 1-14.7 1-20.7 1-27.5 1-36.7 1 10.4 1 38 1 25.4 1 32.8 1 17.1 1-7.9 1 4.5 1-12.8 1-29.6 1-29.1 1-20.1 1-33.2 1-10.3 1-18.4 1 12.5 1 4.3 1 9.5 1 16 1 14.4 1 13.3 1 11.9 1 11.1 1 10.3 1-.3 1-10 1-10.7 1-34.2 1-25.8 1-22.2 1 14.1 1-22.8"/><path stroke="#327DC2" transform="translate(149.90,0) scale(1.81375,1)" vector-effect="non-scaling-stroke" d="M0 720.2l1 4.8 1-5 1-5.5 1 3.8 1-.5 1-3.3 1 .4 1 3.3 1 .5 1-2.8 1 .4 1-3.6 1 5.1 1-.7 1-2.6 1 1.3 1-4.5 1-3.9 1-3 1 4.9 1-5.7 1 2.7 1-.1 1-5.1 1-1.2 1 5.9 1-2 1-5.5 1 2.6 1-.9 1-.3 1-2 1-1.3 1 .7 1 1.5 1 4.4 1-4.3 1-1.2 1 .9 1-3.9 1-1.2 1 1.5 1-3.8 1-1.2 1-5 1 4.4 1 1.7 1-1.5 1 1.6 1-1.9 1-2.6 1-.1 1-1.9 1 6.9 1-2 1 3.8 1 2.4 1 .7 1-.7 1-.4 1-1.4 1-1.6 1-.2 1 2.8 1 2.8 1-4.7 1 8.5 1-6.5 1-1.2 1-1.4 1-3.3 1 2.3 1 .7 1-1.1 1 0 1 5.4 1-3.2 1 1.4 1-2.4 1 .2 1 2.2 1 .4 1-4.2 1-4.5 1 5.7 1-.9 1 1.6 1-2.3 1 2.7 1-1.5 1-.4 1 6.8 1-3.8 1 5.4 1 1.7 1-6 1 3.1 1-1.7 1-1.2 1 1.8 1 5.5 1-3.4 1-.4 1 .2 1-4.5 1 6 1 .3 1 4.6 1-1.8 1 0 1-1.4 1 2.9 1 2.5 1-2.2 1-3.3 1 3.6 1 4 1 3.1 1 1.4 1-1.8 1-1 1 1.4 1-3.4 1-1.2 1 3.4 1-3.9 1 1.5 1-3.7 1-3.1 1-1.2 1-2 1-1.1 1 1.8 1 0 1 .2 1-4.9 1-2 1 .9 1-2.2 1 3 1-4.1 1-3.5 1-.2 1-1.8 1 3.9 1-1.6 1-1.3 1 3 1-1.7 1-1.4 1-.5 1-.2 1-3.8 1 1.7 1-4.2 1 0 1-1.9 1-.5 1 4.9 1 2 1 .1 1-3.6 1-2.1 1-.4 1 7.6 1-8.6 1 1.3 1 .9 1 2.4 1-3.1 1 2.5 1-4.8 1-1.8 1 4.3 1-1.8 1 2.5 1-1.9 1-2.7 1-1.6 1 2.1 1-6.3 1 .2 1-.9 1 4 1-1.1 1-1.6 1-1.3 1-2.8 1 5.4 1-6.5 1-2.4 1 4.2 1-.6 1-1.5 1 1 1 1.6 1 .4 1-.5 1-2.1 1 3.9 1 4.7 1 4 1 6.7 1-7.3 1 6.7 1 3.2 1 1.8 1 5.8 1 4.4 1 6.9 1-1.4 1 3.3 1 6.2 1-192.5 1-33.5 1-24.4 1 33.7 1 12.1 1-1.9 1-36.8 1 16.7 1-4.6 1 8.2 1-16.4 1 10.6 1 19.2 1 19.6 1-40.9 1 19 1 32.3 1 16.6 1-3.2 1-8.2 1 13.2 1 13.4 1 2.4 1-26.3 1 19.9 1 3.7 1-23.6 1-4.4 1 45.6 1 4.5 1 5.8 1 7.7 1-1.6 1-5.4 1-7.1 1-.8 1 1.3 1 .1 1-4.3 1 5.6 1-1.5 1 3 1-2.2 1 2.9 1-2.6 1 8.3 1-9.2 1-16.2 1 13.2 1-6.6 1-5 1 15.3 1 2.6 1-1.2 1-5.8 1 3.5 1 .9 1-28.6 1 10 1 18.1 1 .9 1-5 1-17.6 1 9 1 8.5 1-.2 1-1.8 1 1.5 1 2.9 1 .8 1-32.9 1 21.8 1 11.3 1-16.4 1 7.5 1 3 1 2.8 1-8.9 1-2.1 1 13 1-15.8 1 12.1 1 2.5 1 .7 1 2.5 1-14.4 1-11.7 1 21.6 1 3.4 1-4.5 1-.5 1 6.7 1-27.4 1 12.6 1 10.8 1-20.6 1 13.8 1 9.9 1-1.8 1-10.2 1 1.2 1-5.1 1-5.6 1-14.2 1 17.6 1-2 1-1 1 .1 1-17.3 1-44.8 1 31.1 1 7.5 1-16.9 1-11.1 1-17.5 1-14.6 1-30.8 1-35.8 1-45 1-40.4 1-38.1 1-34.1 1-38.8 1-10.9 1-23.3 1-1.9 1-6.3 1-9.1 1-.5 1 6.7 1-2.8 1-4.8 1 19.4 1-3.3 1 12 1-.7 1 4.6 1-5.7 1-6.4 1 8 1 12.7 1 6.5 1-2.1 1 11.9 1 1.9 1 18.4 1 5 1-11.1 1 1.8 1 8.8 1 12.4 1 18.3 1 40.2 1 17.2 1-15.3 1-12.3 1-16.7 1 5.3 1 29.4 1 46.9 1 44.3 1 24.3 1 15.5 1-24.3 1-37.2 1-41.8 1-21 1 5.1 1 33.2 1 38.6 1 29.8 1 25.7 1 15.4 1-25.6 1-36.1 1-55.7 1-21.5 1 10.3 1 29.1 1 33.7 1 26.3 1 21.9 1 11.2 1 9.6 1 2.4 1-10.8 1 19.7 1 4.1 1-13.3 1-9.9 1-15.7 1-42.6 1-67.7 1-66.9 1 .1 1 24.1 1 31.5 1 48.8 1 41.5 1 29.1 1-47.8 1-19.2 1-14 1 1 1 8.5 1 37.4 1 17.2 1 17.7 1 31.7 1-10.6 1-25.1 1-50.7 1-59 1-27 1 8.8 1 24.6 1 35.2 1 30 1 23.8 1-33.3 1-35.5 1 6.3 1 5.1 1 29.1 1 30.8 1 21.9 1 8.8 1 7 1 4.5 1-5.3 1-26.4 1-32.9 1-58.8 1-55.5 1-36.1 1-10.8 1-20.4 1-.7 1-12.9 1-7.6 1 .2 1 4 1-14.8 1 6 1 9 1 1.9 1-8.8 1-4.4 1 17.1 1-.9 1 4 1-12.3 1 .8 1-6.4 1 1.9 1 4 1 6 1 17.3 1-1.7 1 22 1 17.6 1 23.9 1 8.1 1 20.9 1-6.2 1 14.7 1-7.2 1-12.2 1-22 1-20.6 1-42 1 .4 1 13.1 1 18.6 1 26.7 1 25.6 1 19.5 1 19.3 1 20 1 2 1-14.9 1-1 1-51.1 1-22.9 1-22.3 1-9.6 1 4.3 1 31.6 1 29.9 1 15.1 1 26.8 1 16 1 16 1-11.5 1-38.1 1-24.7 1-24.9 1-10.4 1 18.5 1 16.9 1 13.2 1-7.8 1-24.6 1-17.1 1-22.8 1-15.2 1-17.3 1 13.3 1-2 1 3.2 1 16.5 1 20.1 1 13.8 1 10.1 1 .3 1 7.8 1-2 1-2.6 1-32 1-15 1-6.1 1-2.3 1-4.4 1 12.2 1 15.8 1 4.6 1 23.8 1 5.5 1-.8 1-.9 1-3.6 1-28.5 1-7.1 1-30.4 1-19.1 1-5.9 1-7.1 1-.8 1-2 1 6.2 1 7.3 1-3.5 1 6.5 1 11.2 1 .3 1 9.3 1 9.9 1 14.5 1 17.3 1 16.7 1 38.3 1 30.1 1 19.8 1-2.2 1-9.1 1-25.5 1-33.6 1-34.8 1-10.9 1-32.5 1-11.3 1 1.7 1 8 1 27.7 1 1.9 1 23.1 1-.2 1 6.4 1-3.1 1-15.4 1-14.8 1-11.7 1-16.9 1 1.9 1 18.7 1 13.5 1 17.4 1 10.3 1 15 1 12.8 1 16 1 .7 1-26.2 1-20.4 1-13.6 1-20.7 1 3.8 1 1 1 20.3 1 28.6 1 42.8 1 22.4 1 14.1 1 15.1 1-4.3 1-32.7 1-31.1 1-28 1-40.7 1-21.4 1-15.2 1-14.4 1 1.6 1 3.5 1-5.8 1 5.1 1 1.8 1 5.5 1 15.7 1 26.3 1 15.1 1 39.3 1 16.3 1 22.6 1-3.4 1 0 1 2.2 1-30.3 1-30.8 1 3.9 1 33.8 1 37.3 1 17.2 1 3.1 1-19 1-7.6 1-36.7 1-31.4 1-27.4 1-19.4 1 32.6 1 19 1 27.2 1 22.2 1 26.9 1 10.1 1 7.5 1-8.8 1-32.6 1-38.3 1-30.5 1 11.8 1 20.1 1 35.2 1 23.2 1-.8 1 5.2 1-30.2 1-22.1 1-40.7 1-27.7 1-21.4 1 5.6 1 6.2 1 31.2 1 16.1 1 22.5 1 14.6 1 10.4 1 7 1-1.2 1-31.4 1-29.1 1-22.8 1-21.2 1-20.2 1 11.4 1-7.6 1 30.5 1 28.1 1 30.7 1 9.2 1 31.3 1 6.6 1-13.9 1 10.6 1-41 1-27.5 1-40 1-23.7 1 19.2"/><path stroke="#848484" transform="translate(149.90,0) scale(1.81375,1)" vector-effect="non-scaling-stroke" d="M0 720.5l1-4 1-4.3 1-.1 1 1.4 1-.5 1-5 1 2.3 1-.1 1 1.7 1-6.1 1-.8 1 4.4 1 4 1-4.1 1 2.6 1-.3 1-3.1 1-7 1 1.1 1-3.1 1 2.3 1 2.4 1-1.5 1-2.3 1 .8 1-.8 1-1 1-.2 1-1.5 1-1.6 1-1.7 1 2.3 1-1.4 1-.6 1 1.8 1-1.8 1-.8 1 2.7 1-6.2 1-1.2 1 3.6 1-5.4 1 2.5 1 3.1 1-6.6 1-.7 1 6.3 1-3.7 1-3.8 1 2.7 1-1.5 1 .9 1 .5 1-.8 1-.1 1 1.1 1 .2 1 4.4 1 .5 1-1.4 1-3.4 1 3.8 1-3 1 5.4 1 .9 1-3.3 1 2.6 1 2.8 1-6.1 1-1.2 1-2 1 5 1-1.1 1-2.8 1 1.4 1 1 1 .2 1 1.6 1-.8 1 0 1 2.7 1 3.9 1-7.6 1-5.7 1 3.1 1-2.8 1 .6 1 1.1 1-1.9 1 .7 1 4.9 1 3.2 1-3.2 1 7.7 1 1.1 1-1.7 1-3.1 1-4 1-1.5 1 6.1 1 0 1 3 1-2.2 1 .1 1 0 1 1.2 1-.4 1 3.8 1-1.4 1 1 1 .4 1 1.6 1 0 1-.9 1 .7 1 2 1 2.1 1 2.6 1-3.2 1 1.8 1 .4 1-.4 1-2.1 1 .7 1-5.7 1 4 1-.5 1 .5 1-3.7 1-2.7 1-.1 1-.9 1 .6 1-.5 1-1.6 1-2.1 1 .9 1-1.9 1 .7 1-2.4 1-.8 1 .4 1-5.3 1 .2 1 3.4 1-2.7 1-2.2 1 4.1 1-.5 1-2 1-1.5 1 4.2 1 0 1-5.3 1-4.2 1 6.5 1-5.3 1-1.4 1 5 1-3.2 1 4.7 1-1.4 1-2.4 1-1.3 1 .3 1-2.5 1-.8 1 4.1 1-2.8 1 3.2 1-.9 1-.3 1 2.1 1-3 1-1.2 1 1 1-.8 1-.4 1-3.2 1 1.3 1-.5 1-.2 1-4.7 1 2.4 1-3 1 3.2 1-3.7 1 0 1-1 1 4.5 1-1.7 1-4.8 1 4.6 1 1.5 1 .4 1-.1 1-1.8 1-1.7 1-3.4 1 7.3 1-1.2 1 4.6 1 3.6 1 1.5 1 1.4 1 2.4 1 7.5 1 5.5 1 3 1-1.1 1 .5 1-89.6 1-60.7 1-40.6 1 11.9 1 17.6 1 9.7 1-4.7 1-28.9 1 14.8 1 12.9 1 5.9 1-23.7 1 2 1 17 1 10.4 1-18.1 1-6.8 1 31.3 1 3.1 1-38.1 1 30.5 1 17.8 1 5.5 1-7.9 1-21.9 1 15.9 1 17.8 1 2.9 1 2.1 1-42 1-8 1 42.5 1 18.1 1-1.7 1 5.5 1-6.4 1-4.8 1 3.1 1 .6 1-.7 1-6.2 1 3 1-5.1 1 8.3 1 1.2 1-6.1 1-3.2 1 9.9 1-4.2 1 7.6 1-6.6 1-3.4 1-3.6 1 3.1 1 .3 1 2.5 1-7.4 1 1.2 1-.8 1 4.1 1 .4 1 .1 1-3.3 1 4.4 1 .4 1 .5 1-1.3 1 1.4 1-3.4 1-2.1 1 2.6 1-6.3 1 3.1 1 3.8 1-1.4 1-5 1-.3 1 2.5 1-1.8 1 1.6 1-1.7 1 1.3 1 2.1 1-4.2 1-.7 1 2 1 1.5 1-1 1 2 1 1.4 1 .2 1-3.3 1 1.9 1 .4 1-1.1 1 2.1 1-1.2 1-3.1 1 3.6 1-11.7 1 7.2 1-2.8 1-5.2 1 .3 1-3.3 1-4.5 1 1.8 1-2.6 1-3.1 1-4.6 1-2.7 1 .7 1-7.8 1-11.1 1-2.3 1-12.3 1-5.9 1-34.9 1-21.7 1-30.3 1-43.7 1-33.2 1-26.7 1-45.3 1-28.4 1-18.7 1-21.7 1-16.5 1 12.9 1-12.4 1-18.9 1 10.7 1 2.9 1-2.2 1-5 1 18.1 1 16.6 1-19.2 1 5.7 1 8.5 1 18 1-12.8 1 11.9 1 6.6 1-4.4 1-2.8 1 11.9 1 1.5 1 22.3 1 3 1-4 1 6.4 1 12.4 1 4.5 1 18.6 1 29.4 1 14.4 1 12.3 1-18.3 1-35.3 1-27.1 1-30.8 1 20.6 1 31.1 1 39.1 1 40.2 1 21.5 1 15.8 1-2.1 1 16.6 1-3.9 1-13.4 1-19.9 1-41.3 1-56.4 1-25.2 1 12 1 19.8 1 38.2 1 25.7 1 30.9 1 17.2 1 5.7 1-9.3 1-37.2 1-54.6 1-20.7 1 14.1 1 33 1 17.8 1 41.6 1 22.7 1 6.3 1-28.2 1-31.6 1-43.7 1-33.2 1-10 1 30.3 1 39.7 1 26.2 1 32.6 1 15.3 1-4 1-17.1 1-21.3 1-32.8 1-3.9 1 4.6 1 35.6 1 26.5 1-49.2 1-20.7 1-1.3 1 15.3 1 26.9 1 28.2 1 7.9 1 13.7 1 5.1 1-2.2 1 4.1 1-8.6 1-25.4 1-31.8 1-18.7 1-1.3 1 34.5 1-5.5 1 29.1 1 14 1-11.8 1-26.2 1-43.4 1-59 1-25.9 1 21.7 1-9.9 1 12.5 1-21.4 1-13.4 1-1.7 1 .7 1 1.1 1-5.7 1 1.7 1 10.3 1-7.4 1-5.7 1 9.8 1-8.5 1 3.9 1 7.1 1 .6 1 2.2 1 8.8 1-9.1 1 9.7 1 9.6 1 5.2 1 1.1 1-22.5 1-6.8 1-13.2 1 4.4 1 8.3 1 11 1 15.9 1-1.7 1 .7 1 11.1 1-10.8 1-4.9 1-14.1 1-12 1 3.5 1 17.6 1-5.6 1-.8 1 7.8 1-12.9 1-.4 1-15.7 1-4.8 1 23.9 1-9.7 1 1.3 1-10.3 1 8.3 1 17.8 1 13.7 1-3.1 1 5.8 1-6.7 1-22.5 1-5 1 15.9 1-9.1 1-12.1 1-3.4 1 10.6 1 5.1 1 8.5 1 13.7 1-1.3 1-.7 1-2.1 1-16 1-7.8 1 8.4 1-2.7 1-9.3 1 17.6 1-.2 1 9 1 17.9 1-3.1 1-6 1-11 1-7.4 1-6.8 1-1.7 1 6.5 1-8.7 1 3.9 1-5.1 1 .9 1-9 1 6 1 4.8 1 6.2 1 9.1 1 14.8 1 2.1 1-.9 1-14.4 1-6 1-14.9 1 4.6 1 6.9 1 3.4 1-11.7 1 2.9 1-2.6 1 3.6 1 8 1 4.5 1 1.3 1 17.2 1-2.5 1-10.3 1-2.6 1-23.6 1 6.2 1-3.7 1-6.2 1-.1 1-5.7 1 11.9 1-11.1 1 13.4 1-10.9 1 2.4 1 10.8 1-25.3 1 16.5 1 14.6 1 12.6 1 11.6 1-10.7 1 2.2 1-18 1-8.7 1 7.4 1 2.9 1 .9 1-14.6 1 18 1-11.1 1-10.9 1 .1 1 10.9 1 13.7 1-9.9 1 8.2 1-6.6 1 13.5 1 15.2 1 7.5 1-22 1-21 1-9.1 1 12.3 1 .6 1 7.5 1-3.2 1-9.5 1-11.3 1 11.1 1 7.5 1 10.9 1 3.2 1 4.9 1-.9 1-2.8 1-5.9 1-11.6 1-5.1 1 6.6 1-4.8 1-4.1 1-4.8 1 9.8 1 1.3 1 10.1 1 8.3 1 .8 1-14.9 1 2.5 1-10.7 1-3.9 1 10.3 1-5 1 11.2 1-1.1 1-3.3 1 3.4 1-6.4 1 1.2 1 5.4 1 10.3 1-8.2 1-17.4 1-9.8 1 12.9 1-.2 1 7.4 1-7.1 1 9.5 1-2.8 1-7.5 1 2.1 1 15.8 1 4.2 1 5.6 1-15.8 1-6.6 1 .8 1-.6 1-6.5 1 13.9 1 11.3 1 5.9 1-3 1 6.1 1-.1 1-8.5 1-3.4 1-18 1-16.7 1 5.8 1 5.7 1 4.1 1-6.8 1 7.5 1 12.8 1 10.7 1 4.1 1-3.1 1 2.5 1-26.6 1-5.9 1-3.4 1-2.3 1 9.3 1 6.3 1 6.4 1-9.2 1-10.8 1-.3 1 9.8 1 7.5 1 7"/><path stroke="#335AA1" transform="translate(149.90,0) scale(1.81375,1)" vector-effect="non-scaling-stroke" d="M0 724.5l1-1.5 1-2.6 1-3.5 1 2.9 1 2.4 1-3.2 1-3.6 1 4.3 1-3.1 1-.2 1-2.9 1 .8 1 2.7 1 4.7 1-2.1 1-1.4 1-4.9 1-1.2 1-2.1 1-3.9 1 .7 1 4.4 1-7.3 1 0 1 1.6 1-2.8 1-.6 1-5.6 1 3.4 1 2.3 1-3.4 1-2.8 1 1.1 1 .7 1-.6 1 2.6 1 .9 1-5.6 1-.2 1 .1 1 0 1-2.9 1 1.6 1-1.1 1-8.2 1 3.5 1 .3 1-.5 1 .4 1-.7 1 4 1 .4 1-2 1-3.2 1 5.8 1 .4 1-1.1 1 .5 1 2.5 1-.8 1-.3 1-3.1 1 1.1 1 6.4 1-1.6 1 .2 1 2 1-2.1 1-1.5 1-4.8 1 3.2 1-1.7 1-1 1-1.2 1 2.7 1-.9 1 4.1 1-2.5 1 .3 1 1.1 1 .5 1 .3 1-2.6 1-3.6 1-1 1-.7 1 2.3 1 .7 1-.3 1 1.9 1 .7 1 2.1 1 3.4 1 3.8 1-2.6 1 3.3 1-1.3 1-1.5 1-2.2 1 6.7 1 .1 1-2.9 1 .2 1 .1 1 2.3 1 1.8 1-4 1 5.6 1 1.5 1-1.7 1-1.5 1 3.9 1-1.8 1-.4 1 .6 1 3.3 1 4.7 1-3 1 1.2 1 1.3 1-2.3 1-.6 1-.3 1-1.1 1-2.1 1-.2 1-2 1 1.1 1-2.7 1-3.5 1-4.9 1-1.1 1 4.6 1-1 1-2.1 1-6.7 1-1.2 1 2.4 1 3.7 1-5.7 1-5.7 1 4.1 1-1.7 1-1.7 1 2.6 1 2.3 1-4.3 1 0 1 1.2 1-1 1 3.4 1-1.2 1-2.2 1-3 1 .6 1-.4 1-2.8 1 1.2 1-1.4 1 2.7 1-.8 1 1.6 1-4.3 1-.6 1 3 1-4.7 1 2.6 1 1.1 1 2.3 1-1.4 1-1.5 1-2.3 1 2.8 1 1.6 1-4.1 1 1.5 1-3 1-.7 1-6.3 1 9 1-5.6 1-4.6 1-.1 1 1 1 4.4 1 .5 1-6 1-2.7 1 .3 1 1.3 1-2.8 1-2.1 1 3.9 1 1.4 1-4.9 1 3.3 1-.4 1 .1 1 .6 1 1.9 1 1.7 1 4.2 1 7.1 1-.1 1 1.9 1 6.2 1 5.9 1 4 1 6.7 1 1.3 1 .1 1 5.3 1 3 1-220.4 1-31.8 1 8.4 1 2 1-12.4 1 14.9 1 6.6 1 1.3 1-36.5 1-2.7 1 32 1 7.3 1-6.6 1-39.7 1 29.7 1 35.1 1 4.7 1-59.1 1 22 1 .8 1 2 1 15.5 1-14.3 1 48.4 1 20.5 1 5.1 1-4.4 1-14.4 1-14.2 1-12.1 1-7.7 1 46.9 1 16.2 1 2.1 1-4.5 1-1.9 1 8.6 1-8.7 1 4.5 1-4.9 1-.7 1-.6 1-.5 1-1.8 1 1.2 1 5 1-20.5 1-7.6 1 20.2 1 5.1 1-.2 1-41.7 1 31.5 1 5.7 1 .9 1 .1 1-3.8 1-32.8 1 22.6 1 15.3 1 4.1 1-9 1-21.1 1 19.5 1-7.1 1 2.3 1 10.2 1 3.1 1-4 1 3.5 1 3.1 1-4 1-27.2 1 8.3 1 5.1 1 10.2 1-1.7 1 4.1 1 4.4 1-8.7 1-36.2 1 23 1 15.4 1-2.3 1-6 1-19.5 1 22.3 1 1.1 1 5.4 1 5 1-2.1 1-1.2 1 2.8 1-3.8 1-27.9 1 17.9 1 3.6 1 2.1 1 .6 1-1.2 1-4.9 1 1.7 1-8 1 1 1-4.2 1 1.3 1-7.6 1-20.4 1 12.5 1 .5 1-7.8 1-6.1 1-10.2 1-17 1-17.7 1-2.6 1-30.1 1-30.5 1-24.2 1-27.7 1-41.4 1-29.4 1-28.2 1-16.3 1-25.7 1 2.3 1-11.8 1 0 1 3.7 1 2.2 1-14.6 1 6.9 1 6.3 1-6.3 1 18.5 1-7.3 1 3.6 1 3.3 1 4.9 1 2 1 14.6 1-1.8 1-4.9 1 8.8 1 7.8 1 14.3 1 .7 1 9.2 1-3 1 23.9 1-8.4 1-13 1-17 1-6.7 1 16.4 1 28.9 1 33.1 1 52.4 1-17.9 1-42.3 1-45.6 1-.8 1 16.5 1-36.4 1-9.2 1 43.2 1 53.9 1 58.9 1-58 1-63.7 1-21.6 1 20.9 1 54 1 45.1 1 65.3 1 24.5 1 19.6 1-1 1 8.3 1-29.6 1-35.3 1-41.5 1-61 1-28.9 1 28.4 1 34.7 1 39.2 1 41.6 1 28.9 1 20.5 1-23.1 1-23.7 1-46.6 1-15.7 1 5.2 1 13.4 1 27.4 1 43.1 1 14.6 1-9.3 1-48.4 1-59.5 1-48.7 1 1.5 1 17 1 54.3 1 31.2 1 25.7 1-1.6 1-40.3 1-43.5 1-15.1 1 14.6 1 36.2 1 45.7 1-66.9 1-55.9 1-32.9 1 26.2 1 42.3 1 31.4 1 58.8 1 22.3 1 22.7 1-38.7 1-55.6 1-30.6 1-4.5 1 7.3 1 24.9 1 15.8 1 13.4 1 2.9 1-17.7 1-59.3 1-52.2 1-33.6 1-28.4 1-8.5 1 5.7 1-2.4 1 2.5 1-4.9 1 5.4 1-2.8 1-11 1 1.2 1 15.4 1 24 1 23.6 1-7 1 9.4 1 25.1 1 14.6 1 2.5 1 6.6 1-6.5 1 15.4 1-15.6 1-21.3 1-38.1 1-13.9 1-21.8 1 9.9 1 7.4 1 11.8 1-2.2 1 10.7 1 15.6 1 16.5 1 11.9 1 6.4 1 7.7 1-3.5 1-20.8 1-12.9 1-14.5 1-11.2 1 2.2 1-31.5 1-5.9 1 12.1 1 6.6 1 1.7 1 12.4 1 19.8 1 28.2 1 29.1 1 43.4 1 21 1 5.7 1-1.7 1-6.2 1-20.6 1-24 1-24.5 1-39.7 1-32.1 1-3.3 1-9.8 1 23.2 1 5.4 1 21 1 18.7 1 17.4 1 15.1 1 12.6 1 16.7 1-12.5 1-33.6 1-2.3 1-34.6 1 20.3 1 33.7 1 26.9 1 .4 1 1.2 1-9.4 1-12.6 1-23.3 1-18.7 1-43.7 1-17.2 1 3.5 1 3.7 1 25.6 1 1.4 1 21.4 1 20.1 1 7.8 1-17.2 1-4.4 1-23.1 1-13 1-14.1 1-1.6 1 18.6 1 16.8 1 6.1 1 27.6 1 14.8 1 9 1 1.2 1-13.9 1-8.2 1-30.8 1-25.8 1-8.5 1-9 1 19 1 5.4 1 30.6 1-4.4 1 11.4 1 10.1 1-13.4 1-7.1 1 27.7 1 20.1 1 7.5 1 6.2 1-18.6 1 4.7 1-37 1-16.7 1 41.3 1 13.9 1 15.4 1-10.5 1-9.3 1-13.3 1-32.8 1-13.9 1-28.2 1-12.6 1 9.3 1 9.1 1 15.7 1 12.5 1 10.2 1 21.4 1 4 1-4.6 1-13.6 1-16.2 1-23.9 1 26.5 1 21.6 1 19.4 1 29.6 1 18.1 1 7.7 1-26.4 1-29.7 1-12.4 1-39.7 1-31.5 1 17.4 1 33.2 1 4.7 1 27.4 1 31.5 1 31.8 1-1.5 1-.8 1-26.3 1-28.2 1-28 1-37.5 1-29.9 1-13.1 1-15.4 1 15.9 1 16.7 1-.7 1 15.2 1 29.3 1 9.6 1 22.1 1-2.4 1 11.2 1-10.5 1-12.7 1-17.7 1-19.3 1-21.5 1 17.6 1 12.6 1 17.1 1 31.1 1 12.4 1 2.5 1 .6 1-7.6 1-22.6 1-17.4 1-35.5 1 1.6 1-10.3 1-4.1 1-13.4 1-4.5 1-2.9 1-1.2 1-14.1 1 8.1 1 17.9 1 7.9 1 19.4 1 13.6 1 14.1 1 21.7 1 6.8 1 2.3 1-.1 1-12 1-15 1-27 1-22.9 1 15.5 1 7.3 1 16.3 1 10.6 1 42.5 1-.5 1 11.9 1 18.3 1-30.8 1-20.1 1-22.6 1-32.1 1-15.4 1-10.5 1-7.2 1 2 1 5.1 1 10.7 1-8 1 11.3 1 19.2 1 20"/><path stroke="#5A8A39" transform="translate(149.90,0) scale(1.81375,1)" vector-effect="non-scaling-stroke" d="M0 718.3l1 .9 1-4.7 1 3.3 1 1.3 1-1 1 1.5 1-2.5 1-5.4 1 5.5 1 .9 1-4.3 1 .5 1 2.2 1 0 1 1.6 1-5.7 1-1 1-3.9 1 .4 1-1.7 1 .1 1 2.2 1-3.4 1-1.6 1 0 1 3.4 1-3.7 1-2.1 1-2 1-.1 1 4.4 1-4.3 1-.8 1 1.6 1-4.2 1 3.3 1 .3 1-1.5 1-.8 1-.2 1-1.6 1 3.4 1-1.3 1-7.2 1 1.8 1 2.4 1 3.2 1 1 1-1.8 1-3.1 1 2 1 2.3 1-4.4 1-2.1 1 7.3 1-2.2 1-1.1 1 2.1 1 2.8 1-1.9 1-3.4 1 1.4 1-.5 1 2.3 1-.5 1 3 1-4.3 1 3.6 1-8.7 1 3.7 1-3.5 1 6.7 1-4.7 1 .5 1 3.6 1-5 1 4.6 1 .2 1 .5 1-2.6 1 3.4 1 1.5 1-9.9 1 .5 1 .7 1-1 1 5.3 1-2.4 1 .6 1 1 1 2 1 2.7 1-.2 1 4.4 1 3.1 1-3.5 1-4.1 1 .4 1-5.7 1 9.4 1-4.2 1 3.8 1-6.3 1 6.4 1-2.5 1 0 1 2.9 1 2.2 1-2 1 0 1 3.8 1 .7 1-3.5 1 .2 1 6.1 1-8.4 1 6.2 1-1.5 1 3.7 1-.4 1-4 1 2.3 1 .5 1-2.6 1-3.4 1 2.4 1-3.4 1 1.3 1 .7 1-2.1 1-4.2 1 .5 1 3.3 1-1.2 1-1.7 1-.8 1-1.6 1-.3 1 1.3 1-2.2 1-3.8 1 1.7 1-4.1 1 2.3 1-2.2 1 .7 1 1.1 1-1.1 1-1.9 1 1.8 1 .8 1 1.1 1-3.6 1-1.5 1-1.1 1 4.6 1-6.9 1 2.1 1 .4 1 2 1 .5 1-2.9 1 .8 1-5.3 1 2.1 1-.8 1 2.7 1 3.3 1-3.9 1 4 1-5.4 1 3.4 1-4.7 1 2.5 1-.7 1 .2 1 2.1 1-2.4 1 .8 1-1.6 1-5.7 1 4.3 1 1 1 .2 1-2.4 1 4.7 1-1.1 1-4.8 1 1.8 1 .8 1-3 1 .5 1-.8 1-.1 1 1.2 1 .1 1-3.7 1 0 1-.3 1 2.6 1 2.8 1 3.9 1 .6 1 1.8 1 1 1-.2 1 4.4 1 8.2 1 2.5 1 1.1 1 2.1 1 1.8 1-151.2 1-36.6 1 31.3 1 9.8 1-33.2 1 15.3 1 2.1 1-9.4 1-14.9 1 33 1 1 1-13.2 1 19.5 1-23.8 1 21.5 1 8.7 1-31.1 1 20.8 1-16.6 1 21 1-17.7 1 25.3 1 17.1 1 3.3 1-11.1 1-41 1 18.8 1 14.5 1-34.5 1 31 1 21.2 1 11.2 1-1.8 1-1.2 1-5.7 1-6 1 1 1 9.7 1-7.3 1-3.1 1 6 1 2.6 1-6 1 5.3 1 1.5 1-5.3 1 1.5 1 4.1 1-.2 1-6 1 1.6 1 .6 1-1.7 1 3 1-5.3 1 5.5 1-1.3 1 8.1 1-9.2 1 1.9 1 3.1 1-.6 1-3.2 1-.9 1 0 1 6 1-8.7 1-5.7 1 5.4 1-4.7 1-1.2 1-.8 1 10.9 1-4.2 1-7.8 1 2.3 1 .8 1 3.3 1-5.7 1 6.6 1 3.6 1-1.2 1-6.4 1 .6 1 3.7 1-2.1 1 2.1 1 .2 1 3.3 1 .4 1-9.4 1 7.7 1-3.2 1-2.6 1-3.4 1 3.3 1 1.1 1 3 1-1.5 1-1.2 1-2.1 1 2.2 1-6 1-1 1-7.3 1-4.1 1 .2 1-4.1 1-9.5 1 4.6 1-6.3 1-8.5 1-6 1-1.9 1-7.6 1-14.8 1-27.1 1-33.9 1-43 1-20.3 1-39.1 1-44.2 1-28.6 1-27.6 1-19 1-31.5 1-6 1-8.8 1-.9 1-2.5 1-2.9 1 8 1 7.9 1 6.3 1-3.6 1 2.4 1 6.2 1 17.8 1-3 1 16.1 1-10.6 1 9.3 1 .3 1-3.3 1-.1 1 3.7 1 15.9 1 4.4 1-2.4 1 1 1 9.9 1 13.4 1 9.7 1 30.1 1 29.7 1-9 1-10.6 1-20.9 1 11.7 1 30 1 26.7 1 31.7 1 26.5 1-.6 1-52.2 1-65.1 1-38.2 1-15.3 1 25 1 27.8 1 52.2 1 55.4 1 15.6 1-41.6 1-20.4 1-43.3 1 .2 1 14.9 1 37.1 1 31.8 1 20.1 1 21.7 1-5.4 1-5.4 1-21.9 1-49.3 1-36 1-6.2 1 12.8 1 26.3 1-42.4 1-19.6 1 15.6 1 19 1 41.8 1 32 1 28.7 1 2.3 1 14.1 1 4.1 1-8.2 1-55.9 1-28 1-59.9 1-32.2 1 .8 1 42 1 39.6 1 45 1 18 1 23.3 1 16 1-15 1-31.5 1-40.6 1-56 1-3.6 1 0 1 42.7 1 35.8 1 18.8 1 25.7 1 16.6 1 11.3 1-2.6 1-11.4 1-17.2 1-40.5 1-46.3 1-60 1 9.8 1 23.2 1 30.4 1 14.2 1-15.2 1-69.6 1-35.8 1-6.5 1-4.4 1-1.4 1 4.9 1-9.9 1-3.4 1-8.8 1 11.2 1-5.2 1 7.5 1-12.3 1 17.2 1-2.7 1-4.5 1 13.3 1 4.8 1 16.3 1 3.6 1 9.4 1 7.1 1-9.1 1-24.2 1-9.9 1-15.4 1 4.6 1 10.3 1 3.3 1 14.6 1 8.8 1 .2 1-18 1 2.6 1-7 1-6.1 1 4.5 1 7.3 1-7.7 1 .9 1-11.2 1 10.9 1-7.9 1 2.1 1 3.5 1-12.6 1-2.1 1 26.9 1-1.2 1 4.1 1-15 1-11.5 1 3.4 1 7.2 1-2.8 1-6.1 1 6 1 2.6 1 13.3 1-6.1 1-2.3 1-14.4 1 0 1 13 1 6.9 1-.4 1 10.7 1-14.2 1-6.8 1 5.4 1 4 1-16 1-4.6 1 1.7 1 4.3 1 8.8 1-8.9 1 15.5 1 1.8 1 3.7 1 .7 1 16.6 1-6.7 1-5.8 1-5.8 1-16.4 1 2.7 1 12.1 1-9 1 10.3 1-1 1 11.9 1 10.8 1-9 1-5.1 1 1.6 1-3.7 1-7.2 1-7.1 1-8.8 1 16.1 1 4.6 1 22.4 1-.2 1-9.9 1-17 1-3.2 1-10.7 1-8.4 1-2.3 1-9.5 1 18.5 1 .4 1 8.6 1-5.9 1-12.7 1 20 1 8.2 1 7.3 1-6 1 .5 1-1 1-10 1 4.3 1 6 1-15.3 1 7 1-17.5 1 6 1-12.9 1 14.7 1 .1 1-3.5 1 1.9 1 5.6 1 1.2 1-3.6 1 2.1 1 1.7 1 7.3 1 3.7 1 19.5 1-.6 1-2.8 1-16.7 1-17.5 1-2.9 1 8.9 1-6.3 1 7.4 1 9.2 1 3.1 1 18.8 1-7.7 1-12.7 1-15.2 1 9 1-1.1 1-4.5 1-9.4 1 .6 1 5.3 1-2.2 1-.4 1-16.7 1 14.3 1-.4 1 2.8 1 6.3 1 6.8 1 3.4 1-3.4 1 3.7 1 11 1-7.8 1 4.6 1-10.3 1-14.1 1 5.5 1-11.4 1 11.4 1 10 1 8.4 1 6 1-.9 1 13.4 1-4.2 1-26.8 1-16.9 1 1.4 1-1.5 1-2.8 1 9.1 1 2 1-4 1 2.4 1 1 1 7.8 1 13.8 1 9.4 1 6.6 1-5.9 1-17.7 1-7.1 1-5.8 1 7.2 1 8.1 1 1.6 1-3.2 1 2.9 1-9.7 1 1.8 1-12.7 1 1.2 1-5.1 1 3.1 1-1.8 1 .3 1 14.5 1-2.9 1 4.5 1 9 1 1.9 1-15.5 1-10.6 1-1.5 1 6.1 1 22.6 1-8.8 1 18.9 1-24.7 1 5.1 1-7.8 1-2.8 1-8.5 1-6.4 1 9.3 1 6.6 1 9 1 4.9 1-1 1-10.7 1-7.5 1 7.5 1 2.6 1 2.9 1-3.8"/><path stroke="#7F6000" transform="translate(149.90,0) scale(1.81375,1)" vector-effect="non-scaling-stroke" d="M0 701.5l1 .8 1-5.2 1 1.1 1 4.1 1-8.1 1 4.6 1-4.1 1 3.6 1-2.6 1-1.4 1-3.3 1 5 1 3 1-.9 1 1.1 1-.1 1-6.2 1-3.7 1 .1 1 .9 1-.9 1-.5 1-2 1 4.3 1-6.9 1-.4 1-1.8 1 2.4 1-5.4 1 .9 1-6.9 1 1.1 1 .6 1-1.2 1 2.5 1-3.3 1 1.1 1-2.6 1-.5 1 1.6 1-2.3 1 1.3 1-2.5 1-1.5 1-.9 1 .5 1 3.6 1-4.2 1 3.6 1-.5 1-2.4 1 2.4 1-5.3 1 2.9 1 4.4 1-.7 1-2.6 1 3.4 1 1 1-.4 1-2.1 1-3.3 1 2.9 1 3.2 1-2.8 1 .9 1 2.2 1-.5 1-2.5 1-3.1 1 3.9 1 .3 1 1.9 1-2.2 1 1.5 1 1.7 1 .2 1-.4 1-.5 1 2.6 1-2.6 1 1.4 1-3.1 1-6.8 1 2.9 1 .6 1-1.8 1 4.3 1-2.1 1 1 1 4.7 1-2.1 1 7.2 1-2.7 1-.2 1 .6 1 1.8 1-1.4 1-.2 1 .8 1 .7 1 .6 1-2.1 1 3.2 1 1.1 1-1.2 1 2.7 1 1 1-.1 1 .8 1 1.5 1 .1 1-.2 1-2.1 1 1.4 1 .6 1 4.8 1-1.4 1 4.8 1-1.5 1-4.3 1 1.3 1-1.1 1 3.9 1-5.4 1-3.8 1 .8 1 .5 1-.3 1-2.2 1-3.8 1-2.4 1 4.4 1-1.3 1-2.3 1-5.9 1 5.4 1-1.7 1-5.6 1-.1 1-2.3 1-2.3 1-1.9 1 .6 1 2.4 1 1.3 1 .2 1-4.3 1-.1 1 .5 1 0 1 3.6 1-4.9 1-1.6 1 3 1-.3 1-3 1-3.7 1 3 1-2.2 1 2.2 1 .8 1-2.2 1-3.4 1 2.7 1 1.2 1 .3 1-1.2 1 1.9 1 .1 1 1.4 1-4.7 1-.2 1 1 1-.7 1 1 1-1.4 1-3.8 1 .2 1-1.9 1 1.9 1-4.4 1-.5 1 .7 1 2.6 1 .4 1-4.5 1 1.3 1 .9 1-4.4 1-2.9 1 2.4 1 2.1 1 4.1 1-2.8 1 1.7 1-1.8 1-3.7 1 1.4 1 3.4 1 .8 1 4.4 1 2.8 1 1.3 1 1.9 1 3.5 1 3.3 1 7.2 1 8.2 1 1.4 1 1.6 1-163.3 1-13 1 2.9 1-32.9 1-2.4 1 28.9 1-4.9 1-28.1 1 24 1 10.4 1 5.5 1-38.8 1 3.1 1 32.4 1 7.7 1-15.9 1 10.6 1 13.6 1-8.8 1-15.3 1-19 1 12.1 1 36.8 1-16 1 5.4 1-25 1 34.3 1-4.8 1-40.7 1 33.1 1 24.9 1 5.1 1-3.1 1 2.2 1-.5 1-3.2 1-2 1-.6 1 2.6 1 3.9 1-2.2 1-4.1 1 2.4 1 3.1 1 2.3 1-6.5 1 3.5 1-2.4 1 1.6 1 1.4 1-2.7 1-1.3 1-1.7 1 0 1 .6 1-3.3 1 2.5 1-.2 1-4.7 1 3 1 3.8 1 4.9 1-1.1 1 1.3 1-8.4 1 3.8 1-1.3 1-3 1 .1 1 .3 1 3.3 1-4.4 1 7.3 1-3.8 1 4.5 1-1.4 1-11.6 1 2.8 1 2.3 1 .8 1 5.1 1-6.4 1-.4 1 1.6 1-1.4 1 4.4 1 .7 1-1.7 1 1 1 4.7 1-9.1 1 3.6 1 .8 1 .9 1-2.8 1-5.4 1 4.7 1-.1 1-5 1 .7 1-.9 1 1.4 1-5.4 1 2 1-.8 1-9.7 1 4.5 1 2.7 1-7.4 1-6.6 1-4.8 1-4.5 1-2 1-9.5 1-13.4 1-5.4 1-18.1 1-23.8 1-15.8 1-31.4 1-45.2 1-29.9 1-26.3 1-36.6 1-32.4 1-10.4 1-18.5 1-12.4 1-5.4 1-6.6 1 4.5 1-1.1 1 7.7 1-1.9 1 0 1-.5 1 17.5 1-3 1-2.8 1 7.6 1-.6 1 15.9 1-1.3 1 16.4 1-10.4 1-5 1 9.5 1 15.1 1-.8 1 5.3 1 13 1 10.2 1-7.1 1-18.8 1 12.5 1 9.5 1 38.2 1 24.4 1 28.9 1-.3 1-35.2 1-35 1-20.8 1 7.1 1 21.2 1 59.2 1 39.1 1 14.1 1 16.2 1-29.5 1-17.6 1-34 1-12.1 1 6.6 1 11 1 40.8 1 19 1 15 1 4.2 1 2.9 1-25.1 1-12.4 1-38.1 1-36.6 1-4.9 1 10.8 1 22.6 1 41.4 1 6.8 1-2.3 1-46.2 1-22.6 1-11.9 1 26.4 1 15.6 1 30.1 1 31.3 1 18.8 1-29.5 1-33.5 1-48.6 1-43.6 1 23.5 1 19.8 1 27.9 1 35.4 1 28.4 1-16.5 1-44.7 1-29.2 1 3.7 1 22 1 31.1 1 26.1 1 15.7 1 3.2 1 15.5 1 2.1 1 12.6 1-1.1 1-10.8 1 5.4 1-26.5 1-40.8 1-51.1 1-28.3 1 25.1 1 9.7 1 31.3 1 20.8 1 26 1 6 1-12.4 1-17.8 1-43.7 1-18.1 1-9.2 1-13.3 1-39.4 1-5.8 1-10.7 1-3.7 1-9.1 1-7.8 1 8.9 1-.4 1 2.6 1 1.2 1-.1 1 14 1-19.9 1-.2 1 7.3 1 15.8 1-11.1 1-5.1 1 26 1-.6 1-16.5 1 6 1-3.8 1-9 1 5.5 1 1.7 1 10.8 1-6.8 1-6.3 1 5.2 1-6.1 1 9.8 1 4.5 1 12.8 1 11.8 1 .6 1-5.5 1-26.8 1 4.4 1-13.6 1 7.4 1 3.3 1-22.1 1 21.3 1-13.5 1 19.6 1-9.2 1 5.5 1 12.8 1 1.4 1-18.6 1 4 1 7.5 1-.3 1-2.2 1 1.9 1 9.4 1 7.7 1 .2 1-12.1 1-18.2 1-7.1 1-1.6 1 3.3 1 1.3 1-6.1 1 5.7 1 4.5 1-3.9 1 19.4 1-8.3 1 8.1 1 .5 1 6.6 1 4.1 1-8.1 1-14.8 1 1.6 1-16.4 1 10.7 1 1.9 1-4.6 1-6.2 1 6.9 1 7.5 1-3.7 1 4.9 1-5.5 1 7.1 1-7.4 1-7.3 1 14.9 1-5.6 1-2.5 1 10.4 1-8.5 1 8.4 1-4.9 1 18.4 1-7.4 1-11.8 1 3.8 1 .6 1-18.5 1 8.8 1 5.2 1 12.7 1-5.2 1-1 1-2 1 20.5 1-11.8 1 6 1-23 1-3.2 1-7.4 1-3.3 1 10.8 1 7.9 1 12.6 1-4.4 1-19.7 1 5.7 1 2.5 1 5.9 1-6 1-4.3 1-4.4 1 5.5 1-7 1 7 1-10.9 1 2.8 1 1.9 1 14 1 15.2 1-3.5 1 10.1 1 5.2 1-26.5 1-16.8 1-2.4 1 12.1 1-9.8 1 15.1 1-7.2 1 6.3 1-5.4 1 4.9 1-1.9 1 4 1 17.2 1 7.3 1-9.6 1-15 1-9.2 1-8.5 1 1.3 1 9.2 1-2 1 .9 1 13.8 1 .6 1 3.9 1-9.3 1-7.8 1-1.2 1 5.6 1 1.3 1 1.9 1 5.5 1 4.8 1-5.9 1 10.2 1-6.3 1-9.9 1-7.3 1 1.7 1-4 1 15.5 1 3.8 1-4.5 1 3 1 11 1 2.1 1-10.3 1-12.5 1 5.1 1-11 1-.6 1-3.7 1 3.1 1 6 1-.8 1-13.2 1 15.6 1 10.7 1 .2 1-3.9 1-4.8 1-11.1 1-.2 1 5.3 1-9.4 1-5.2 1-3.6 1 10.1 1-10.7 1 3.2 1 3.4 1-16.8 1 6.5 1 1.7 1 6.9 1 1.2 1 9.1 1 6.5 1 15.3 1 14.6 1-11.5 1-4.1 1 1.3 1-17.5 1 9.7 1 11 1-15.7 1-11 1 5.4 1 3.5 1-18.3 1 10.7 1 11.3 1 7.2 1 15.4 1-3.3 1-13.9 1-6.5 1-19.5 1 14 1-15 1-2.2 1-2.6 1 14.9 1 4.6 1-9.6"/><path stroke="#8CC168" transform="translate(149.90,0) scale(1.81375,1)" vector-effect="non-scaling-stroke" d="M0 717.6l1-2.1 1-.8 1-5.1 1 2.7 1 2.4 1-1.5 1 .2 1 .5 1 1 1 .1 1-.8 1 1.6 1 2 1 3.8 1-1.3 1-3.1 1-1.5 1-3.3 1-3.4 1 2.7 1-.7 1-.8 1 .1 1-1.3 1-4 1 .9 1 1.3 1 .4 1-.5 1-2.9 1 1.9 1-1.6 1 2.4 1-2.5 1 1.3 1 1 1-2.6 1 2.5 1-7.7 1 5.4 1-1 1-4 1-1.2 1 3.6 1-2.2 1-.8 1 3.1 1-.8 1-.5 1-4.9 1 2.4 1 1.6 1-3 1 2.5 1 .1 1 6.1 1-4.4 1 2.7 1-.9 1 4.5 1-5.8 1-4 1 1.2 1 2.8 1 4.4 1-3 1 .2 1-1.7 1-1.4 1-3 1-1.6 1 1.4 1 1.4 1-1.4 1-1.4 1 4.2 1-.2 1-.5 1 1.7 1-.7 1 1.8 1-2.9 1-1.1 1-2.6 1-1.1 1 1.6 1 3.7 1-4.4 1 3.7 1 2.7 1-.7 1 3.4 1 3.1 1-2.9 1 .9 1 .6 1 3.2 1-8.9 1 3.8 1-.1 1 .5 1 2.1 1-3.1 1 .6 1 2.3 1-2.9 1-.2 1 1.9 1-1.4 1 .4 1 3.3 1 1.9 1-3.6 1-.6 1 1.2 1 2.2 1-1.4 1 5.1 1 3.2 1-1.1 1-4.3 1 2.8 1-6.5 1 3.6 1-2.2 1-5.2 1 6 1-2.3 1 3.5 1-3.7 1-4.3 1 1.3 1 .5 1 1.8 1-2.1 1-1.8 1 1.6 1-2.4 1-2.3 1 2.9 1-2.3 1 .3 1-7.8 1 5.9 1 .1 1-3.2 1 5.5 1 .1 1-3.2 1-3.2 1 2.7 1-.2 1-2.4 1-4.8 1 6.4 1-1.7 1-1.8 1 1.2 1 .3 1 1.5 1 3.2 1-1.7 1-6.2 1 3.9 1 .6 1 .1 1-.3 1-2.6 1 .8 1 4.2 1-2.3 1 .1 1-2.5 1 4.7 1-.9 1-1 1-3.8 1-.5 1-1.7 1 2.2 1-1.5 1-2.1 1-.7 1 .8 1 3.3 1-2.3 1-2 1 1.3 1-.5 1-1.5 1 1.1 1-1.3 1-.9 1 2.2 1 1.6 1-.9 1-1 1-2.2 1-.4 1 .4 1 2.4 1 8.4 1 1.4 1-2.6 1 .5 1 3 1 4.4 1 3.1 1 .3 1 4.5 1-2.7 1-.6 1 3.9 1 2.1 1 2.6 1-2.1 1 4.5 1 3.2 1-6.4 1 2.6 1 .1 1-78.3 1-68.2 1-4.9 1-4.2 1-61.1 1 16.7 1-12.8 1 5.6 1 38.4 1-13 1 9.8 1 4 1-14.5 1-25.4 1 39.1 1 27.7 1-14 1-9 1 22.1 1 19.1 1 1.3 1-28.5 1 15.5 1 13.2 1-40.4 1 29.3 1 21.8 1-30.9 1 18.7 1 12.7 1-27.5 1 19.2 1 14.7 1 5.5 1-.2 1-5.2 1 3.9 1-4.9 1 4.8 1-.1 1-6.7 1 4.9 1 .2 1 3.9 1-4 1 2 1-1.1 1 3 1-1 1-2.9 1 4.5 1 .6 1-3.3 1-1.4 1-2.9 1 5.6 1-6.8 1 1.2 1-2.7 1 7.8 1-6.8 1-1.4 1 2.7 1-2.6 1 7.7 1-5 1-7.4 1 6.8 1 .4 1-2.1 1-1.2 1 5.5 1 2.6 1-.6 1-6.4 1-3.4 1 4.7 1-8.4 1 6.2 1 3.1 1-4.4 1 1.9 1 5.5 1 .5 1 2.3 1-1.8 1-4.7 1-3.9 1-.5 1 7.4 1-6.6 1 2.9 1 .4 1-6.2 1-5.8 1-12.2 1 4.2 1-6.4 1 8 1-3.7 1 4.2 1-15 1-2 1-16.5 1-9.8 1-26.1 1 4.6 1-27.7 1-6.7 1-62.2 1-33 1-35.8 1-59.6 1-36.5 1-25.1 1-10.5 1-27.5 1-9.1 1-16.9 1 2.2 1-6.5 1-.2 1 8.3 1 .8 1 20.7 1-1.7 1 17.8 1-20.7 1 5 1 1.9 1-5.9 1 6.2 1-4.4 1 19 1 0 1 6.1 1 7.9 1 21.2 1-4.9 1-8.3 1 13.2 1 10.4 1 8.5 1 43.8 1 29.8 1 32.3 1 22 1-11.6 1-33.7 1-48.1 1-30.3 1 23 1 44.6 1 54.3 1 28.8 1-19.5 1-23.9 1 2.5 1 8.9 1 23.3 1 25.6 1 32.1 1 25 1 .7 1-20.9 1-25.6 1-44.7 1-13.7 1-3.8 1 25.4 1 18.7 1 35.3 1-27 1-46.6 1-89 1-26 1 .1 1 52.1 1 48.4 1 66.3 1 33.9 1 19.7 1 9.2 1-35.3 1-40.3 1-46.7 1-34.6 1 8.1 1 9.1 1 37.3 1-57.5 1-26.8 1 13.7 1 42.1 1 53.5 1 23.4 1 45.9 1 4.9 1-42.3 1-28.3 1-29 1-11 1 15.4 1 26.1 1 6.1 1 33.1 1-36.7 1-76.5 1-54.6 1-40.6 1 13.8 1 52.2 1 59.6 1 42.2 1 25.9 1 24.7 1 10.8 1-32.4 1-40.8 1-50.8 1-16.6 1-4.5 1 18.4 1 11.4 1 23 1-6.3 1-28.2 1-28.8 1-40.8 1-46.7 1-39.3 1-8.7 1-14 1-8.8 1 8.7 1 10.5 1 18.9 1 16.9 1-7.2 1 10.4 1 4.8 1-2 1-30.8 1 22 1-1.2 1-20.7 1-5.3 1 4.1 1 6.7 1 11.8 1-3.6 1-15 1 4.9 1-4.3 1-12.8 1-11.6 1-.3 1 16.1 1 23.8 1-7.6 1-7.3 1 9.7 1 6.1 1-9.6 1 4.3 1 .7 1-.6 1 14.5 1-.4 1-28.6 1 7 1 10.5 1-5.4 1-15.3 1 8.2 1 2.4 1-5.1 1 1.2 1-1.7 1 12.8 1 5 1-19.9 1-14.9 1-10.8 1 24.1 1 5.8 1-21.8 1 13.5 1 0 1 19.7 1-14.8 1-23.3 1 17.3 1 .8 1 8.1 1 8.3 1-3.1 1-14.8 1-18.1 1 16.2 1-15.1 1 18.1 1 17.1 1-.6 1 6.1 1 11.1 1 7 1-13 1-23.2 1-20 1 6.7 1 18.8 1-21.2 1 12.2 1 11.9 1-4.8 1 12.4 1 4.6 1 16.6 1-.1 1-34.2 1-2.4 1 10.7 1 10.5 1-19.7 1-15.5 1 .9 1 6.2 1 29.1 1 5.5 1-19.3 1-13.3 1 14.2 1 9.2 1 2.3 1-2.5 1-.8 1-2.6 1-12.4 1-.7 1 11.9 1 17.8 1-13.2 1-17.9 1-6.5 1 6.6 1 17.7 1-42.7 1 8.9 1 3.9 1 28.2 1-3.9 1 3.1 1-9.4 1-5.8 1-12 1-10.7 1 25.9 1 7.8 1 9.6 1-5.3 1-17.8 1 1.2 1 19.1 1 13.1 1 2.3 1-25.3 1-2.2 1-.6 1 7 1 14 1 10.7 1-13.7 1-14.8 1 5 1 11 1-1.2 1-11.6 1-6.1 1-6.1 1-9.7 1 6.2 1 17 1 12.3 1-9.6 1 1.5 1-19 1 21.6 1-9.9 1 13.7 1-11.8 1 1.6 1-20.9 1-14.1 1 4.1 1 .2 1 15.1 1 6.1 1-13.9 1 9.8 1 28.2 1-28 1-10.8 1 15.2 1 22 1 13 1-15.6 1-10.3 1-9.7 1 11.4 1-7 1 10.7 1-13.5 1-3.6 1-12.2 1 12.2 1 33.7 1-3 1-30.5 1-14.3 1 9.9 1 36.4 1 18 1-25.1 1-6.3 1 3.1 1-5.6 1-3.1 1 4.8 1-12.3 1 9.4 1 10.8 1-9.1 1 1.1 1-24.1 1 8.7 1-1.6 1 5.3 1-7.9 1-5.3 1-6.4 1 32.7 1 2 1 12.8 1-38 1-18 1 10.7 1 12.4 1 20.1 1-16.4 1-13.9 1 15 1 9.3 1 16.4 1-22 1-41.7 1 5.2 1 12.6 1 18.3 1-.7 1-6.4 1-2.7 1 11.2 1 7.1 1 13.3 1 5.6 1-9.4 1-6 1-22.4 1-4.4 1 21 1-1.8 1-24.3"/><path stroke="#D26012" transform="translate(149.90,0) scale(1.81375,1)" vector-effect="non-scaling-stroke" d="M0 724.1l1-2.6 1-3.7 1-4.6 1 4.2 1-3.2 1 .6 1-1.4 1-1.9 1 4.9 1-1.1 1-3.6 1 5.7 1-4.5 1 3.6 1-.1 1-1.7 1-2.6 1 1.1 1-1.7 1-3.4 1-1.3 1 3.2 1-2.5 1-1 1-4 1 2.4 1-3.3 1 2.7 1-7.2 1-1.6 1 2.8 1-.7 1-2.8 1 3.3 1-1.8 1 1.9 1-2.4 1-1.9 1 2.3 1-5 1 1.9 1-.9 1-2 1-2.6 1 2.6 1 .9 1-2.1 1-.4 1 .8 1-2.3 1-1.1 1 .3 1-1.4 1 1.2 1 2.7 1 2 1-.4 1-.3 1 1 1 .8 1-.2 1-6.6 1 4.1 1 4.5 1-2.3 1 3 1 .6 1-4.4 1 1.2 1-2 1-3.1 1 5 1-.8 1-1.9 1-3.7 1 2.5 1 1.8 1-2.5 1 2.1 1 .3 1 .2 1-3 1 1.5 1-2.2 1-1.3 1 4.9 1-2.6 1 1.3 1 1.2 1-.8 1 5.2 1 3.1 1 .4 1 2.9 1-1.8 1 1 1-.6 1-4.9 1 3.7 1-2.5 1 4 1 1.1 1-.9 1 1 1-4.5 1 6 1-1.4 1 2.7 1-4.1 1 5.4 1-3.6 1 4.7 1 0 1 .1 1-4.6 1 2.4 1 3.5 1 .3 1 2.4 1-4.2 1 .7 1-.7 1-1.1 1 1.4 1-3.8 1-.5 1-1.2 1 0 1-2.3 1-.6 1-5.4 1 4.3 1 1.1 1-6 1 4.9 1-3.1 1-7 1 4.9 1-1.6 1-1.6 1-2.1 1 .6 1-1.5 1 1.1 1-4.3 1 .4 1 2.8 1 1.3 1-3.6 1 .3 1 .4 1 .7 1-3.3 1-2.8 1-3 1 2.6 1-1.4 1-3.2 1 6.4 1-1.7 1 .3 1-.6 1-1.8 1 .7 1-1.6 1 1.9 1-.2 1-.2 1 2.5 1 .2 1-.6 1-5.5 1 2.6 1-.3 1-1 1 .3 1-3.8 1-.5 1 1 1-.8 1-2.9 1-7.4 1 1.7 1 6.7 1-.1 1-4.4 1-3.3 1 1.9 1 2.5 1-1.3 1-4.4 1 1.7 1-.7 1 2.7 1 2.9 1-.9 1-.4 1 1.6 1-.7 1 3.9 1 3.7 1 2.5 1-1.5 1-.2 1 7.1 1 3.5 1 3.5 1 7.1 1 6.2 1-1.3 1 3 1 1.9 1-215.4 1-49.2 1 13.5 1 19.2 1-13 1-27.5 1 24.8 1 17.5 1-11.1 1-44.1 1 23 1 14.2 1-23.3 1 33.7 1 27.5 1-5.1 1-34.3 1 29.1 1 24.1 1-43.5 1 32.9 1 26.9 1 13.4 1-17.1 1-21.5 1 27.5 1 3.1 1-24.8 1 23.9 1 14.1 1 3.1 1 9.4 1 4.3 1-3.5 1-2.4 1 2.6 1-.2 1 1.5 1-5.8 1 3.9 1-3 1-.1 1 2.9 1-8.2 1 2.2 1-1.4 1 5.8 1 1.6 1 5.4 1-5 1-.5 1-1.3 1 1.4 1 1.2 1-2.2 1-10.4 1 3 1 2 1 2.5 1 1.2 1 1 1-4.9 1 4.4 1-1.3 1 .4 1-2.3 1-1.9 1-5.5 1 .2 1-1.9 1-.8 1 8.5 1-2.1 1 1.6 1-4.5 1 .8 1-.9 1 3.1 1-4.1 1 8.1 1-5.4 1-.1 1-1.9 1 2 1 3.5 1 .6 1-2.5 1-2.1 1 1.8 1 4.2 1-.9 1-.8 1-.9 1-1.3 1 2.7 1-2.7 1 .9 1 1.6 1-.8 1-1.7 1-6.5 1-4.8 1-5.1 1 0 1 1.8 1-.9 1 .1 1-7.7 1 8.6 1-12 1 5.3 1-7.9 1-14.5 1-8.8 1-9.7 1-18.5 1-28.6 1-9.4 1-27.4 1-25.1 1-48.6 1-37 1-35.1 1-18.4 1-13.3 1-15.1 1-13.4 1-3.7 1-7 1 3.8 1-3.4 1-2.7 1 11.2 1-3 1-1.6 1-.9 1 5.6 1 7.1 1-3.3 1 14.1 1 0 1-4.1 1 12.9 1-1.6 1 2.1 1 3.9 1 16.2 1 4.9 1-3.6 1 19.8 1 1.2 1-4.1 1 17.7 1 19.3 1 46.9 1-24.7 1-9.7 1 29.8 1 15.9 1 37.1 1-7.4 1-65.1 1-44.2 1 10.5 1 38.6 1 51 1 35.1 1 33.5 1 7.4 1-12.7 1-25.9 1-61 1-58.6 1 5.5 1 41.3 1 60.2 1 31 1 23.4 1 9.6 1-22.8 1-31.7 1-84.2 1-37.8 1-10 1 61.7 1 46.4 1 35.8 1 26.9 1-5.9 1-31.6 1-43.2 1-21.9 1 26.9 1 19.7 1 33.1 1 32 1 12.8 1 .9 1-27.8 1-40.6 1-58.6 1-28.7 1 15.9 1 46.9 1 34 1 45 1 10.1 1-1 1-27.1 1-64.4 1-48.6 1-13.9 1 20.3 1 37.6 1 44.5 1-67.9 1-66.8 1-1.7 1 25.4 1 58.9 1 51.2 1-23.6 1-89.5 1-62.4 1 20.6 1 47.8 1 65.1 1 56.8 1 39.4 1-17.6 1-38.7 1-58.3 1-61.9 1-3.5 1 25.2 1 23.2 1-10.2 1-20.6 1-36.2 1-30.6 1 2.7 1-24.5 1-4.2 1 10.2 1 22.2 1 30.2 1 13.1 1-15.2 1-17.9 1-23.3 1-12.6 1 6.4 1 21.7 1-.1 1 2.4 1 8.9 1 3.3 1 20.4 1-19.8 1-33.4 1-13.6 1 7 1-7.2 1 14.6 1 12.2 1 19.5 1 4.6 1-5.6 1-13.4 1 24.5 1 6.7 1-4.6 1-26 1-23.2 1-15.4 1 28.3 1 26.7 1 8.2 1-3.5 1-43.1 1-3.8 1 17.6 1 27.1 1 14.7 1-27.6 1-21.7 1-13.7 1 12.5 1 31.6 1-39.4 1-18 1 15.6 1 27.4 1 27.2 1 7.1 1-28.2 1-16.6 1 6.6 1 20.1 1 7.3 1-22.6 1-27.6 1-.8 1 24.8 1 30.7 1 17.3 1-20.3 1-10.5 1-26.4 1 10.1 1 9.4 1 22 1-6.9 1-23.5 1-6.8 1 11.7 1 29.5 1 3.5 1-31.7 1 6.1 1-7.4 1 14.2 1 15.6 1 9.8 1-5.3 1 16.3 1-10 1-5.6 1-44.3 1-29.5 1-4.6 1 25.9 1 20.8 1 29.2 1-4.2 1-6.5 1-19.9 1-.9 1 9.3 1 5.4 1 10.3 1-11 1-11.6 1 3.7 1-11.7 1 16.4 1 18.6 1 9.5 1-10.2 1-14.5 1-30.2 1 13.5 1 15.1 1 8.4 1 12.7 1-5.4 1-2.7 1 9.9 1-2.3 1-28.5 1-37.6 1-11.4 1 11.4 1 17.5 1 17.4 1 26.3 1 .4 1-8 1-21.6 1-7.6 1 10.1 1 19.6 1 10.4 1 7.7 1-17.1 1-3.7 1-25.5 1-2.4 1 11.4 1-9.4 1-30.5 1 2.3 1 21.6 1 21.8 1 5.3 1-9.6 1-17.5 1-15.3 1 12.9 1 24.1 1 13.2 1-.9 1-31.6 1-31.8 1 3.8 1 13.9 1 34.4 1 16.4 1 13.6 1-20.6 1-17.6 1-15.9 1 3 1 .7 1-27.1 1 16.6 1 20.4 1 15.1 1-.4 1-15.7 1-20.6 1-6.8 1 19.4 1 28.5 1 7.3 1-17.7 1-36.9 1-5.7 1 19.7 1 22.5 1 16.7 1-35.4 1-14.6 1 4.9 1 17.1 1 12.3 1 24.7 1 16.9 1-32.2 1-7.7 1 5 1 8.8 1 11.2 1-2.2 1-5.7 1-49.3 1-8.7 1 7.5 1 22.7 1 4.9 1 23.1 1-6.3 1-9.5 1 9.8 1 4.8 1 6.1 1-15.7 1-30.9 1-15.3 1 9 1 22.7 1 14 1 20 1-11.3 1-23.3 1-21.1 1 6.5 1 19.2 1 9.6 1 10.2 1 3.1 1-18.4 1-4.2 1-32.3 1 2.8 1 20.3 1 16.7 1 26.5 1-3.6 1-2.2 1-5.7 1-32 1 12.1 1-10.2 1 11 1 32.1 1-19.4 1-9 1-33.9 1-6.9 1 16 1 20.9"/></g>
<line x1="235.1" y1="0.6" x2="235.1" y2="788" stroke="#000" stroke-width="3.2" stroke-dasharray="9.4 7.1 2.6 7.2"/>
<line x1="467.3" y1="0.6" x2="467.3" y2="788" stroke="#000" stroke-width="3.2" stroke-dasharray="9.4 7.1 2.6 7.2"/>
<line x1="707.6" y1="0.6" x2="707.6" y2="788" stroke="#000" stroke-width="3.2" stroke-dasharray="9.4 7.1 2.6 7.2"/>
<line x1="926.3" y1="0.6" x2="926.3" y2="788" stroke="#000" stroke-width="3.2" stroke-dasharray="9.4 7.1 2.6 7.2"/>
<line x1="1144.3" y1="0.6" x2="1144.3" y2="788" stroke="#000" stroke-width="3.2" stroke-dasharray="9.4 7.1 2.6 7.2"/>
<g stroke="#000" stroke-width="3.1" fill="none"><line x1="149.9" y1="56.78" x2="149.9" y2="791" /><line x1="137.9" y1="789.50" x2="149.9" y2="789.50" /><line x1="137.9" y1="667.63" x2="149.9" y2="667.63" /><line x1="137.9" y1="545.76" x2="149.9" y2="545.76" /><line x1="137.9" y1="423.89" x2="149.9" y2="423.89" /><line x1="137.9" y1="302.02" x2="149.9" y2="302.02" /><line x1="137.9" y1="180.15" x2="149.9" y2="180.15" /><line x1="137.9" y1="58.28" x2="149.9" y2="58.28" /><line x1="137.9" y1="789.5" x2="1410" y2="789.5" /><line x1="149.90" y1="789.5" x2="149.90" y2="798.9" /><line x1="222.45" y1="789.5" x2="222.45" y2="798.9" /><line x1="295.00" y1="789.5" x2="295.00" y2="798.9" /><line x1="367.55" y1="789.5" x2="367.55" y2="798.9" /><line x1="440.10" y1="789.5" x2="440.10" y2="798.9" /><line x1="512.65" y1="789.5" x2="512.65" y2="798.9" /><line x1="585.20" y1="789.5" x2="585.20" y2="798.9" /><line x1="657.75" y1="789.5" x2="657.75" y2="798.9" /><line x1="730.30" y1="789.5" x2="730.30" y2="798.9" /><line x1="802.85" y1="789.5" x2="802.85" y2="798.9" /><line x1="875.40" y1="789.5" x2="875.40" y2="798.9" /><line x1="947.95" y1="789.5" x2="947.95" y2="798.9" /><line x1="1020.50" y1="789.5" x2="1020.50" y2="798.9" /><line x1="1093.05" y1="789.5" x2="1093.05" y2="798.9" /><line x1="1165.60" y1="789.5" x2="1165.60" y2="798.9" /><line x1="1238.15" y1="789.5" x2="1238.15" y2="798.9" /><line x1="1310.70" y1="789.5" x2="1310.70" y2="798.9" /><line x1="1383.25" y1="789.5" x2="1383.25" y2="798.9" /></g>
<line x1="535.9" y1="252.8" x2="535.9" y2="330" stroke="#000" stroke-width="3.6"/>
<path d="M525.3 326.4 L546.3 326.4 L535.9 346.5 Z" fill="#000"/>
<rect x="629.6" y="391" width="72.4" height="7.8" fill="#000"/>
<g stroke="#000" stroke-width="2.9" fill="none"><line x1="156.3" y1="996.30" x2="156.3" y2="1515.02"/><line x1="144.60" y1="997.60" x2="156.3" y2="997.60"/><line x1="144.60" y1="1083.62" x2="156.3" y2="1083.62"/><line x1="144.60" y1="1169.64" x2="156.3" y2="1169.64"/><line x1="144.60" y1="1255.66" x2="156.3" y2="1255.66"/><line x1="144.60" y1="1341.68" x2="156.3" y2="1341.68"/><line x1="144.60" y1="1427.70" x2="156.3" y2="1427.70"/><line x1="144.60" y1="1513.72" x2="156.3" y2="1513.72"/><line x1="144.60" y1="1513.72" x2="657.80" y2="1513.72"/><line x1="156.30" y1="1513.72" x2="156.30" y2="1525.02"/><line x1="239.67" y1="1513.72" x2="239.67" y2="1525.02"/><line x1="323.04" y1="1513.72" x2="323.04" y2="1525.02"/><line x1="406.41" y1="1513.72" x2="406.41" y2="1525.02"/><line x1="489.78" y1="1513.72" x2="489.78" y2="1525.02"/><line x1="573.15" y1="1513.72" x2="573.15" y2="1525.02"/><line x1="656.52" y1="1513.72" x2="656.52" y2="1525.02"/></g>
<g stroke="#606060" stroke-width="2.9" fill="none"><line x1="197.20" y1="1437.50" x2="197.20" y2="1447.00"/><line x1="189.30" y1="1437.50" x2="205.10" y2="1437.50"/><line x1="189.30" y1="1447.00" x2="205.10" y2="1447.00"/><line x1="281.30" y1="1420.40" x2="281.30" y2="1442.10"/><line x1="273.40" y1="1420.40" x2="289.20" y2="1420.40"/><line x1="273.40" y1="1442.10" x2="289.20" y2="1442.10"/><line x1="364.70" y1="1247.70" x2="364.70" y2="1335.80"/><line x1="356.80" y1="1247.70" x2="372.60" y2="1247.70"/><line x1="356.80" y1="1335.80" x2="372.60" y2="1335.80"/><line x1="447.90" y1="1021.70" x2="447.90" y2="1118.40"/><line x1="440.00" y1="1021.70" x2="455.80" y2="1021.70"/><line x1="440.00" y1="1118.40" x2="455.80" y2="1118.40"/><line x1="531.50" y1="1054.30" x2="531.50" y2="1148.30"/><line x1="523.60" y1="1054.30" x2="539.40" y2="1054.30"/><line x1="523.60" y1="1148.30" x2="539.40" y2="1148.30"/><line x1="615.20" y1="1040.40" x2="615.20" y2="1146.40"/><line x1="607.30" y1="1040.40" x2="623.10" y2="1040.40"/><line x1="607.30" y1="1146.40" x2="623.10" y2="1146.40"/></g>
<path d="M197.20 1442.20 L281.30 1431.30 L364.70 1291.80 L447.90 1069.80 L531.50 1101.30 L615.20 1093.00" stroke="#000" stroke-width="8" fill="none" stroke-linejoin="round"/>
<circle cx="197.20" cy="1442.20" r="10" fill="#000"/>
<circle cx="281.30" cy="1431.30" r="10" fill="#000"/>
<circle cx="364.70" cy="1291.80" r="10" fill="#000"/>
<circle cx="447.90" cy="1069.80" r="10" fill="#000"/>
<circle cx="531.50" cy="1101.30" r="10" fill="#000"/>
<circle cx="615.20" cy="1093.00" r="10" fill="#000"/>
<g stroke="#000" stroke-width="2.9" fill="none"><line x1="899.9" y1="992.80" x2="899.9" y2="1510.80"/><line x1="888.20" y1="994.10" x2="899.9" y2="994.10"/><line x1="888.20" y1="1080.00" x2="899.9" y2="1080.00"/><line x1="888.20" y1="1165.90" x2="899.9" y2="1165.90"/><line x1="888.20" y1="1251.80" x2="899.9" y2="1251.80"/><line x1="888.20" y1="1337.70" x2="899.9" y2="1337.70"/><line x1="888.20" y1="1423.60" x2="899.9" y2="1423.60"/><line x1="888.20" y1="1509.50" x2="899.9" y2="1509.50"/><line x1="888.20" y1="1509.50" x2="1401.90" y2="1509.50"/><line x1="899.90" y1="1509.50" x2="899.90" y2="1520.80"/><line x1="983.35" y1="1509.50" x2="983.35" y2="1520.80"/><line x1="1066.80" y1="1509.50" x2="1066.80" y2="1520.80"/><line x1="1150.25" y1="1509.50" x2="1150.25" y2="1520.80"/><line x1="1233.70" y1="1509.50" x2="1233.70" y2="1520.80"/><line x1="1317.15" y1="1509.50" x2="1317.15" y2="1520.80"/><line x1="1400.60" y1="1509.50" x2="1400.60" y2="1520.80"/></g>
<g stroke="#606060" stroke-width="2.9" fill="none"><line x1="941.90" y1="1437.80" x2="941.90" y2="1454.00"/><line x1="934.00" y1="1437.80" x2="949.80" y2="1437.80"/><line x1="934.00" y1="1454.00" x2="949.80" y2="1454.00"/><line x1="1025.90" y1="1425.50" x2="1025.90" y2="1445.20"/><line x1="1018.00" y1="1425.50" x2="1033.80" y2="1425.50"/><line x1="1018.00" y1="1445.20" x2="1033.80" y2="1445.20"/><line x1="1108.70" y1="1328.00" x2="1108.70" y2="1380.00"/><line x1="1100.80" y1="1328.00" x2="1116.60" y2="1328.00"/><line x1="1100.80" y1="1380.00" x2="1116.60" y2="1380.00"/><line x1="1192.00" y1="1171.30" x2="1192.00" y2="1245.60"/><line x1="1184.10" y1="1171.30" x2="1199.90" y2="1171.30"/><line x1="1184.10" y1="1245.60" x2="1199.90" y2="1245.60"/><line x1="1275.70" y1="1101.30" x2="1275.70" y2="1187.30"/><line x1="1267.80" y1="1101.30" x2="1283.60" y2="1101.30"/><line x1="1267.80" y1="1187.30" x2="1283.60" y2="1187.30"/><line x1="1359.10" y1="1075.80" x2="1359.10" y2="1175.70"/><line x1="1351.20" y1="1075.80" x2="1367.00" y2="1075.80"/><line x1="1351.20" y1="1175.70" x2="1367.00" y2="1175.70"/></g>
<path d="M941.90 1445.50 L1025.90 1435.00 L1108.70 1353.40 L1192.00 1208.50 L1275.70 1143.90 L1359.10 1125.70" stroke="#000" stroke-width="8.5" fill="none" stroke-linejoin="round"/>
<circle cx="941.90" cy="1445.50" r="9.6" fill="#000"/>
<circle cx="1025.90" cy="1435.00" r="9.6" fill="#000"/>
<circle cx="1108.70" cy="1353.40" r="9.6" fill="#000"/>
<circle cx="1192.00" cy="1208.50" r="9.6" fill="#000"/>
<circle cx="1275.70" cy="1143.90" r="9.6" fill="#000"/>
<circle cx="1359.10" cy="1125.70" r="9.6" fill="#000"/>
<g><text transform="translate(-1.10,38.70) scale(0.9754,1)" font-size="51.89">A.</text><text transform="translate(132.30,41.60) scale(1.0178,1)" font-size="37.67">0 mM</text><text transform="translate(297.41,41.60) scale(1.0169,1)" font-size="38.23">4 mM</text><text transform="translate(538.02,41.60) scale(1.0253,1)" font-size="37.67">8 mM</text><text transform="translate(781.18,41.60) scale(1.0187,1)" font-size="37.67">12 mM</text><text transform="translate(985.06,41.60) scale(1.0233,1)" font-size="37.67">16 mM</text><text transform="translate(1172.46,41.60) scale(0.9842,1)" font-size="37.26">20 mM glucose</text><text transform="translate(68.46,68.88) scale(1.0187,1)" font-size="34.09">1.6</text><text transform="translate(69.44,190.75) scale(0.9721,1)" font-size="34.59">1.4</text><text transform="translate(69.40,312.62) scale(1.0029,1)" font-size="34.09">1.2</text><text transform="translate(96.96,434.49) scale(1.0392,1)" font-size="34.59">1</text><text transform="translate(68.86,556.36) scale(1.0096,1)" font-size="34.09">0.8</text><text transform="translate(68.86,678.23) scale(1.0100,1)" font-size="34.09">0.6</text><text transform="translate(68.87,800.10) scale(0.9988,1)" font-size="34.09">0.4</text><text transform="translate(130.41,843.90) scale(1.0219,1)" font-size="34.80">0</text><text transform="translate(276.71,843.90) scale(0.9770,1)" font-size="34.80">10</text><text transform="translate(413.78,843.90) scale(0.9831,1)" font-size="34.80">20</text><text transform="translate(562.39,843.90) scale(0.9882,1)" font-size="34.80">30</text><text transform="translate(708.41,843.90) scale(0.9876,1)" font-size="34.80">40</text><text transform="translate(854.01,843.90) scale(0.9984,1)" font-size="34.80">50</text><text transform="translate(1002.50,843.90) scale(1.0201,1)" font-size="34.80">60</text><text transform="translate(1148.12,843.90) scale(0.9981,1)" font-size="34.80">70</text><text transform="translate(1293.19,843.90) scale(1.0017,1)" font-size="34.80">80</text><text transform="translate(717.67,887.80) scale(0.9527,1)" font-size="38.92">Time (min)</text><text transform="translate(42.50,535.20) rotate(-90) translate(-1.74,0) scale(0.9071,1)" font-size="37.68">Calcium (fura-2 ratio)</text><text transform="translate(529.92,244.90) scale(1.0241,1)" font-size="29.22">1</text><text transform="translate(546.41,235.40) scale(0.9762,1)" font-size="21.66">st</text><text transform="translate(570.49,244.90) scale(0.9584,1)" font-size="30.91">phase</text><text transform="translate(630.44,338.10) scale(1.0005,1)" font-size="30.93">2</text><text transform="translate(646.97,327.90) scale(1.0297,1)" font-size="20.98">nd</text><text transform="translate(609.89,377.90) scale(0.9375,1)" font-size="31.60">phase</text><text transform="translate(76.36,1008.20) scale(0.9754,1)" font-size="34.23">1.6</text><text transform="translate(76.39,1094.22) scale(0.9501,1)" font-size="34.74">1.4</text><text transform="translate(76.34,1180.24) scale(0.9803,1)" font-size="34.23">1.2</text><text transform="translate(103.06,1266.26) scale(1.0349,1)" font-size="34.74">1</text><text transform="translate(75.47,1352.28) scale(0.9942,1)" font-size="34.23">0.8</text><text transform="translate(75.47,1438.30) scale(0.9946,1)" font-size="34.23">0.6</text><text transform="translate(75.48,1524.32) scale(0.9836,1)" font-size="34.23">0.4</text><text transform="translate(188.19,1572.40) scale(1.0646,1)" font-size="33.80">0</text><text transform="translate(272.02,1572.40) scale(0.9951,1)" font-size="34.30">4</text><text transform="translate(355.06,1572.40) scale(1.0467,1)" font-size="33.80">8</text><text transform="translate(429.23,1572.40) scale(0.9964,1)" font-size="33.80">12</text><text transform="translate(512.81,1572.40) scale(1.0079,1)" font-size="33.80">16</text><text transform="translate(596.23,1572.40) scale(1.0094,1)" font-size="33.80">20</text><text transform="translate(820.96,1004.70) scale(0.9754,1)" font-size="34.23">1.6</text><text transform="translate(820.99,1090.60) scale(0.9501,1)" font-size="34.74">1.4</text><text transform="translate(820.94,1176.50) scale(0.9803,1)" font-size="34.23">1.2</text><text transform="translate(847.66,1262.40) scale(1.0349,1)" font-size="34.74">1</text><text transform="translate(820.07,1348.30) scale(0.9942,1)" font-size="34.23">0.8</text><text transform="translate(820.07,1434.20) scale(0.9946,1)" font-size="34.23">0.6</text><text transform="translate(820.08,1520.10) scale(0.9836,1)" font-size="34.23">0.4</text><text transform="translate(932.59,1568.40) scale(1.0512,1)" font-size="34.23">0</text><text transform="translate(1015.92,1568.40) scale(0.9826,1)" font-size="34.74">4</text><text transform="translate(1098.76,1568.40) scale(1.0335,1)" font-size="34.23">8</text><text transform="translate(1172.83,1568.40) scale(0.9839,1)" font-size="34.23">12</text><text transform="translate(1255.91,1568.40) scale(0.9952,1)" font-size="34.23">16</text><text transform="translate(1339.73,1568.40) scale(0.9967,1)" font-size="34.23">20</text><text transform="translate(14.42,961.90) scale(0.9042,1)" font-size="52.33">B.</text><text transform="translate(252.01,956.90) scale(1.0045,1)" font-size="36.48">1</text><text transform="translate(273.96,944.60) scale(1.0786,1)" font-size="21.35">st</text><text transform="translate(301.90,957.00) scale(0.9284,1)" font-size="38.37">phase (peak)</text><text transform="translate(293.17,1620.20) scale(0.9368,1)" font-size="38.92">Glucose (mM)</text><text transform="translate(42.80,1405.70) rotate(-90) translate(-1.73,0) scale(0.8900,1)" font-size="38.37">Calcium (fura-2 ratio)</text><text transform="translate(737.65,961.50) scale(0.8615,1)" font-size="51.41">C.</text><text transform="translate(975.50,956.20) scale(1.0239,1)" font-size="34.94">2</text><text transform="translate(994.19,942.60) scale(1.2290,1)" font-size="22.22">nd</text><text transform="translate(1033.86,956.20) scale(1.0011,1)" font-size="36.30">phase (plateau)</text><text transform="translate(1030.07,1619.90) scale(0.9460,1)" font-size="38.50">Glucose (mM)</text><text transform="translate(765.90,1405.70) rotate(-90) translate(-1.73,0) scale(0.8900,1)" font-size="38.37">Calcium (fura-2 ratio)</text></g>
</svg></body></html>
